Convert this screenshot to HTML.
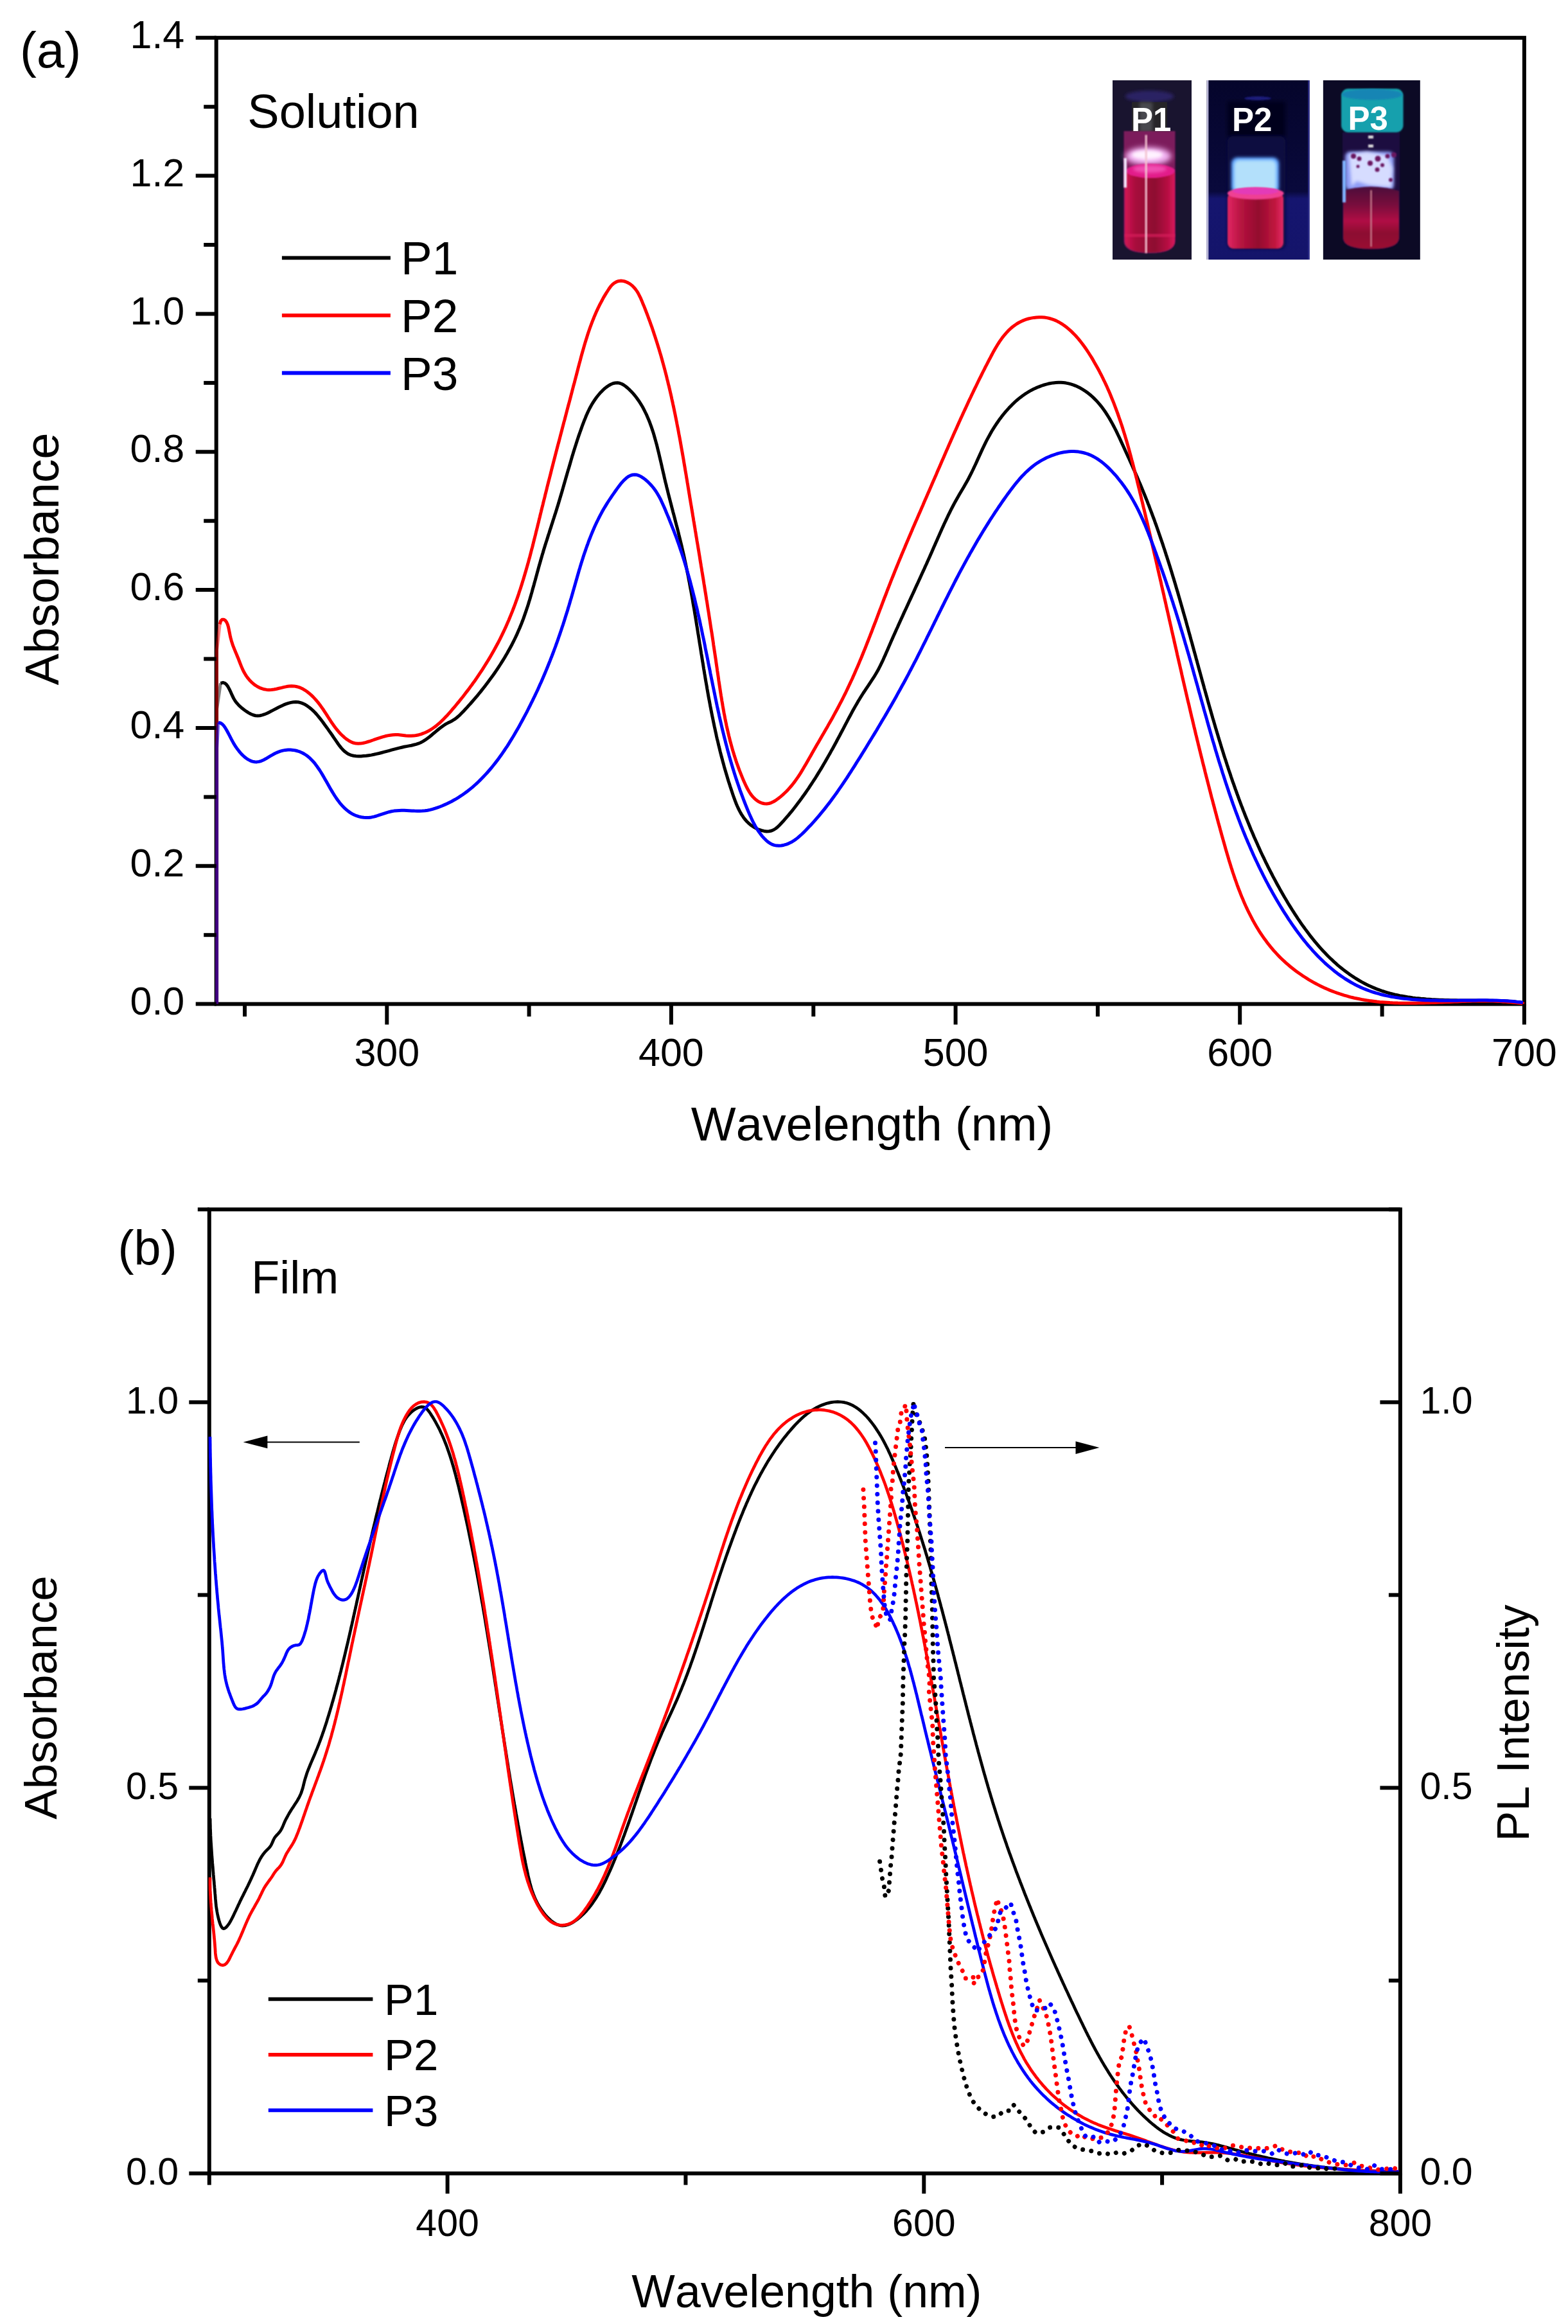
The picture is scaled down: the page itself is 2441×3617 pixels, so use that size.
<!DOCTYPE html>
<html><head><meta charset="utf-8"><title>Figure</title>
<style>
html,body{margin:0;padding:0;background:#fff;}
svg{display:block;}
svg text{font-family:"Liberation Sans",sans-serif;fill:#000;font-kerning:none;}
</style></head><body>
<svg width="2441" height="3617" viewBox="0 0 2441 3617">
<rect width="2441" height="3617" fill="#fff"/>
<g id="plotA">
<rect x="336.7" y="58.8" width="2036.2" height="1503.8" fill="none" stroke="#000" stroke-width="6.0"/>
<path d="M337.6,1562.6 L337.6,1103.3 L343.4,1063.3" fill="none" stroke="#000" stroke-width="5.0" stroke-opacity="0.5" stroke-linejoin="round"/>
<path d="M343.4,1063.3 L347.1,1062.3 L350.2,1063.3 L352.8,1065.7 L355,1068.8 L356.9,1072.4 L358.7,1076.1 L360.4,1079.9 L362.1,1083.6 L363.9,1087.3 L366,1090.7 L368.4,1093.9 L371.1,1096.9 L373.9,1099.7 L376.9,1102.3 L380.1,1104.8 L383.5,1107.2 L386.9,1109.4 L390.4,1111.3 L394,1112.8 L397.6,1113.7 L401.1,1114 L404.7,1113.7 L408.3,1112.9 L411.9,1111.7 L415.5,1110.2 L419.1,1108.4 L422.7,1106.6 L426.4,1104.6 L430.1,1102.7 L433.8,1100.8 L437.6,1099 L441.4,1097.2 L445.2,1095.7 L449.1,1094.4 L452.9,1093.4 L456.7,1092.7 L460.5,1092.5 L464.3,1092.8 L467.9,1093.6 L471.5,1094.9 L475,1096.6 L478.3,1098.7 L481.5,1101 L484.6,1103.5 L487.5,1106.2 L490.4,1109 L493.1,1112 L495.7,1115.1 L498.3,1118.3 L500.8,1121.5 L503.2,1124.7 L505.5,1128 L507.9,1131.2 L510.2,1134.4 L512.4,1137.6 L514.7,1140.8 L517,1144 L519.2,1147.3 L521.5,1150.6 L523.9,1154.1 L526.2,1157.5 L528.7,1160.9 L531.3,1164.1 L534,1167.1 L536.9,1169.8 L539.9,1172.1 L543.2,1174 L546.7,1175.4 L550.4,1176.3 L554.2,1176.7 L558.1,1176.9 L562.1,1176.9 L566,1176.6 L570,1176.3 L574,1175.7 L578,1175.1 L582,1174.3 L586,1173.4 L590,1172.5 L593.9,1171.5 L597.9,1170.4 L601.9,1169.3 L605.8,1168.3 L609.8,1167.2 L613.7,1166.1 L617.6,1165.1 L621.5,1164.1 L625.3,1163.2 L629.2,1162.3 L632.9,1161.6 L636.7,1160.9 L640.4,1160.2 L644.1,1159.3 L647.8,1158.4 L651.4,1157.2 L654.9,1155.7 L658.4,1153.9 L661.9,1151.7 L665.3,1149.3 L668.7,1146.7 L672,1144 L675.2,1141.2 L678.4,1138.6 L681.5,1136 L684.6,1133.5 L687.7,1131.2 L690.8,1129 L694,1126.9 L697.4,1125.1 L700.8,1123.4 L704.1,1121.7 L707.4,1119.7 L710.4,1117.4 L713.4,1115 L716.3,1112.3 L719,1109.6 L721.8,1106.7 L724.5,1103.8 L727.2,1100.9 L729.8,1097.9 L732.5,1095 L735.1,1092 L737.8,1088.9 L740.4,1085.9 L743,1082.8 L745.5,1079.7 L748.1,1076.6 L750.6,1073.4 L753.1,1070.2 L755.6,1067.1 L758.1,1063.8 L760.5,1060.6 L762.9,1057.3 L765.3,1054.1 L767.7,1050.8 L770,1047.5 L772.3,1044.1 L774.5,1040.8 L776.8,1037.4 L779,1034 L781.1,1030.6 L783.3,1027.1 L785.4,1023.7 L787.4,1020.2 L789.5,1016.8 L791.4,1013.3 L793.4,1009.7 L795.3,1006.2 L797.2,1002.7 L799,999.1 L800.8,995.5 L802.5,992 L804.2,988.4 L805.8,984.7 L807.4,981.1 L809,977.5 L810.5,973.8 L812,970.2 L813.4,966.5 L814.8,962.8 L816.1,959.1 L817.4,955.4 L818.7,951.7 L819.9,948 L821.2,944.2 L822.4,940.5 L823.5,936.7 L824.7,933 L825.8,929.2 L826.9,925.4 L828,921.6 L829,917.8 L830.1,914 L831.2,910.2 L832.2,906.4 L833.3,902.6 L834.3,898.8 L835.4,894.9 L836.4,891.1 L837.5,887.2 L838.5,883.4 L839.6,879.5 L840.7,875.7 L841.8,871.8 L842.9,868 L844,864.1 L845.2,860.2 L846.3,856.3 L847.5,852.5 L848.7,848.6 L849.9,844.7 L851.2,840.8 L852.4,836.9 L853.6,833 L854.9,829.2 L856.1,825.3 L857.4,821.4 L858.6,817.5 L859.9,813.6 L861.1,809.7 L862.4,805.8 L863.6,801.9 L864.9,798.1 L866.1,794.2 L867.3,790.3 L868.5,786.4 L869.7,782.6 L870.8,778.7 L872,774.8 L873.1,771 L874.3,767.1 L875.4,763.2 L876.5,759.4 L877.6,755.5 L878.7,751.7 L879.8,747.9 L880.9,744 L882,740.2 L883.1,736.4 L884.2,732.6 L885.4,728.8 L886.5,725 L887.6,721.2 L888.7,717.4 L889.8,713.6 L890.9,709.8 L892.1,706 L893.2,702.3 L894.4,698.5 L895.6,694.8 L896.8,691.1 L898,687.3 L899.2,683.6 L900.4,679.9 L901.7,676.2 L903,672.5 L904.3,668.8 L905.6,665.2 L906.9,661.5 L908.3,657.9 L909.7,654.2 L911.2,650.6 L912.6,647 L914.2,643.4 L915.9,639.8 L917.6,636.2 L919.5,632.7 L921.5,629.1 L923.7,625.6 L926.1,622 L928.6,618.5 L931.4,615 L934.3,611.6 L937.4,608.4 L940.6,605.3 L943.9,602.6 L947.3,600.2 L950.8,598.3 L954.3,596.8 L957.7,596 L961.2,595.8 L964.6,596.3 L967.9,597.5 L971.1,599.3 L974.2,601.5 L977.2,604 L980.1,606.7 L982.9,609.5 L985.6,612.4 L988.1,615.4 L990.6,618.5 L992.9,621.7 L995.2,625 L997.3,628.4 L999.4,631.8 L1001.4,635.3 L1003.2,638.9 L1005,642.5 L1006.8,646.2 L1008.4,649.9 L1010,653.7 L1011.5,657.5 L1012.9,661.4 L1014.3,665.2 L1015.6,669.1 L1016.9,673.1 L1018.1,677 L1019.2,681 L1020.3,684.9 L1021.4,688.9 L1022.5,692.8 L1023.5,696.8 L1024.4,700.7 L1025.4,704.6 L1026.3,708.5 L1027.2,712.3 L1028.1,716.2 L1029,720 L1029.9,723.8 L1030.7,727.7 L1031.6,731.5 L1032.5,735.3 L1033.4,739.1 L1034.2,742.9 L1035.1,746.8 L1036,750.6 L1037,754.4 L1037.9,758.3 L1038.9,762.2 L1039.8,766 L1040.8,769.9 L1041.8,773.8 L1042.8,777.6 L1043.8,781.5 L1044.8,785.4 L1045.8,789.3 L1046.8,793.2 L1047.8,797.1 L1048.9,801 L1049.9,804.9 L1050.9,808.9 L1051.9,812.8 L1052.9,816.7 L1054,820.6 L1055,824.6 L1056,828.5 L1056.9,832.4 L1057.9,836.3 L1058.9,840.3 L1059.8,844.2 L1060.8,848.1 L1061.7,852.1 L1062.6,856 L1063.5,859.9 L1064.4,863.9 L1065.3,867.8 L1066.1,871.7 L1067,875.7 L1067.8,879.6 L1068.6,883.5 L1069.4,887.5 L1070.2,891.4 L1071,895.3 L1071.8,899.3 L1072.5,903.2 L1073.3,907.1 L1074,911.1 L1074.7,915 L1075.5,918.9 L1076.2,922.9 L1076.9,926.8 L1077.6,930.7 L1078.3,934.6 L1078.9,938.6 L1079.6,942.5 L1080.3,946.4 L1081,950.4 L1081.6,954.3 L1082.3,958.2 L1082.9,962.1 L1083.6,966.1 L1084.2,970 L1084.8,973.9 L1085.5,977.8 L1086.1,981.8 L1086.7,985.7 L1087.4,989.6 L1088,993.5 L1088.6,997.5 L1089.2,1001.4 L1089.9,1005.3 L1090.5,1009.2 L1091.1,1013.2 L1091.7,1017.1 L1092.4,1021 L1093,1024.9 L1093.6,1028.8 L1094.3,1032.8 L1094.9,1036.7 L1095.5,1040.6 L1096.2,1044.5 L1096.8,1048.4 L1097.5,1052.3 L1098.1,1056.3 L1098.8,1060.2 L1099.5,1064.1 L1100.2,1068 L1100.8,1071.9 L1101.5,1075.8 L1102.2,1079.7 L1102.9,1083.7 L1103.6,1087.6 L1104.4,1091.5 L1105.1,1095.4 L1105.8,1099.3 L1106.6,1103.2 L1107.3,1107.1 L1108.1,1111 L1108.9,1114.9 L1109.7,1118.8 L1110.5,1122.7 L1111.3,1126.6 L1112.1,1130.5 L1113,1134.4 L1113.8,1138.3 L1114.7,1142.3 L1115.5,1146.2 L1116.4,1150.1 L1117.4,1154 L1118.3,1157.8 L1119.2,1161.7 L1120.2,1165.6 L1121.1,1169.5 L1122.1,1173.4 L1123.1,1177.3 L1124.2,1181.2 L1125.2,1185.1 L1126.3,1189 L1127.3,1192.9 L1128.4,1196.8 L1129.6,1200.7 L1130.7,1204.6 L1131.9,1208.5 L1133,1212.3 L1134.2,1216.2 L1135.5,1220.1 L1136.7,1224 L1138,1227.9 L1139.3,1231.8 L1140.6,1235.7 L1141.9,1239.5 L1143.3,1243.4 L1144.7,1247.2 L1146.2,1251 L1147.8,1254.7 L1149.5,1258.4 L1151.2,1261.9 L1153.1,1265.4 L1155.1,1268.7 L1157.3,1271.9 L1159.6,1275 L1162.1,1277.9 L1164.8,1280.6 L1167.7,1283.2 L1170.8,1285.5 L1174.1,1287.6 L1177.6,1289.5 L1181.4,1291.2 L1185.4,1292.5 L1189.4,1293.4 L1193.4,1293.9 L1197.3,1293.7 L1201,1293 L1204.4,1291.5 L1207.6,1289.5 L1210.7,1287.1 L1213.5,1284.3 L1216.3,1281.3 L1219.1,1278.3 L1221.8,1275.2 L1224.4,1272.2 L1227.1,1269.1 L1229.7,1265.9 L1232.3,1262.8 L1234.8,1259.7 L1237.3,1256.5 L1239.8,1253.3 L1242.2,1250.1 L1244.7,1246.8 L1247.1,1243.6 L1249.4,1240.3 L1251.8,1237 L1254.1,1233.7 L1256.4,1230.4 L1258.7,1227.1 L1260.9,1223.7 L1263.1,1220.4 L1265.3,1217 L1267.5,1213.6 L1269.7,1210.3 L1271.8,1206.9 L1273.9,1203.4 L1276,1200 L1278.1,1196.6 L1280.1,1193.2 L1282.1,1189.7 L1284.2,1186.3 L1286.2,1182.8 L1288.2,1179.3 L1290.1,1175.9 L1292.1,1172.4 L1294,1168.9 L1296,1165.4 L1297.9,1162 L1299.8,1158.5 L1301.7,1155 L1303.5,1151.5 L1305.4,1148 L1307.3,1144.5 L1309.1,1141 L1311,1137.5 L1312.8,1134.1 L1314.6,1130.6 L1316.4,1127.1 L1318.3,1123.6 L1320.1,1120.2 L1321.9,1116.7 L1323.8,1113.2 L1325.6,1109.8 L1327.5,1106.3 L1329.5,1102.8 L1331.4,1099.4 L1333.4,1095.9 L1335.4,1092.4 L1337.5,1089 L1339.6,1085.5 L1341.8,1082 L1344,1078.5 L1346.3,1075.1 L1348.6,1071.6 L1351,1068.1 L1353.3,1064.6 L1355.6,1061.2 L1357.9,1057.7 L1360.2,1054.2 L1362.3,1050.7 L1364.4,1047.2 L1366.4,1043.7 L1368.3,1040.2 L1370.1,1036.7 L1371.8,1033.2 L1373.5,1029.7 L1375.1,1026.2 L1376.7,1022.6 L1378.3,1019.1 L1379.8,1015.6 L1381.4,1012 L1382.9,1008.5 L1384.4,1004.9 L1386,1001.3 L1387.5,997.8 L1389.1,994.2 L1390.7,990.6 L1392.3,987 L1393.9,983.4 L1395.5,979.8 L1397.2,976.2 L1398.8,972.6 L1400.4,969 L1402.1,965.3 L1403.7,961.7 L1405.4,958.1 L1407,954.4 L1408.7,950.8 L1410.4,947.2 L1412.1,943.5 L1413.7,939.9 L1415.4,936.2 L1417.1,932.6 L1418.8,928.9 L1420.5,925.3 L1422.2,921.6 L1423.9,917.9 L1425.5,914.3 L1427.2,910.6 L1428.9,907 L1430.6,903.3 L1432.3,899.6 L1433.9,896 L1435.6,892.3 L1437.3,888.6 L1439,885 L1440.6,881.3 L1442.3,877.7 L1443.9,874 L1445.6,870.3 L1447.2,866.7 L1448.8,863 L1450.4,859.4 L1452,855.7 L1453.6,852.1 L1455.2,848.5 L1456.8,844.8 L1458.4,841.2 L1460,837.5 L1461.6,833.9 L1463.2,830.3 L1464.8,826.7 L1466.4,823 L1468.1,819.4 L1469.7,815.8 L1471.4,812.2 L1473.1,808.6 L1474.8,805 L1476.5,801.4 L1478.3,797.8 L1480.1,794.2 L1481.9,790.6 L1483.8,787 L1485.7,783.4 L1487.7,779.8 L1489.7,776.2 L1491.7,772.7 L1493.8,769.1 L1495.9,765.5 L1498,762 L1500.1,758.4 L1502.2,754.8 L1504.2,751.3 L1506.2,747.7 L1508.1,744.2 L1509.9,740.6 L1511.7,737.1 L1513.5,733.5 L1515.2,730 L1516.8,726.5 L1518.5,723 L1520.1,719.4 L1521.7,715.9 L1523.3,712.4 L1524.9,708.9 L1526.5,705.4 L1528.1,701.9 L1529.7,698.4 L1531.4,694.9 L1533.1,691.4 L1534.8,687.9 L1536.6,684.4 L1538.5,680.9 L1540.4,677.5 L1542.3,674 L1544.3,670.5 L1546.4,667.1 L1548.6,663.7 L1550.8,660.3 L1553.1,657 L1555.4,653.6 L1557.8,650.4 L1560.3,647.1 L1562.8,644 L1565.4,640.8 L1568.1,637.8 L1570.8,634.8 L1573.6,631.9 L1576.5,629 L1579.4,626.2 L1582.4,623.5 L1585.5,620.9 L1588.6,618.4 L1591.8,616 L1595.1,613.7 L1598.5,611.5 L1601.9,609.4 L1605.4,607.4 L1609,605.6 L1612.6,603.9 L1616.3,602.3 L1620.1,600.8 L1623.9,599.5 L1627.8,598.3 L1631.7,597.3 L1635.7,596.5 L1639.6,595.9 L1643.6,595.5 L1647.6,595.3 L1651.6,595.3 L1655.5,595.6 L1659.5,596.1 L1663.4,596.9 L1667.2,597.9 L1671,599.1 L1674.8,600.6 L1678.4,602.3 L1682,604.1 L1685.5,606.2 L1688.9,608.3 L1692.2,610.6 L1695.3,613 L1698.4,615.5 L1701.3,618.2 L1704.1,620.9 L1706.9,623.7 L1709.5,626.6 L1712.1,629.6 L1714.5,632.6 L1716.9,635.8 L1719.2,639 L1721.5,642.3 L1723.6,645.6 L1725.7,649 L1727.8,652.4 L1729.8,655.9 L1731.7,659.4 L1733.6,663 L1735.5,666.6 L1737.3,670.2 L1739.1,673.9 L1740.8,677.5 L1742.6,681.2 L1744.3,684.9 L1746,688.6 L1747.7,692.3 L1749.4,696 L1751.1,699.7 L1752.7,703.3 L1754.4,707 L1756.1,710.7 L1757.8,714.3 L1759.4,718 L1761.1,721.7 L1762.7,725.3 L1764.3,729 L1765.9,732.6 L1767.6,736.3 L1769.2,739.9 L1770.8,743.6 L1772.3,747.3 L1773.9,750.9 L1775.5,754.6 L1777,758.3 L1778.5,761.9 L1780,765.6 L1781.5,769.3 L1783,773 L1784.5,776.7 L1786,780.4 L1787.4,784.1 L1788.9,787.8 L1790.3,791.6 L1791.7,795.3 L1793.1,799 L1794.5,802.8 L1795.9,806.5 L1797.3,810.2 L1798.6,814 L1800,817.7 L1801.3,821.5 L1802.6,825.3 L1803.9,829 L1805.2,832.8 L1806.5,836.6 L1807.8,840.3 L1809.1,844.1 L1810.4,847.9 L1811.6,851.7 L1812.9,855.5 L1814.1,859.3 L1815.3,863.1 L1816.6,866.9 L1817.8,870.7 L1819,874.5 L1820.2,878.3 L1821.4,882.1 L1822.6,885.9 L1823.8,889.8 L1824.9,893.6 L1826.1,897.4 L1827.3,901.2 L1828.4,905.1 L1829.6,908.9 L1830.7,912.7 L1831.8,916.6 L1833,920.4 L1834.1,924.3 L1835.2,928.1 L1836.3,931.9 L1837.4,935.8 L1838.5,939.6 L1839.6,943.5 L1840.7,947.3 L1841.8,951.2 L1842.9,955.1 L1844,958.9 L1845.1,962.8 L1846.2,966.6 L1847.2,970.5 L1848.3,974.4 L1849.4,978.2 L1850.4,982.1 L1851.5,986 L1852.6,989.8 L1853.6,993.7 L1854.7,997.6 L1855.8,1001.4 L1856.8,1005.3 L1857.9,1009.2 L1858.9,1013 L1860,1016.9 L1861.1,1020.8 L1862.1,1024.7 L1863.2,1028.5 L1864.2,1032.4 L1865.3,1036.3 L1866.3,1040.1 L1867.4,1044 L1868.5,1047.9 L1869.5,1051.7 L1870.6,1055.6 L1871.6,1059.5 L1872.7,1063.3 L1873.8,1067.2 L1874.8,1071.1 L1875.9,1074.9 L1877,1078.8 L1878.1,1082.7 L1879.2,1086.5 L1880.2,1090.4 L1881.3,1094.3 L1882.4,1098.1 L1883.5,1102 L1884.6,1105.8 L1885.7,1109.7 L1886.8,1113.5 L1887.9,1117.4 L1889.1,1121.2 L1890.2,1125.1 L1891.3,1128.9 L1892.4,1132.8 L1893.6,1136.6 L1894.7,1140.4 L1895.9,1144.3 L1897,1148.1 L1898.2,1151.9 L1899.4,1155.8 L1900.5,1159.6 L1901.7,1163.4 L1902.9,1167.2 L1904.1,1171 L1905.3,1174.9 L1906.5,1178.7 L1907.8,1182.5 L1909,1186.3 L1910.2,1190.1 L1911.5,1193.9 L1912.7,1197.7 L1914,1201.5 L1915.3,1205.2 L1916.5,1209 L1917.8,1212.8 L1919.1,1216.6 L1920.5,1220.4 L1921.8,1224.1 L1923.1,1227.9 L1924.5,1231.6 L1925.8,1235.4 L1927.2,1239.2 L1928.5,1242.9 L1929.9,1246.6 L1931.3,1250.4 L1932.7,1254.1 L1934.2,1257.8 L1935.6,1261.6 L1937.1,1265.3 L1938.5,1269 L1940,1272.7 L1941.5,1276.4 L1943,1280.1 L1944.5,1283.8 L1946,1287.5 L1947.5,1291.2 L1949.1,1294.8 L1950.7,1298.5 L1952.2,1302.2 L1953.8,1305.8 L1955.5,1309.5 L1957.1,1313.1 L1958.7,1316.8 L1960.4,1320.4 L1962,1324.1 L1963.7,1327.7 L1965.4,1331.3 L1967.2,1334.9 L1968.9,1338.5 L1970.6,1342.1 L1972.4,1345.7 L1974.2,1349.3 L1976,1352.9 L1977.8,1356.4 L1979.7,1360 L1981.5,1363.6 L1983.4,1367.1 L1985.3,1370.7 L1987.2,1374.2 L1989.1,1377.7 L1991.1,1381.2 L1993,1384.8 L1995,1388.3 L1997,1391.8 L1999,1395.3 L2001.1,1398.7 L2003.2,1402.2 L2005.2,1405.7 L2007.3,1409.1 L2009.5,1412.6 L2011.6,1416 L2013.8,1419.4 L2016,1422.8 L2018.2,1426.2 L2020.4,1429.6 L2022.7,1432.9 L2025,1436.3 L2027.3,1439.6 L2029.6,1442.8 L2032,1446.1 L2034.4,1449.3 L2036.8,1452.5 L2039.2,1455.7 L2041.7,1458.9 L2044.2,1462 L2046.7,1465.1 L2049.3,1468.1 L2051.8,1471.1 L2054.4,1474.1 L2057.1,1477.1 L2059.7,1480 L2062.4,1482.8 L2065.2,1485.7 L2067.9,1488.5 L2070.7,1491.2 L2073.6,1493.9 L2076.4,1496.6 L2079.3,1499.2 L2082.2,1501.8 L2085.2,1504.3 L2088.2,1506.7 L2091.2,1509.1 L2094.3,1511.5 L2097.4,1513.8 L2100.5,1516.1 L2103.7,1518.3 L2106.9,1520.4 L2110.1,1522.5 L2113.4,1524.5 L2116.7,1526.5 L2120.1,1528.4 L2123.5,1530.2 L2126.9,1532 L2130.4,1533.7 L2133.9,1535.3 L2137.5,1536.9 L2141.1,1538.4 L2144.7,1539.8 L2148.4,1541.2 L2152.1,1542.5 L2155.9,1543.7 L2159.7,1544.8 L2163.5,1545.9 L2167.4,1546.9 L2171.3,1547.9 L2175.3,1548.7 L2179.2,1549.6 L2183.2,1550.3 L2187.3,1551 L2191.3,1551.7 L2195.4,1552.3 L2199.5,1552.9 L2203.6,1553.4 L2207.8,1553.8 L2211.9,1554.3 L2216.1,1554.6 L2220.3,1555 L2224.5,1555.3 L2228.7,1555.6 L2232.9,1555.8 L2237.1,1556 L2241.3,1556.2 L2245.5,1556.3 L2249.7,1556.5 L2254,1556.6 L2258.2,1556.7 L2262.4,1556.8 L2266.6,1556.8 L2270.8,1556.9 L2275,1556.9 L2279.1,1556.9 L2283.3,1557 L2287.4,1557 L2291.5,1557 L2295.6,1557 L2299.7,1557 L2303.8,1557 L2307.8,1557.1 L2311.8,1557.1 L2315.8,1557.1 L2319.7,1557.2 L2323.6,1557.3 L2327.5,1557.4 L2331.3,1557.5 L2335.1,1557.6 L2338.9,1557.7 L2342.6,1557.9 L2346.3,1558.1 L2349.9,1558.4 L2353.5,1558.6 L2357,1558.9 L2360.5,1559.3 L2363.9,1559.6 L2367.3,1560 L2370.5,1560.5" fill="none" stroke="#000" stroke-width="5.0" stroke-linejoin="round"/>
<path d="M337.6,1562.6 L337.6,1011.6 L342.2,971.6" fill="none" stroke="#f00" stroke-width="5.0" stroke-opacity="0.5" stroke-linejoin="round"/>
<path d="M342.2,971.6 L343.6,966.5 L345.8,964.3 L348.3,964.2 L350.8,965.7 L352.7,968.3 L354.3,971.7 L355.5,975.7 L356.4,980.1 L357.3,984.6 L358.2,989.1 L359.2,993.4 L360.3,997.4 L361.5,1001.2 L362.7,1004.9 L364.1,1008.4 L365.5,1011.9 L366.9,1015.3 L368.4,1018.7 L369.8,1022.2 L371.3,1025.8 L372.7,1029.5 L374.2,1033.3 L375.7,1037.1 L377.3,1040.9 L379.1,1044.7 L381.1,1048.3 L383.3,1051.9 L385.7,1055.2 L388.4,1058.4 L391.2,1061.3 L394.2,1064 L397.3,1066.4 L400.6,1068.5 L404,1070.3 L407.6,1071.7 L411.2,1072.8 L415,1073.4 L418.8,1073.7 L422.6,1073.5 L426.5,1073 L430.5,1072.2 L434.4,1071.3 L438.4,1070.4 L442.3,1069.4 L446.2,1068.6 L450,1068.1 L453.8,1067.8 L457.6,1067.9 L461.2,1068.5 L464.7,1069.4 L468.2,1070.7 L471.6,1072.3 L474.9,1074.3 L478.1,1076.5 L481.2,1078.9 L484.3,1081.6 L487.2,1084.4 L490,1087.4 L492.8,1090.5 L495.4,1093.7 L498,1097 L500.4,1100.4 L502.8,1103.7 L505,1107.1 L507.2,1110.4 L509.3,1113.7 L511.4,1117 L513.5,1120.2 L515.6,1123.5 L517.8,1126.7 L520,1129.8 L522.4,1133 L524.9,1136.1 L527.5,1139.2 L530.3,1142.2 L533.4,1145.2 L536.6,1148.1 L539.9,1150.7 L543.4,1153 L546.9,1154.9 L550.6,1156.3 L554.2,1157.1 L557.9,1157.3 L561.5,1157.1 L565.2,1156.5 L569,1155.6 L572.7,1154.5 L576.5,1153.3 L580.3,1152 L584.1,1150.6 L587.9,1149.3 L591.8,1148.1 L595.7,1146.9 L599.6,1145.8 L603.6,1144.9 L607.6,1144.2 L611.6,1143.7 L615.6,1143.5 L619.7,1143.6 L623.8,1143.9 L627.8,1144.4 L631.9,1144.9 L636,1145.2 L640.1,1145.3 L644.1,1145.1 L648,1144.5 L651.9,1143.7 L655.7,1142.6 L659.3,1141.2 L662.9,1139.7 L666.4,1138 L669.7,1136.1 L673,1134 L676.2,1131.8 L679.3,1129.4 L682.3,1126.9 L685.3,1124.3 L688.2,1121.5 L691,1118.7 L693.8,1115.8 L696.6,1112.9 L699.3,1109.9 L702,1106.8 L704.6,1103.7 L707.3,1100.6 L709.9,1097.5 L712.4,1094.4 L715,1091.3 L717.5,1088.1 L720.1,1085 L722.6,1081.8 L725,1078.6 L727.5,1075.4 L729.9,1072.2 L732.3,1068.9 L734.7,1065.7 L737,1062.4 L739.4,1059.2 L741.7,1055.9 L743.9,1052.6 L746.2,1049.2 L748.4,1045.9 L750.6,1042.6 L752.8,1039.2 L754.9,1035.8 L757,1032.4 L759.1,1029 L761.2,1025.6 L763.2,1022.2 L765.2,1018.8 L767.2,1015.3 L769.2,1011.8 L771.1,1008.3 L773,1004.8 L774.9,1001.3 L776.7,997.8 L778.5,994.3 L780.3,990.7 L782,987.1 L783.7,983.6 L785.4,980 L787.1,976.4 L788.7,972.7 L790.3,969.1 L791.9,965.5 L793.4,961.8 L794.9,958.1 L796.4,954.4 L797.9,950.7 L799.3,947 L800.7,943.3 L802.1,939.6 L803.4,935.9 L804.8,932.1 L806.1,928.4 L807.4,924.6 L808.6,920.8 L809.9,917 L811.1,913.2 L812.3,909.4 L813.5,905.6 L814.7,901.8 L815.8,898 L817,894.1 L818.1,890.3 L819.2,886.5 L820.3,882.6 L821.4,878.8 L822.5,874.9 L823.5,871 L824.6,867.2 L825.6,863.3 L826.6,859.4 L827.6,855.5 L828.7,851.6 L829.7,847.7 L830.6,843.8 L831.6,839.9 L832.6,836 L833.6,832.1 L834.5,828.2 L835.5,824.3 L836.5,820.4 L837.4,816.5 L838.4,812.6 L839.3,808.7 L840.3,804.8 L841.2,800.9 L842.2,797 L843.1,793.1 L844.1,789.2 L845.1,785.3 L846,781.4 L847,777.5 L848,773.6 L848.9,769.7 L849.9,765.8 L850.9,761.9 L851.8,758 L852.8,754.1 L853.8,750.2 L854.8,746.4 L855.8,742.5 L856.8,738.6 L857.8,734.7 L858.7,730.8 L859.7,727 L860.7,723.1 L861.7,719.2 L862.7,715.3 L863.7,711.5 L864.7,707.6 L865.7,703.7 L866.7,699.8 L867.7,696 L868.7,692.1 L869.8,688.3 L870.8,684.4 L871.8,680.5 L872.8,676.7 L873.8,672.8 L874.8,669 L875.8,665.1 L876.8,661.3 L877.8,657.4 L878.9,653.6 L879.9,649.7 L880.9,645.9 L881.9,642 L882.9,638.2 L883.9,634.3 L884.9,630.5 L886,626.6 L887,622.8 L888,619 L889,615.1 L890,611.3 L891,607.4 L892,603.6 L893,599.7 L894.1,595.9 L895.1,592 L896.1,588.2 L897.1,584.3 L898.1,580.5 L899.1,576.6 L900.1,572.7 L901.1,568.9 L902.1,565 L903.2,561.1 L904.2,557.2 L905.2,553.4 L906.3,549.5 L907.4,545.6 L908.5,541.8 L909.6,537.9 L910.7,534.1 L911.9,530.2 L913.1,526.4 L914.3,522.6 L915.5,518.8 L916.8,515 L918.1,511.2 L919.5,507.4 L920.9,503.6 L922.3,499.9 L923.8,496.2 L925.3,492.4 L926.9,488.7 L928.5,485.1 L930.2,481.4 L931.9,477.8 L933.7,474.2 L935.6,470.6 L937.5,467 L939.4,463.4 L941.5,459.9 L943.6,456.4 L945.8,453 L948,449.5 L950.4,446.2 L953.1,443.2 L956.1,440.6 L959.5,438.7 L963.1,437.4 L966.8,437.1 L970.5,437.4 L974.1,438.5 L977.7,440.1 L981.1,442.1 L984.2,444.6 L987,447.4 L989.5,450.4 L991.8,453.6 L993.8,457 L995.6,460.6 L997.4,464.2 L999,467.9 L1000.5,471.7 L1002.1,475.4 L1003.6,479.2 L1005.1,483 L1006.5,486.7 L1008,490.5 L1009.4,494.3 L1010.8,498.1 L1012.2,501.9 L1013.5,505.7 L1014.9,509.4 L1016.2,513.2 L1017.5,517.1 L1018.7,520.9 L1020,524.7 L1021.2,528.5 L1022.4,532.3 L1023.6,536.1 L1024.8,540 L1026,543.8 L1027.1,547.6 L1028.3,551.5 L1029.4,555.3 L1030.5,559.2 L1031.5,563 L1032.6,566.9 L1033.6,570.7 L1034.7,574.6 L1035.7,578.5 L1036.7,582.3 L1037.7,586.2 L1038.6,590.1 L1039.6,594 L1040.5,597.9 L1041.5,601.7 L1042.4,605.6 L1043.3,609.5 L1044.2,613.4 L1045.1,617.3 L1045.9,621.2 L1046.8,625.1 L1047.6,629 L1048.5,632.9 L1049.3,636.8 L1050.1,640.7 L1050.9,644.6 L1051.7,648.6 L1052.5,652.5 L1053.3,656.4 L1054,660.3 L1054.8,664.2 L1055.6,668.2 L1056.3,672.1 L1057,676 L1057.8,679.9 L1058.5,683.9 L1059.2,687.8 L1059.9,691.7 L1060.6,695.7 L1061.3,699.6 L1062,703.5 L1062.7,707.5 L1063.4,711.4 L1064.1,715.4 L1064.7,719.3 L1065.4,723.2 L1066.1,727.2 L1066.7,731.1 L1067.4,735.1 L1068.1,739 L1068.7,743 L1069.4,746.9 L1070,750.9 L1070.7,754.8 L1071.3,758.7 L1072,762.7 L1072.6,766.6 L1073.3,770.6 L1073.9,774.5 L1074.6,778.5 L1075.2,782.4 L1075.9,786.4 L1076.6,790.3 L1077.2,794.3 L1077.9,798.2 L1078.5,802.2 L1079.2,806.1 L1079.8,810.1 L1080.5,814 L1081.1,818 L1081.8,821.9 L1082.4,825.9 L1083.1,829.8 L1083.7,833.8 L1084.4,837.7 L1085,841.7 L1085.7,845.6 L1086.4,849.6 L1087,853.5 L1087.7,857.5 L1088.3,861.4 L1089,865.4 L1089.6,869.3 L1090.2,873.3 L1090.9,877.2 L1091.5,881.2 L1092.2,885.1 L1092.8,889.1 L1093.5,893.1 L1094.1,897 L1094.8,901 L1095.4,904.9 L1096,908.9 L1096.7,912.8 L1097.3,916.8 L1097.9,920.7 L1098.6,924.7 L1099.2,928.6 L1099.8,932.6 L1100.5,936.5 L1101.1,940.5 L1101.7,944.5 L1102.3,948.4 L1103,952.4 L1103.6,956.3 L1104.2,960.3 L1104.8,964.2 L1105.4,968.2 L1106,972.1 L1106.6,976.1 L1107.2,980 L1107.9,984 L1108.5,987.9 L1109.1,991.9 L1109.7,995.8 L1110.3,999.8 L1110.8,1003.8 L1111.4,1007.7 L1112,1011.7 L1112.6,1015.6 L1113.2,1019.6 L1113.8,1023.5 L1114.4,1027.5 L1114.9,1031.4 L1115.5,1035.4 L1116.1,1039.3 L1116.6,1043.3 L1117.2,1047.2 L1117.8,1051.2 L1118.4,1055.1 L1118.9,1059.1 L1119.5,1063 L1120.1,1066.9 L1120.7,1070.9 L1121.3,1074.8 L1121.9,1078.8 L1122.5,1082.7 L1123.2,1086.6 L1123.8,1090.6 L1124.5,1094.5 L1125.1,1098.4 L1125.8,1102.3 L1126.5,1106.3 L1127.2,1110.2 L1128,1114.1 L1128.7,1118 L1129.5,1121.9 L1130.3,1125.8 L1131.1,1129.7 L1132,1133.6 L1132.9,1137.5 L1133.8,1141.4 L1134.7,1145.3 L1135.7,1149.1 L1136.6,1153 L1137.7,1156.9 L1138.7,1160.7 L1139.8,1164.6 L1140.9,1168.5 L1142.1,1172.3 L1143.2,1176.1 L1144.5,1180 L1145.7,1183.8 L1147,1187.6 L1148.4,1191.4 L1149.8,1195.3 L1151.2,1199.1 L1152.7,1202.9 L1154.2,1206.7 L1155.7,1210.4 L1157.3,1214.2 L1159,1218 L1160.7,1221.7 L1162.5,1225.4 L1164.4,1229.1 L1166.4,1232.5 L1168.6,1235.9 L1171,1239 L1173.7,1241.9 L1176.5,1244.5 L1179.6,1246.8 L1182.9,1248.7 L1186.3,1250 L1189.8,1250.8 L1193.5,1251 L1197.1,1250.5 L1200.8,1249.3 L1204.5,1247.5 L1208.1,1245.3 L1211.6,1242.8 L1215,1240.1 L1218.2,1237.4 L1221.3,1234.5 L1224.2,1231.7 L1227.1,1228.7 L1229.8,1225.7 L1232.4,1222.6 L1234.9,1219.5 L1237.3,1216.4 L1239.6,1213.1 L1241.9,1209.9 L1244.1,1206.6 L1246.2,1203.3 L1248.3,1199.9 L1250.3,1196.5 L1252.3,1193.1 L1254.3,1189.7 L1256.3,1186.3 L1258.3,1182.8 L1260.2,1179.4 L1262.2,1175.9 L1264.1,1172.5 L1266.1,1169 L1268.1,1165.6 L1270.1,1162.1 L1272.1,1158.6 L1274.1,1155.2 L1276.1,1151.7 L1278.1,1148.2 L1280.1,1144.8 L1282.2,1141.3 L1284.2,1137.8 L1286.2,1134.3 L1288.2,1130.9 L1290.1,1127.4 L1292.1,1123.9 L1294.1,1120.4 L1296.1,1116.9 L1298,1113.4 L1299.9,1109.8 L1301.9,1106.3 L1303.8,1102.8 L1305.7,1099.2 L1307.5,1095.7 L1309.4,1092.1 L1311.2,1088.6 L1313,1085 L1314.8,1081.4 L1316.6,1077.8 L1318.3,1074.2 L1320,1070.6 L1321.7,1067 L1323.4,1063.4 L1325.1,1059.8 L1326.8,1056.2 L1328.4,1052.5 L1330,1048.9 L1331.6,1045.2 L1333.2,1041.6 L1334.8,1037.9 L1336.4,1034.2 L1337.9,1030.6 L1339.4,1026.9 L1341,1023.2 L1342.5,1019.5 L1344,1015.8 L1345.5,1012.1 L1347,1008.5 L1348.5,1004.7 L1349.9,1001 L1351.4,997.3 L1352.8,993.6 L1354.3,989.9 L1355.7,986.2 L1357.2,982.5 L1358.6,978.7 L1360,975 L1361.4,971.3 L1362.9,967.6 L1364.3,963.8 L1365.7,960.1 L1367.1,956.4 L1368.5,952.6 L1369.9,948.9 L1371.4,945.2 L1372.8,941.4 L1374.2,937.7 L1375.6,934 L1377,930.2 L1378.5,926.5 L1379.9,922.8 L1381.3,919 L1382.8,915.3 L1384.2,911.6 L1385.7,907.8 L1387.1,904.1 L1388.6,900.4 L1390.1,896.7 L1391.6,893 L1393.1,889.2 L1394.6,885.5 L1396.1,881.8 L1397.6,878.1 L1399.1,874.4 L1400.6,870.7 L1402.2,867 L1403.7,863.3 L1405.3,859.6 L1406.8,855.9 L1408.4,852.2 L1409.9,848.5 L1411.5,844.8 L1413.1,841.1 L1414.6,837.4 L1416.2,833.7 L1417.8,830 L1419.4,826.3 L1420.9,822.6 L1422.5,819 L1424.1,815.3 L1425.7,811.6 L1427.3,807.9 L1428.9,804.3 L1430.5,800.6 L1432.1,796.9 L1433.7,793.2 L1435.3,789.6 L1436.9,785.9 L1438.4,782.2 L1440,778.6 L1441.6,774.9 L1443.2,771.3 L1444.8,767.6 L1446.4,763.9 L1448,760.3 L1449.6,756.6 L1451.1,753 L1452.7,749.3 L1454.3,745.7 L1455.9,742 L1457.5,738.4 L1459,734.8 L1460.6,731.1 L1462.2,727.5 L1463.8,723.8 L1465.3,720.2 L1466.9,716.5 L1468.5,712.9 L1470.1,709.3 L1471.7,705.6 L1473.2,702 L1474.8,698.4 L1476.4,694.7 L1478,691.1 L1479.6,687.5 L1481.2,683.8 L1482.8,680.2 L1484.4,676.6 L1486,672.9 L1487.7,669.3 L1489.3,665.7 L1490.9,662 L1492.5,658.4 L1494.2,654.8 L1495.8,651.1 L1497.5,647.5 L1499.1,643.9 L1500.8,640.3 L1502.5,636.6 L1504.2,633 L1505.8,629.4 L1507.5,625.7 L1509.2,622.1 L1511,618.5 L1512.7,614.8 L1514.4,611.2 L1516.1,607.6 L1517.9,603.9 L1519.7,600.3 L1521.4,596.7 L1523.2,593 L1525,589.4 L1526.8,585.8 L1528.6,582.1 L1530.4,578.5 L1532.3,574.9 L1534.1,571.2 L1536,567.6 L1537.9,563.9 L1539.7,560.3 L1541.7,556.7 L1543.6,553 L1545.5,549.4 L1547.5,545.8 L1549.5,542.3 L1551.6,538.8 L1553.7,535.3 L1555.9,531.9 L1558.2,528.6 L1560.5,525.4 L1563,522.3 L1565.5,519.3 L1568.1,516.4 L1570.8,513.6 L1573.6,511 L1576.6,508.5 L1579.7,506.2 L1582.9,504 L1586.3,502 L1589.8,500.2 L1593.4,498.6 L1597.3,497.2 L1601.2,496 L1605.3,495.1 L1609.5,494.4 L1613.6,493.9 L1617.8,493.7 L1621.9,493.7 L1626,494 L1629.9,494.6 L1633.8,495.5 L1637.5,496.6 L1641.1,497.9 L1644.7,499.4 L1648.1,501.2 L1651.4,503.1 L1654.7,505.2 L1657.9,507.4 L1661,509.8 L1664,512.3 L1666.9,514.9 L1669.7,517.6 L1672.5,520.4 L1675.2,523.3 L1677.9,526.3 L1680.4,529.4 L1682.9,532.5 L1685.4,535.7 L1687.8,539 L1690.1,542.3 L1692.4,545.6 L1694.6,549 L1696.8,552.5 L1699,555.9 L1701.1,559.4 L1703.1,562.9 L1705.1,566.4 L1707.1,569.9 L1709.1,573.5 L1711,577 L1712.8,580.6 L1714.7,584.2 L1716.5,587.8 L1718.2,591.4 L1720,595 L1721.7,598.6 L1723.4,602.3 L1725,605.9 L1726.6,609.6 L1728.2,613.3 L1729.7,617 L1731.2,620.7 L1732.7,624.4 L1734.2,628.1 L1735.6,631.8 L1737,635.6 L1738.4,639.3 L1739.8,643.1 L1741.1,646.9 L1742.4,650.7 L1743.7,654.4 L1745,658.2 L1746.3,662 L1747.5,665.8 L1748.7,669.7 L1749.9,673.5 L1751.1,677.3 L1752.2,681.1 L1753.4,685 L1754.5,688.8 L1755.6,692.7 L1756.7,696.5 L1757.8,700.4 L1758.8,704.3 L1759.9,708.1 L1760.9,712 L1761.9,715.9 L1763,719.8 L1764,723.6 L1765,727.5 L1766,731.4 L1766.9,735.3 L1767.9,739.2 L1768.9,743.1 L1769.9,747 L1770.8,750.9 L1771.8,754.8 L1772.7,758.6 L1773.7,762.5 L1774.6,766.4 L1775.6,770.3 L1776.5,774.2 L1777.4,778.1 L1778.4,782 L1779.3,785.9 L1780.2,789.8 L1781.2,793.6 L1782.1,797.5 L1783,801.4 L1783.9,805.3 L1784.8,809.2 L1785.8,813.1 L1786.7,817 L1787.6,820.8 L1788.5,824.7 L1789.4,828.6 L1790.3,832.5 L1791.2,836.4 L1792.1,840.3 L1793,844.1 L1793.9,848 L1794.8,851.9 L1795.7,855.8 L1796.6,859.7 L1797.5,863.6 L1798.4,867.4 L1799.3,871.3 L1800.2,875.2 L1801.1,879.1 L1801.9,883 L1802.8,886.8 L1803.7,890.7 L1804.6,894.6 L1805.5,898.5 L1806.4,902.4 L1807.3,906.2 L1808.1,910.1 L1809,914 L1809.9,917.9 L1810.8,921.8 L1811.7,925.6 L1812.5,929.5 L1813.4,933.4 L1814.3,937.3 L1815.2,941.2 L1816,945 L1816.9,948.9 L1817.8,952.8 L1818.7,956.7 L1819.6,960.6 L1820.4,964.4 L1821.3,968.3 L1822.2,972.2 L1823.1,976.1 L1823.9,980 L1824.8,983.8 L1825.7,987.7 L1826.6,991.6 L1827.5,995.5 L1828.3,999.4 L1829.2,1003.2 L1830.1,1007.1 L1831,1011 L1831.9,1014.9 L1832.7,1018.8 L1833.6,1022.6 L1834.5,1026.5 L1835.4,1030.4 L1836.3,1034.3 L1837.2,1038.2 L1838.1,1042 L1839,1045.9 L1839.8,1049.8 L1840.7,1053.7 L1841.6,1057.6 L1842.5,1061.5 L1843.4,1065.3 L1844.3,1069.2 L1845.2,1073.1 L1846.1,1077 L1847,1080.9 L1847.9,1084.8 L1848.8,1088.7 L1849.7,1092.5 L1850.7,1096.4 L1851.6,1100.3 L1852.5,1104.2 L1853.4,1108.1 L1854.3,1112 L1855.2,1115.9 L1856.2,1119.7 L1857.1,1123.6 L1858,1127.5 L1858.9,1131.4 L1859.9,1135.3 L1860.8,1139.2 L1861.7,1143.1 L1862.7,1147 L1863.6,1150.9 L1864.6,1154.8 L1865.5,1158.7 L1866.5,1162.6 L1867.4,1166.4 L1868.4,1170.3 L1869.3,1174.2 L1870.3,1178.1 L1871.3,1182 L1872.2,1185.9 L1873.2,1189.8 L1874.2,1193.7 L1875.2,1197.6 L1876.1,1201.5 L1877.1,1205.4 L1878.1,1209.3 L1879.1,1213.2 L1880.1,1217.1 L1881.1,1221 L1882.1,1224.9 L1883.1,1228.8 L1884.1,1232.7 L1885.1,1236.7 L1886.1,1240.6 L1887.2,1244.5 L1888.2,1248.4 L1889.2,1252.3 L1890.3,1256.2 L1891.3,1260.1 L1892.3,1264 L1893.4,1267.9 L1894.4,1271.8 L1895.5,1275.8 L1896.5,1279.7 L1897.6,1283.6 L1898.7,1287.5 L1899.7,1291.4 L1900.8,1295.3 L1901.9,1299.3 L1903,1303.2 L1904.1,1307.1 L1905.2,1311 L1906.3,1314.9 L1907.4,1318.8 L1908.5,1322.8 L1909.7,1326.7 L1910.8,1330.6 L1912,1334.5 L1913.1,1338.4 L1914.3,1342.3 L1915.5,1346.1 L1916.7,1350 L1918,1353.9 L1919.2,1357.7 L1920.5,1361.5 L1921.8,1365.4 L1923.1,1369.2 L1924.5,1373 L1925.8,1376.8 L1927.2,1380.5 L1928.6,1384.3 L1930.1,1388 L1931.5,1391.7 L1933,1395.4 L1934.6,1399.1 L1936.1,1402.8 L1937.7,1406.4 L1939.3,1410 L1941,1413.6 L1942.7,1417.2 L1944.4,1420.7 L1946.2,1424.2 L1948,1427.7 L1949.8,1431.2 L1951.7,1434.6 L1953.6,1438 L1955.6,1441.4 L1957.6,1444.7 L1959.6,1448.1 L1961.7,1451.3 L1963.9,1454.6 L1966.1,1457.8 L1968.3,1461 L1970.6,1464.1 L1972.9,1467.2 L1975.3,1470.3 L1977.8,1473.4 L1980.3,1476.3 L1982.8,1479.3 L1985.4,1482.2 L1988.1,1485.1 L1990.8,1487.9 L1993.5,1490.7 L1996.4,1493.5 L1999.3,1496.2 L2002.2,1498.8 L2005.2,1501.4 L2008.2,1504 L2011.3,1506.5 L2014.5,1509 L2017.7,1511.4 L2020.9,1513.7 L2024.2,1516 L2027.5,1518.3 L2030.9,1520.5 L2034.3,1522.7 L2037.7,1524.8 L2041.2,1526.8 L2044.7,1528.8 L2048.2,1530.7 L2051.8,1532.6 L2055.4,1534.4 L2059.1,1536.2 L2062.7,1537.9 L2066.4,1539.5 L2070.1,1541.1 L2073.9,1542.6 L2077.6,1544 L2081.4,1545.4 L2085.2,1546.7 L2089,1547.9 L2092.8,1549.1 L2096.7,1550.2 L2100.6,1551.3 L2104.4,1552.3 L2108.3,1553.2 L2112.2,1554 L2116.1,1554.8 L2120.1,1555.6 L2124,1556.3 L2127.9,1556.9 L2131.9,1557.5 L2135.9,1558 L2139.8,1558.5 L2143.8,1559 L2147.8,1559.4 L2151.8,1559.7 L2155.8,1560 L2159.8,1560.3 L2163.8,1560.6 L2167.8,1560.8 L2171.9,1560.9 L2175.9,1561.1 L2179.9,1561.2 L2184,1561.2 L2188,1561.3 L2192.1,1561.3 L2196.1,1561.3 L2200.1,1561.2 L2204.2,1561.2 L2208.2,1561.1 L2212.3,1561 L2216.3,1560.9 L2220.4,1560.8 L2224.4,1560.7 L2228.4,1560.5 L2232.5,1560.4 L2236.5,1560.2 L2240.5,1560.1 L2244.5,1559.9 L2248.5,1559.7 L2252.6,1559.5 L2256.6,1559.4 L2260.5,1559.2 L2264.5,1559 L2268.5,1558.9 L2272.5,1558.7 L2276.5,1558.6 L2280.4,1558.4 L2284.4,1558.3 L2288.4,1558.2 L2292.3,1558.1 L2296.3,1558 L2300.2,1558 L2304.2,1557.9 L2308.1,1557.9 L2312.1,1557.9 L2316.1,1558 L2320,1558 L2324,1558.1 L2328,1558.3 L2332,1558.4 L2336,1558.6 L2340,1558.9 L2344,1559.1 L2348,1559.4 L2352,1559.8 L2356,1560.2 L2360.1,1560.6 L2364.2,1561.1 L2368.2,1561.6 L2372.3,1562.2 L2373,1562.3" fill="none" stroke="#f00" stroke-width="5.0" stroke-linejoin="round"/>
<path d="M337.6,1562.6 L337.6,1164.5 L340,1124.5" fill="none" stroke="#00f" stroke-width="5.0" stroke-opacity="0.5" stroke-linejoin="round"/>
<path d="M340,1124.5 L343.2,1125.2 L346.1,1127.1 L348.6,1129.8 L350.9,1133.2 L353,1136.8 L354.9,1140.3 L356.8,1143.9 L358.6,1147.4 L360.4,1150.9 L362.3,1154.4 L364.3,1157.9 L366.5,1161.5 L368.9,1164.9 L371.5,1168.3 L374.2,1171.6 L377,1174.7 L380,1177.5 L383.1,1180 L386.3,1182.1 L389.6,1183.8 L392.9,1185.1 L396.4,1185.8 L399.8,1185.9 L403.3,1185.4 L406.9,1184.3 L410.4,1182.7 L414,1180.8 L417.6,1178.6 L421.3,1176.4 L425,1174.3 L428.8,1172.3 L432.6,1170.6 L436.5,1169.2 L440.4,1168.1 L444.3,1167.4 L448.3,1167 L452.3,1167 L456.1,1167.4 L459.9,1168 L463.6,1169 L467.2,1170.2 L470.6,1171.7 L473.8,1173.5 L476.9,1175.5 L479.9,1177.8 L482.7,1180.2 L485.4,1182.9 L488,1185.7 L490.5,1188.7 L492.9,1191.9 L495.2,1195.2 L497.5,1198.5 L499.7,1202 L501.9,1205.6 L504,1209.2 L506.1,1212.9 L508.2,1216.6 L510.3,1220.3 L512.4,1224 L514.5,1227.7 L516.7,1231.4 L518.9,1235 L521.1,1238.5 L523.4,1242 L525.7,1245.3 L528.2,1248.6 L530.7,1251.7 L533.3,1254.6 L536.1,1257.4 L538.9,1260 L541.9,1262.4 L545,1264.6 L548.2,1266.6 L551.5,1268.3 L555,1269.7 L558.7,1270.9 L562.4,1271.8 L566.3,1272.3 L570.2,1272.5 L574.2,1272.4 L578.2,1271.9 L582.1,1271.1 L586.1,1270 L590,1268.7 L593.9,1267.4 L597.8,1266.1 L601.7,1264.8 L605.6,1263.7 L609.5,1262.8 L613.4,1262.1 L617.4,1261.7 L621.3,1261.4 L625.3,1261.3 L629.2,1261.3 L633.2,1261.5 L637.2,1261.7 L641.3,1261.9 L645.3,1262.1 L649.4,1262.2 L653.4,1262.3 L657.5,1262.1 L661.5,1261.8 L665.5,1261.2 L669.5,1260.4 L673.4,1259.4 L677.3,1258.2 L681.2,1256.9 L685,1255.5 L688.7,1254 L692.4,1252.4 L696.1,1250.8 L699.6,1249 L703.2,1247.2 L706.6,1245.3 L710.1,1243.3 L713.4,1241.3 L716.7,1239.2 L720,1237 L723.2,1234.7 L726.4,1232.4 L729.5,1230 L732.5,1227.6 L735.6,1225.1 L738.5,1222.5 L741.5,1219.9 L744.3,1217.2 L747.2,1214.4 L750,1211.6 L752.7,1208.8 L755.4,1205.9 L758.1,1203 L760.7,1200 L763.3,1197 L765.9,1193.9 L768.4,1190.8 L770.9,1187.6 L773.4,1184.4 L775.8,1181.2 L778.1,1178 L780.5,1174.7 L782.8,1171.4 L785.1,1168 L787.3,1164.7 L789.6,1161.3 L791.8,1157.8 L793.9,1154.4 L796.1,1150.9 L798.2,1147.5 L800.3,1144 L802.3,1140.5 L804.3,1137 L806.4,1133.4 L808.4,1129.9 L810.3,1126.4 L812.3,1122.8 L814.2,1119.3 L816.1,1115.7 L818,1112.1 L819.9,1108.6 L821.7,1105 L823.5,1101.4 L825.3,1097.8 L827.1,1094.2 L828.9,1090.6 L830.6,1087 L832.4,1083.4 L834.1,1079.8 L835.8,1076.2 L837.5,1072.6 L839.1,1068.9 L840.7,1065.3 L842.4,1061.7 L844,1058 L845.6,1054.3 L847.1,1050.7 L848.7,1047 L850.2,1043.4 L851.7,1039.7 L853.2,1036 L854.7,1032.3 L856.2,1028.6 L857.6,1024.9 L859.1,1021.2 L860.5,1017.5 L861.9,1013.8 L863.3,1010 L864.7,1006.3 L866,1002.6 L867.4,998.8 L868.7,995.1 L870,991.3 L871.3,987.6 L872.6,983.8 L873.9,980 L875.1,976.3 L876.4,972.5 L877.6,968.7 L878.8,964.9 L880,961.1 L881.2,957.3 L882.4,953.5 L883.6,949.7 L884.7,945.8 L885.9,942 L887,938.2 L888.1,934.3 L889.3,930.5 L890.4,926.6 L891.5,922.8 L892.6,918.9 L893.7,915.1 L894.8,911.2 L895.9,907.4 L897,903.5 L898.1,899.7 L899.2,895.8 L900.3,892 L901.4,888.1 L902.6,884.3 L903.7,880.4 L904.9,876.6 L906.1,872.8 L907.3,869 L908.5,865.1 L909.8,861.3 L911.1,857.6 L912.4,853.8 L913.7,850 L915.1,846.3 L916.4,842.5 L917.9,838.8 L919.3,835.1 L920.8,831.4 L922.3,827.7 L923.9,824 L925.5,820.3 L927.1,816.7 L928.8,813.1 L930.6,809.5 L932.4,805.9 L934.2,802.4 L936.1,798.8 L938,795.3 L940,791.8 L942.1,788.4 L944.2,784.9 L946.3,781.5 L948.6,778 L950.9,774.6 L953.2,771.1 L955.7,767.6 L958.2,764 L960.8,760.4 L963.5,756.8 L966.2,753.2 L969.1,749.9 L972,746.8 L975,744.1 L978.1,741.8 L981.3,740.1 L984.7,739 L988.1,738.7 L991.6,739.1 L995.2,740.4 L998.8,742.3 L1002.3,744.6 L1005.7,747.3 L1008.9,750.2 L1011.9,753.2 L1014.7,756.2 L1017.2,759.3 L1019.6,762.5 L1021.8,765.7 L1023.8,769 L1025.8,772.4 L1027.6,775.7 L1029.3,779.2 L1030.9,782.7 L1032.5,786.2 L1034.1,789.7 L1035.6,793.3 L1037.1,797 L1038.6,800.6 L1040.2,804.3 L1041.7,808 L1043.2,811.8 L1044.7,815.5 L1046.2,819.3 L1047.7,823.1 L1049.2,826.9 L1050.6,830.7 L1052.1,834.5 L1053.5,838.3 L1054.8,842.2 L1056.2,846 L1057.5,849.8 L1058.8,853.6 L1060.1,857.5 L1061.4,861.3 L1062.7,865.2 L1063.9,869 L1065.1,872.8 L1066.3,876.7 L1067.4,880.6 L1068.6,884.4 L1069.7,888.3 L1070.8,892.1 L1071.9,896 L1073,899.9 L1074.1,903.7 L1075.1,907.6 L1076.1,911.5 L1077.1,915.4 L1078.1,919.2 L1079.1,923.1 L1080.1,927 L1081.1,930.9 L1082,934.8 L1082.9,938.7 L1083.8,942.5 L1084.8,946.4 L1085.7,950.3 L1086.5,954.2 L1087.4,958.1 L1088.3,962 L1089.2,965.9 L1090,969.8 L1090.8,973.7 L1091.7,977.6 L1092.5,981.5 L1093.3,985.4 L1094.1,989.3 L1095,993.2 L1095.8,997.1 L1096.6,1001 L1097.4,1004.9 L1098.1,1008.9 L1098.9,1012.8 L1099.7,1016.7 L1100.5,1020.6 L1101.3,1024.5 L1102.1,1028.4 L1102.8,1032.3 L1103.6,1036.2 L1104.4,1040.1 L1105.2,1044 L1105.9,1047.9 L1106.7,1051.8 L1107.5,1055.7 L1108.3,1059.6 L1109.1,1063.5 L1109.9,1067.4 L1110.7,1071.3 L1111.5,1075.2 L1112.3,1079.1 L1113.1,1083 L1113.9,1086.9 L1114.7,1090.8 L1115.5,1094.7 L1116.3,1098.6 L1117.2,1102.5 L1118,1106.4 L1118.9,1110.3 L1119.7,1114.2 L1120.6,1118.1 L1121.5,1121.9 L1122.4,1125.8 L1123.3,1129.7 L1124.2,1133.6 L1125.1,1137.4 L1126.1,1141.3 L1127,1145.2 L1128,1149.1 L1129,1152.9 L1129.9,1156.8 L1131,1160.6 L1132,1164.5 L1133,1168.4 L1134.1,1172.2 L1135.1,1176.1 L1136.2,1179.9 L1137.3,1183.7 L1138.4,1187.6 L1139.6,1191.4 L1140.7,1195.2 L1141.9,1199.1 L1143.1,1202.9 L1144.3,1206.7 L1145.5,1210.5 L1146.8,1214.4 L1148.1,1218.2 L1149.4,1222 L1150.7,1225.8 L1152,1229.6 L1153.4,1233.4 L1154.8,1237.2 L1156.2,1240.9 L1157.6,1244.7 L1159.1,1248.5 L1160.6,1252.3 L1162.1,1256 L1163.6,1259.8 L1165.2,1263.6 L1166.8,1267.3 L1168.5,1271 L1170.2,1274.7 L1171.9,1278.4 L1173.8,1282 L1175.7,1285.5 L1177.7,1288.9 L1179.9,1292.3 L1182.1,1295.6 L1184.5,1298.8 L1186.9,1301.9 L1189.6,1304.8 L1192.4,1307.6 L1195.3,1310.1 L1198.4,1312.3 L1201.7,1314.1 L1205.2,1315.4 L1208.8,1316.1 L1212.6,1316.3 L1216.5,1316 L1220.4,1315.2 L1224.3,1314.1 L1228.1,1312.6 L1231.8,1310.8 L1235.3,1308.7 L1238.7,1306.4 L1241.9,1303.9 L1245,1301.2 L1248,1298.5 L1251,1295.6 L1253.9,1292.7 L1256.7,1289.8 L1259.5,1286.8 L1262.3,1283.9 L1265.1,1280.9 L1267.8,1277.9 L1270.4,1274.9 L1273,1271.9 L1275.6,1268.8 L1278.2,1265.7 L1280.7,1262.7 L1283.2,1259.6 L1285.7,1256.4 L1288.1,1253.3 L1290.6,1250.1 L1293,1247 L1295.3,1243.8 L1297.7,1240.6 L1300,1237.4 L1302.3,1234.2 L1304.6,1230.9 L1306.8,1227.7 L1309.1,1224.4 L1311.3,1221.2 L1313.5,1217.9 L1315.7,1214.6 L1317.9,1211.3 L1320.1,1208 L1322.2,1204.6 L1324.4,1201.3 L1326.5,1198 L1328.7,1194.6 L1330.8,1191.3 L1332.9,1187.9 L1335,1184.5 L1337.2,1181.1 L1339.3,1177.8 L1341.4,1174.4 L1343.5,1171 L1345.6,1167.6 L1347.7,1164.2 L1349.8,1160.7 L1351.9,1157.3 L1354,1153.9 L1356.1,1150.5 L1358.2,1147 L1360.3,1143.6 L1362.4,1140.1 L1364.5,1136.7 L1366.5,1133.2 L1368.6,1129.8 L1370.7,1126.3 L1372.7,1122.8 L1374.8,1119.3 L1376.8,1115.9 L1378.9,1112.4 L1380.9,1108.9 L1382.9,1105.4 L1385,1101.9 L1387,1098.4 L1389,1094.9 L1391,1091.4 L1393,1087.9 L1395,1084.4 L1396.9,1080.9 L1398.9,1077.3 L1400.9,1073.8 L1402.8,1070.3 L1404.7,1066.8 L1406.7,1063.2 L1408.6,1059.7 L1410.5,1056.2 L1412.4,1052.6 L1414.3,1049.1 L1416.1,1045.5 L1418,1042 L1419.9,1038.4 L1421.7,1034.9 L1423.5,1031.4 L1425.4,1027.8 L1427.2,1024.3 L1429,1020.7 L1430.8,1017.1 L1432.6,1013.6 L1434.4,1010 L1436.1,1006.5 L1437.9,1002.9 L1439.7,999.4 L1441.5,995.8 L1443.2,992.2 L1445,988.7 L1446.7,985.1 L1448.5,981.6 L1450.3,978 L1452,974.5 L1453.8,970.9 L1455.5,967.3 L1457.3,963.8 L1459,960.2 L1460.8,956.7 L1462.5,953.1 L1464.3,949.6 L1466,946 L1467.8,942.5 L1469.6,938.9 L1471.3,935.4 L1473.1,931.8 L1474.9,928.3 L1476.7,924.7 L1478.5,921.2 L1480.3,917.6 L1482.1,914.1 L1483.9,910.6 L1485.7,907 L1487.5,903.5 L1489.3,900 L1491.2,896.5 L1493,892.9 L1494.9,889.4 L1496.8,885.9 L1498.7,882.4 L1500.6,878.9 L1502.5,875.4 L1504.4,871.9 L1506.3,868.4 L1508.3,864.9 L1510.2,861.4 L1512.2,857.9 L1514.2,854.4 L1516.2,851 L1518.2,847.5 L1520.2,844 L1522.2,840.6 L1524.3,837.1 L1526.3,833.7 L1528.4,830.2 L1530.5,826.8 L1532.6,823.4 L1534.7,820 L1536.8,816.6 L1539,813.1 L1541.1,809.7 L1543.3,806.4 L1545.5,803 L1547.7,799.6 L1549.9,796.2 L1552.2,792.9 L1554.4,789.5 L1556.7,786.2 L1559,782.9 L1561.3,779.5 L1563.6,776.2 L1566,772.9 L1568.3,769.6 L1570.7,766.4 L1573.1,763.1 L1575.5,759.9 L1578,756.7 L1580.5,753.5 L1583.1,750.3 L1585.7,747.3 L1588.3,744.2 L1591,741.3 L1593.8,738.4 L1596.6,735.5 L1599.5,732.8 L1602.5,730.1 L1605.6,727.5 L1608.7,725 L1612,722.6 L1615.3,720.3 L1618.7,718.1 L1622.2,716.1 L1625.8,714.2 L1629.5,712.3 L1633.2,710.7 L1637,709.1 L1640.8,707.8 L1644.6,706.5 L1648.4,705.4 L1652.3,704.5 L1656.1,703.8 L1660,703.2 L1663.8,702.8 L1667.6,702.6 L1671.4,702.6 L1675.1,702.8 L1678.9,703.1 L1682.6,703.7 L1686.3,704.5 L1689.9,705.5 L1693.5,706.7 L1697.1,708.1 L1700.6,709.7 L1704.1,711.6 L1707.5,713.6 L1710.9,715.9 L1714.2,718.3 L1717.5,720.9 L1720.7,723.6 L1723.8,726.4 L1726.9,729.4 L1729.9,732.4 L1732.8,735.6 L1735.7,738.7 L1738.5,741.9 L1741.1,745.2 L1743.7,748.5 L1746.3,751.7 L1748.7,755 L1751.1,758.3 L1753.4,761.7 L1755.6,765 L1757.8,768.4 L1759.9,771.8 L1761.9,775.2 L1763.9,778.6 L1765.8,782 L1767.7,785.5 L1769.5,788.9 L1771.3,792.4 L1773,795.9 L1774.7,799.4 L1776.3,802.9 L1777.9,806.4 L1779.5,810 L1781,813.5 L1782.6,817.1 L1784.1,820.7 L1785.5,824.3 L1787,827.9 L1788.4,831.5 L1789.8,835.1 L1791.2,838.8 L1792.6,842.4 L1794,846.1 L1795.4,849.8 L1796.8,853.5 L1798.1,857.2 L1799.5,860.9 L1800.8,864.6 L1802.2,868.3 L1803.5,872 L1804.9,875.8 L1806.2,879.5 L1807.5,883.3 L1808.9,887.1 L1810.2,890.8 L1811.5,894.6 L1812.8,898.4 L1814.1,902.2 L1815.4,906 L1816.6,909.8 L1817.9,913.6 L1819.2,917.5 L1820.5,921.3 L1821.7,925.1 L1823,928.9 L1824.2,932.8 L1825.5,936.6 L1826.7,940.5 L1827.9,944.3 L1829.2,948.2 L1830.4,952.1 L1831.6,955.9 L1832.8,959.8 L1834,963.7 L1835.2,967.5 L1836.4,971.4 L1837.5,975.3 L1838.7,979.2 L1839.9,983 L1841.1,986.9 L1842.2,990.8 L1843.4,994.7 L1844.5,998.6 L1845.6,1002.5 L1846.8,1006.3 L1847.9,1010.2 L1849,1014.1 L1850.2,1018 L1851.3,1021.9 L1852.4,1025.8 L1853.5,1029.6 L1854.6,1033.5 L1855.7,1037.4 L1856.8,1041.3 L1857.9,1045.2 L1858.9,1049 L1860,1052.9 L1861.1,1056.8 L1862.2,1060.7 L1863.3,1064.5 L1864.4,1068.4 L1865.4,1072.3 L1866.5,1076.2 L1867.6,1080 L1868.7,1083.9 L1869.7,1087.8 L1870.8,1091.6 L1871.9,1095.5 L1873,1099.3 L1874,1103.2 L1875.1,1107.1 L1876.2,1110.9 L1877.3,1114.8 L1878.4,1118.6 L1879.4,1122.5 L1880.5,1126.3 L1881.6,1130.2 L1882.7,1134 L1883.8,1137.8 L1884.9,1141.7 L1886,1145.5 L1887.1,1149.4 L1888.2,1153.2 L1889.4,1157 L1890.5,1160.8 L1891.6,1164.7 L1892.7,1168.5 L1893.9,1172.3 L1895,1176.1 L1896.2,1179.9 L1897.3,1183.7 L1898.5,1187.5 L1899.7,1191.3 L1900.9,1195.1 L1902.1,1198.9 L1903.2,1202.7 L1904.5,1206.5 L1905.7,1210.3 L1906.9,1214 L1908.1,1217.8 L1909.4,1221.6 L1910.6,1225.3 L1911.9,1229.1 L1913.1,1232.9 L1914.4,1236.6 L1915.7,1240.4 L1917,1244.1 L1918.3,1247.9 L1919.6,1251.6 L1921,1255.3 L1922.3,1259 L1923.7,1262.8 L1925.1,1266.5 L1926.5,1270.2 L1927.8,1273.9 L1929.3,1277.6 L1930.7,1281.3 L1932.1,1285 L1933.6,1288.7 L1935,1292.4 L1936.5,1296 L1938,1299.7 L1939.5,1303.4 L1941.1,1307 L1942.6,1310.7 L1944.2,1314.3 L1945.8,1318 L1947.3,1321.6 L1949,1325.2 L1950.6,1328.9 L1952.2,1332.5 L1953.9,1336.1 L1955.6,1339.7 L1957.3,1343.3 L1959,1346.9 L1960.7,1350.5 L1962.5,1354.1 L1964.3,1357.7 L1966,1361.2 L1967.9,1364.8 L1969.7,1368.3 L1971.5,1371.9 L1973.4,1375.4 L1975.3,1379 L1977.2,1382.5 L1979.2,1386 L1981.1,1389.5 L1983.1,1393 L1985.1,1396.5 L1987.1,1400 L1989.2,1403.5 L1991.3,1407 L1993.4,1410.5 L1995.5,1413.9 L1997.6,1417.4 L1999.8,1420.8 L2002,1424.2 L2004.2,1427.7 L2006.4,1431.1 L2008.7,1434.4 L2011,1437.8 L2013.3,1441.1 L2015.7,1444.5 L2018,1447.8 L2020.4,1451 L2022.9,1454.3 L2025.3,1457.5 L2027.8,1460.7 L2030.3,1463.9 L2032.9,1467 L2035.4,1470.1 L2038,1473.2 L2040.7,1476.2 L2043.3,1479.2 L2046,1482.1 L2048.7,1485 L2051.5,1487.9 L2054.3,1490.7 L2057.1,1493.5 L2060,1496.3 L2062.8,1499 L2065.8,1501.6 L2068.7,1504.2 L2071.7,1506.7 L2074.7,1509.2 L2077.8,1511.7 L2080.8,1514 L2084,1516.4 L2087.1,1518.6 L2090.3,1520.8 L2093.5,1523 L2096.8,1525 L2100.1,1527 L2103.4,1529 L2106.8,1530.9 L2110.2,1532.7 L2113.7,1534.4 L2117.1,1536.1 L2120.7,1537.7 L2124.2,1539.2 L2127.8,1540.6 L2131.5,1542 L2135.2,1543.3 L2138.9,1544.5 L2142.6,1545.7 L2146.4,1546.7 L2150.2,1547.8 L2154.1,1548.7 L2158,1549.6 L2161.9,1550.4 L2165.8,1551.2 L2169.8,1551.9 L2173.8,1552.5 L2177.8,1553.1 L2181.8,1553.7 L2185.8,1554.2 L2189.9,1554.6 L2194,1555 L2198.1,1555.4 L2202.2,1555.7 L2206.3,1556 L2210.5,1556.3 L2214.6,1556.5 L2218.8,1556.7 L2223,1556.8 L2227.1,1557 L2231.3,1557.1 L2235.5,1557.1 L2239.7,1557.2 L2243.9,1557.2 L2248,1557.3 L2252.2,1557.3 L2256.4,1557.3 L2260.6,1557.2 L2264.7,1557.2 L2268.9,1557.2 L2273.1,1557.1 L2277.2,1557.1 L2281.3,1557 L2285.4,1557 L2289.5,1556.9 L2293.6,1556.9 L2297.7,1556.9 L2301.7,1556.8 L2305.8,1556.8 L2309.8,1556.8 L2313.8,1556.8 L2317.7,1556.9 L2321.6,1556.9 L2325.5,1557 L2329.4,1557.1 L2333.3,1557.2 L2337.1,1557.4 L2340.9,1557.6 L2344.6,1557.8 L2348.3,1558 L2352,1558.3 L2355.6,1558.6 L2359.2,1559 L2362.8,1559.4 L2366.3,1559.8 L2369.8,1560.3 L2370.9,1560.5" fill="none" stroke="#00f" stroke-width="5.0" stroke-linejoin="round"/>
<line x1="304.7" y1="1562.6" x2="336.7" y2="1562.6" stroke="#000" stroke-width="6.0" stroke-linecap="butt"/>
<text x="287.3" y="1578.6" font-size="61" text-anchor="end">0.0</text>
<line x1="304.7" y1="1347.8" x2="336.7" y2="1347.8" stroke="#000" stroke-width="6.0" stroke-linecap="butt"/>
<text x="287.3" y="1363.8" font-size="61" text-anchor="end">0.2</text>
<line x1="304.7" y1="1132.9" x2="336.7" y2="1132.9" stroke="#000" stroke-width="6.0" stroke-linecap="butt"/>
<text x="287.3" y="1148.9" font-size="61" text-anchor="end">0.4</text>
<line x1="304.7" y1="918.1" x2="336.7" y2="918.1" stroke="#000" stroke-width="6.0" stroke-linecap="butt"/>
<text x="287.3" y="934.1" font-size="61" text-anchor="end">0.6</text>
<line x1="304.7" y1="703.3" x2="336.7" y2="703.3" stroke="#000" stroke-width="6.0" stroke-linecap="butt"/>
<text x="287.3" y="719.3" font-size="61" text-anchor="end">0.8</text>
<line x1="304.7" y1="488.5" x2="336.7" y2="488.5" stroke="#000" stroke-width="6.0" stroke-linecap="butt"/>
<text x="287.3" y="504.5" font-size="61" text-anchor="end">1.0</text>
<line x1="304.7" y1="273.6" x2="336.7" y2="273.6" stroke="#000" stroke-width="6.0" stroke-linecap="butt"/>
<text x="287.3" y="289.6" font-size="61" text-anchor="end">1.2</text>
<line x1="304.7" y1="58.8" x2="336.7" y2="58.8" stroke="#000" stroke-width="6.0" stroke-linecap="butt"/>
<text x="287.3" y="74.8" font-size="61" text-anchor="end">1.4</text>
<line x1="317.2" y1="1455.2" x2="336.7" y2="1455.2" stroke="#000" stroke-width="6.0" stroke-linecap="butt"/>
<line x1="317.2" y1="1240.4" x2="336.7" y2="1240.4" stroke="#000" stroke-width="6.0" stroke-linecap="butt"/>
<line x1="317.2" y1="1025.5" x2="336.7" y2="1025.5" stroke="#000" stroke-width="6.0" stroke-linecap="butt"/>
<line x1="317.2" y1="810.7" x2="336.7" y2="810.7" stroke="#000" stroke-width="6.0" stroke-linecap="butt"/>
<line x1="317.2" y1="595.9" x2="336.7" y2="595.9" stroke="#000" stroke-width="6.0" stroke-linecap="butt"/>
<line x1="317.2" y1="381" x2="336.7" y2="381" stroke="#000" stroke-width="6.0" stroke-linecap="butt"/>
<line x1="317.2" y1="166.2" x2="336.7" y2="166.2" stroke="#000" stroke-width="6.0" stroke-linecap="butt"/>
<line x1="602.3" y1="1562.6" x2="602.3" y2="1594.6" stroke="#000" stroke-width="6.0" stroke-linecap="butt"/>
<text x="602.3" y="1658.5" font-size="61" text-anchor="middle">300</text>
<line x1="1044.9" y1="1562.6" x2="1044.9" y2="1594.6" stroke="#000" stroke-width="6.0" stroke-linecap="butt"/>
<text x="1044.9" y="1658.5" font-size="61" text-anchor="middle">400</text>
<line x1="1487.6" y1="1562.6" x2="1487.6" y2="1594.6" stroke="#000" stroke-width="6.0" stroke-linecap="butt"/>
<text x="1487.6" y="1658.5" font-size="61" text-anchor="middle">500</text>
<line x1="1930.2" y1="1562.6" x2="1930.2" y2="1594.6" stroke="#000" stroke-width="6.0" stroke-linecap="butt"/>
<text x="1930.2" y="1658.5" font-size="61" text-anchor="middle">600</text>
<line x1="2372.9" y1="1562.6" x2="2372.9" y2="1594.6" stroke="#000" stroke-width="6.0" stroke-linecap="butt"/>
<text x="2372.9" y="1658.5" font-size="61" text-anchor="middle">700</text>
<line x1="381" y1="1562.6" x2="381" y2="1582.1" stroke="#000" stroke-width="6.0" stroke-linecap="butt"/>
<line x1="823.6" y1="1562.6" x2="823.6" y2="1582.1" stroke="#000" stroke-width="6.0" stroke-linecap="butt"/>
<line x1="1266.3" y1="1562.6" x2="1266.3" y2="1582.1" stroke="#000" stroke-width="6.0" stroke-linecap="butt"/>
<line x1="1708.9" y1="1562.6" x2="1708.9" y2="1582.1" stroke="#000" stroke-width="6.0" stroke-linecap="butt"/>
<line x1="2151.6" y1="1562.6" x2="2151.6" y2="1582.1" stroke="#000" stroke-width="6.0" stroke-linecap="butt"/>
<text x="1357.5" y="1775" font-size="74" text-anchor="middle">Wavelength (nm)</text>
<text transform="translate(91,870) rotate(-90)" font-size="73.6" text-anchor="middle">Absorbance</text>
<text x="31" y="104.6" font-size="78" text-anchor="start">(a)</text>
<text x="385.3" y="199" font-size="74" text-anchor="start">Solution</text>
<line x1="438.9" y1="401.3" x2="607.9" y2="401.3" stroke="#000" stroke-width="5.8" stroke-linecap="butt"/>
<text x="624" y="427.3" font-size="73" text-anchor="start">P1</text>
<line x1="438.9" y1="490.9" x2="607.9" y2="490.9" stroke="#f00" stroke-width="5.8" stroke-linecap="butt"/>
<text x="624" y="516.9" font-size="73" text-anchor="start">P2</text>
<line x1="438.9" y1="580.5" x2="607.9" y2="580.5" stroke="#00f" stroke-width="5.8" stroke-linecap="butt"/>
<text x="624" y="606.5" font-size="73" text-anchor="start">P3</text>
</g>
<g id="plotB">
<rect x="325.8" y="1882.3" width="1854.1" height="1500.3" fill="none" stroke="#000" stroke-width="6.0"/>
<path d="M327.1,2830.1 L327.2,2833.1 L327.2,2836 L327.3,2838.9 L327.4,2841.8 L327.4,2844.8 L327.6,2847.8 L327.7,2850.8 L327.8,2853.7 L327.9,2856.7 L328.1,2859.8 L328.2,2862.8 L328.4,2865.8 L328.6,2868.8 L328.8,2871.9 L329,2874.9 L329.2,2877.9 L329.4,2881 L329.6,2884 L329.8,2887.1 L330,2890.1 L330.3,2893.2 L330.5,2896.2 L330.7,2899.2 L331,2902.3 L331.2,2905.3 L331.5,2908.3 L331.7,2911.3 L332,2914.4 L332.2,2917.4 L332.5,2920.3 L332.7,2923.3 L333,2926.3 L333.3,2929.3 L333.5,2932.2 L333.8,2935.1 L334,2938 L334.3,2941 L334.5,2943.8 L334.7,2946.7 L335,2949.6 L335.2,2952.4 L335.4,2955.2 L335.7,2958 L335.9,2960.8 L336.2,2963.7 L336.5,2966.6 L336.9,2969.5 L337.4,2972.5 L337.9,2975.6 L338.5,2978.8 L339.2,2982.1 L340,2985.5 L341,2989.1 L342.1,2992.7 L343.3,2996 L344.7,2998.8 L346.3,3000.8 L348,3001.6 L349.9,3001.2 L352,2999.6 L354,2997.4 L355.9,2994.9 L357.6,2992.2 L359.2,2989.5 L360.7,2986.7 L362.1,2983.9 L363.5,2981.1 L364.8,2978.3 L366.1,2975.6 L367.4,2972.9 L368.6,2970.2 L369.9,2967.5 L371.1,2964.8 L372.4,2962.2 L373.6,2959.5 L374.9,2956.9 L376.2,2954.2 L377.6,2951.5 L378.9,2948.9 L380.2,2946.2 L381.6,2943.5 L382.9,2940.8 L384.2,2938.2 L385.6,2935.5 L386.9,2932.8 L388.2,2930 L389.5,2927.3 L390.8,2924.6 L392,2921.8 L393.3,2919.1 L394.5,2916.3 L395.7,2913.5 L396.9,2910.7 L398.1,2907.9 L399.3,2905.1 L400.5,2902.3 L401.8,2899.6 L403.1,2896.9 L404.5,2894.2 L405.9,2891.7 L407.5,2889.1 L409.1,2886.7 L410.9,2884.4 L412.8,2882.1 L414.8,2880 L417,2877.9 L419,2875.9 L420.9,2873.6 L422.4,2871.1 L423.6,2868.5 L424.8,2865.7 L426,2863 L427.4,2860.4 L429.1,2858.1 L431.1,2855.9 L433.1,2853.8 L435,2851.6 L436.7,2849.3 L438.1,2846.8 L439.4,2844.3 L440.6,2841.6 L441.7,2838.9 L442.9,2836.1 L444.2,2833.3 L445.6,2830.5 L447.1,2827.8 L448.6,2825 L450.1,2822.3 L451.7,2819.7 L453.2,2817.2 L454.8,2814.7 L456.5,2812.3 L458.1,2809.8 L459.7,2807.3 L461.4,2804.7 L463,2802.2 L464.5,2799.5 L466,2796.8 L467.3,2794.1 L468.5,2791.4 L469.5,2788.6 L470.4,2785.8 L471.3,2783 L472,2780.2 L472.7,2777.4 L473.4,2774.5 L474.1,2771.7 L474.9,2768.9 L475.8,2766 L476.7,2763.2 L477.6,2760.3 L478.6,2757.5 L479.7,2754.7 L480.8,2751.9 L482,2749 L483.1,2746.2 L484.3,2743.4 L485.5,2740.6 L486.7,2737.8 L487.9,2735 L489.1,2732.2 L490.3,2729.3 L491.5,2726.5 L492.6,2723.7 L493.8,2720.9 L494.9,2718.1 L496,2715.3 L497.1,2712.5 L498.2,2709.7 L499.2,2706.9 L500.2,2704.1 L501.3,2701.2 L502.2,2698.4 L503.2,2695.6 L504.2,2692.8 L505.1,2690 L506,2687.2 L507,2684.3 L507.9,2681.5 L508.8,2678.7 L509.6,2675.8 L510.5,2673 L511.4,2670.2 L512.3,2667.3 L513.1,2664.5 L514,2661.6 L514.8,2658.7 L515.7,2655.9 L516.5,2653 L517.3,2650.1 L518.2,2647.3 L519,2644.4 L519.8,2641.5 L520.6,2638.6 L521.4,2635.8 L522.2,2632.9 L523,2630 L523.7,2627.1 L524.5,2624.2 L525.3,2621.3 L526.1,2618.4 L526.8,2615.5 L527.6,2612.6 L528.3,2609.7 L529.1,2606.8 L529.8,2603.9 L530.6,2601 L531.3,2598 L532,2595.1 L532.8,2592.2 L533.5,2589.3 L534.2,2586.4 L534.9,2583.4 L535.6,2580.5 L536.3,2577.6 L537,2574.7 L537.7,2571.7 L538.4,2568.8 L539.1,2565.9 L539.8,2562.9 L540.5,2560 L541.2,2557.1 L541.9,2554.1 L542.5,2551.2 L543.2,2548.3 L543.9,2545.3 L544.6,2542.4 L545.2,2539.5 L545.9,2536.5 L546.5,2533.6 L547.2,2530.6 L547.9,2527.7 L548.5,2524.8 L549.2,2521.8 L549.8,2518.9 L550.5,2515.9 L551.1,2513 L551.8,2510.1 L552.4,2507.1 L553.1,2504.2 L553.7,2501.3 L554.4,2498.3 L555,2495.4 L555.7,2492.4 L556.3,2489.5 L557,2486.6 L557.6,2483.6 L558.2,2480.7 L558.9,2477.8 L559.5,2474.8 L560.2,2471.9 L560.8,2469 L561.5,2466.1 L562.1,2463.1 L562.7,2460.2 L563.4,2457.3 L564,2454.4 L564.7,2451.5 L565.3,2448.5 L566,2445.6 L566.6,2442.7 L567.3,2439.8 L567.9,2436.9 L568.6,2434 L569.2,2431.1 L569.9,2428.2 L570.5,2425.3 L571.2,2422.4 L571.8,2419.5 L572.5,2416.6 L573.1,2413.7 L573.8,2410.8 L574.5,2407.9 L575.1,2405 L575.8,2402.1 L576.5,2399.2 L577.1,2396.3 L577.8,2393.4 L578.5,2390.5 L579.2,2387.6 L579.8,2384.7 L580.5,2381.8 L581.2,2378.9 L581.9,2376 L582.6,2373.1 L583.3,2370.2 L584,2367.3 L584.6,2364.4 L585.3,2361.5 L586,2358.6 L586.7,2355.7 L587.5,2352.8 L588.2,2349.9 L588.9,2347 L589.6,2344.1 L590.3,2341.1 L591,2338.2 L591.7,2335.3 L592.5,2332.4 L593.2,2329.5 L593.9,2326.6 L594.7,2323.7 L595.4,2320.7 L596.1,2317.8 L596.9,2314.9 L597.6,2312 L598.4,2309 L599.2,2306.1 L599.9,2303.2 L600.7,2300.2 L601.4,2297.3 L602.2,2294.3 L603,2291.4 L603.8,2288.5 L604.6,2285.5 L605.4,2282.5 L606.1,2279.6 L606.9,2276.6 L607.7,2273.7 L608.6,2270.7 L609.4,2267.7 L610.2,2264.8 L611,2261.8 L611.9,2258.8 L612.7,2255.9 L613.6,2253 L614.4,2250 L615.3,2247.1 L616.2,2244.2 L617.2,2241.4 L618.1,2238.5 L619.1,2235.7 L620.1,2232.9 L621.1,2230.1 L622.1,2227.4 L623.2,2224.7 L624.3,2222 L625.4,2219.4 L626.6,2216.8 L627.9,2214.3 L629.2,2211.8 L630.7,2209.3 L632.3,2206.9 L634,2204.6 L635.9,2202.3 L638,2200.1 L640.2,2197.9 L642.7,2195.8 L645.3,2193.9 L648,2192.3 L650.7,2190.9 L653.5,2190 L656.2,2189.6 L658.8,2189.8 L661.4,2190.6 L663.7,2192.2 L665.9,2194.4 L668,2197 L669.9,2199.8 L671.6,2202.5 L673.3,2205.1 L674.9,2207.7 L676.4,2210.3 L677.9,2212.9 L679.3,2215.5 L680.7,2218.1 L682.1,2220.7 L683.5,2223.4 L684.8,2226 L686,2228.7 L687.3,2231.4 L688.5,2234.1 L689.7,2236.8 L690.9,2239.6 L692,2242.3 L693.1,2245.1 L694.2,2247.9 L695.3,2250.7 L696.3,2253.5 L697.3,2256.4 L698.3,2259.3 L699.3,2262.1 L700.3,2265 L701.2,2267.9 L702.1,2270.8 L703,2273.6 L703.9,2276.5 L704.7,2279.4 L705.6,2282.3 L706.4,2285.2 L707.2,2288.1 L708,2291 L708.8,2293.9 L709.6,2296.9 L710.3,2299.8 L711.1,2302.7 L711.8,2305.6 L712.5,2308.5 L713.3,2311.4 L714,2314.3 L714.7,2317.3 L715.4,2320.2 L716.1,2323.1 L716.8,2326 L717.5,2329 L718.2,2331.9 L718.8,2334.8 L719.5,2337.7 L720.2,2340.7 L720.9,2343.6 L721.5,2346.5 L722.2,2349.4 L722.8,2352.4 L723.5,2355.3 L724.1,2358.2 L724.8,2361.1 L725.4,2364.1 L726.1,2367 L726.7,2369.9 L727.3,2372.8 L728,2375.8 L728.6,2378.7 L729.2,2381.6 L729.8,2384.6 L730.4,2387.5 L731,2390.4 L731.6,2393.4 L732.2,2396.3 L732.8,2399.2 L733.4,2402.2 L734,2405.1 L734.6,2408 L735.2,2411 L735.8,2413.9 L736.4,2416.8 L736.9,2419.8 L737.5,2422.7 L738.1,2425.6 L738.6,2428.6 L739.2,2431.5 L739.8,2434.4 L740.3,2437.4 L740.9,2440.3 L741.4,2443.3 L742,2446.2 L742.5,2449.1 L743.1,2452.1 L743.6,2455 L744.2,2458 L744.7,2460.9 L745.2,2463.8 L745.8,2466.8 L746.3,2469.7 L746.8,2472.7 L747.3,2475.6 L747.9,2478.6 L748.4,2481.5 L748.9,2484.4 L749.4,2487.4 L749.9,2490.3 L750.4,2493.3 L751,2496.2 L751.5,2499.2 L752,2502.1 L752.5,2505.1 L753,2508 L753.5,2511 L754,2513.9 L754.5,2516.9 L755,2519.8 L755.5,2522.8 L755.9,2525.7 L756.4,2528.7 L756.9,2531.6 L757.4,2534.6 L757.9,2537.5 L758.4,2540.5 L758.9,2543.5 L759.3,2546.4 L759.8,2549.4 L760.3,2552.3 L760.8,2555.3 L761.3,2558.2 L761.7,2561.2 L762.2,2564.2 L762.7,2567.1 L763.2,2570.1 L763.6,2573 L764.1,2576 L764.6,2579 L765,2581.9 L765.5,2584.9 L766,2587.8 L766.4,2590.8 L766.9,2593.8 L767.4,2596.7 L767.8,2599.7 L768.3,2602.7 L768.7,2605.6 L769.2,2608.6 L769.7,2611.6 L770.1,2614.5 L770.6,2617.5 L771,2620.5 L771.5,2623.5 L772,2626.4 L772.4,2629.4 L772.9,2632.4 L773.3,2635.3 L773.8,2638.3 L774.2,2641.3 L774.7,2644.3 L775.2,2647.2 L775.6,2650.2 L776.1,2653.2 L776.5,2656.1 L777,2659.1 L777.4,2662.1 L777.9,2665.1 L778.4,2668 L778.8,2671 L779.3,2674 L779.7,2677 L780.2,2679.9 L780.7,2682.9 L781.1,2685.9 L781.6,2688.9 L782,2691.8 L782.5,2694.8 L783,2697.8 L783.4,2700.8 L783.9,2703.7 L784.4,2706.7 L784.8,2709.7 L785.3,2712.7 L785.8,2715.6 L786.2,2718.6 L786.7,2721.6 L787.2,2724.6 L787.6,2727.5 L788.1,2730.5 L788.6,2733.5 L789,2736.5 L789.5,2739.4 L790,2742.4 L790.5,2745.4 L791,2748.4 L791.4,2751.3 L791.9,2754.3 L792.4,2757.3 L792.9,2760.2 L793.4,2763.2 L793.8,2766.2 L794.3,2769.1 L794.8,2772.1 L795.3,2775.1 L795.8,2778 L796.3,2781 L796.8,2784 L797.3,2786.9 L797.8,2789.9 L798.3,2792.9 L798.8,2795.8 L799.3,2798.8 L799.8,2801.7 L800.3,2804.7 L800.8,2807.7 L801.4,2810.6 L801.9,2813.6 L802.4,2816.5 L802.9,2819.5 L803.4,2822.4 L804,2825.4 L804.5,2828.4 L805,2831.3 L805.6,2834.3 L806.1,2837.2 L806.6,2840.2 L807.2,2843.1 L807.7,2846.1 L808.3,2849 L808.8,2851.9 L809.3,2854.9 L809.9,2857.8 L810.5,2860.8 L811,2863.7 L811.6,2866.6 L812.1,2869.6 L812.7,2872.5 L813.3,2875.5 L813.8,2878.4 L814.4,2881.3 L815,2884.2 L815.6,2887.2 L816.2,2890.1 L816.8,2893 L817.4,2896 L817.9,2898.9 L818.5,2901.8 L819.1,2904.7 L819.7,2907.6 L820.4,2910.6 L821,2913.5 L821.6,2916.4 L822.2,2919.3 L822.9,2922.2 L823.6,2925.1 L824.3,2928 L825,2930.8 L825.8,2933.7 L826.6,2936.6 L827.4,2939.4 L828.3,2942.2 L829.3,2945 L830.3,2947.8 L831.4,2950.6 L832.5,2953.3 L833.7,2956.1 L835,2958.8 L836.3,2961.4 L837.7,2964.1 L839.3,2966.7 L840.9,2969.3 L842.6,2971.9 L844.4,2974.4 L846.3,2977 L848.3,2979.4 L850.4,2981.9 L852.6,2984.3 L855,2986.5 L857.4,2988.7 L859.8,2990.7 L862.4,2992.5 L865,2994.1 L867.6,2995.3 L870.3,2996.3 L872.9,2996.9 L875.6,2997.1 L878.3,2997 L880.9,2996.6 L883.6,2995.8 L886.2,2994.8 L888.8,2993.6 L891.4,2992.2 L893.9,2990.6 L896.4,2988.9 L898.9,2987.1 L901.3,2985.2 L903.6,2983.2 L905.9,2981.1 L908.1,2979 L910.3,2976.8 L912.4,2974.6 L914.4,2972.3 L916.4,2970 L918.3,2967.6 L920.2,2965.2 L922,2962.8 L923.7,2960.3 L925.4,2957.8 L927.1,2955.3 L928.7,2952.7 L930.3,2950.1 L931.9,2947.5 L933.4,2944.9 L934.8,2942.2 L936.3,2939.5 L937.7,2936.8 L939.1,2934.1 L940.4,2931.4 L941.8,2928.6 L943.1,2925.9 L944.4,2923.1 L945.6,2920.4 L946.9,2917.6 L948.1,2914.9 L949.4,2912.1 L950.6,2909.3 L951.8,2906.6 L953,2903.8 L954.1,2901 L955.3,2898.3 L956.4,2895.5 L957.6,2892.7 L958.7,2889.9 L959.8,2887.2 L960.9,2884.4 L962,2881.6 L963.1,2878.8 L964.2,2876.1 L965.3,2873.3 L966.4,2870.5 L967.4,2867.7 L968.5,2864.9 L969.5,2862.2 L970.5,2859.4 L971.6,2856.6 L972.6,2853.8 L973.6,2851 L974.6,2848.2 L975.6,2845.4 L976.6,2842.7 L977.6,2839.9 L978.6,2837.1 L979.6,2834.3 L980.6,2831.5 L981.5,2828.7 L982.5,2825.9 L983.5,2823.1 L984.5,2820.3 L985.4,2817.5 L986.4,2814.7 L987.4,2811.9 L988.3,2809.1 L989.3,2806.3 L990.3,2803.5 L991.2,2800.7 L992.2,2797.9 L993.2,2795.1 L994.1,2792.3 L995.1,2789.5 L996.1,2786.7 L997.1,2783.9 L998,2781.1 L999,2778.3 L1000,2775.5 L1001,2772.7 L1002,2769.9 L1003,2767.1 L1004,2764.3 L1005,2761.5 L1006,2758.7 L1007,2755.9 L1008.1,2753.1 L1009.1,2750.3 L1010.2,2747.5 L1011.2,2744.6 L1012.3,2741.8 L1013.3,2739 L1014.4,2736.2 L1015.5,2733.4 L1016.6,2730.6 L1017.7,2727.8 L1018.8,2725 L1019.9,2722.2 L1021,2719.4 L1022.2,2716.5 L1023.3,2713.7 L1024.5,2710.9 L1025.7,2708.1 L1026.9,2705.3 L1028.1,2702.5 L1029.3,2699.7 L1030.5,2696.8 L1031.8,2694 L1033,2691.2 L1034.3,2688.4 L1035.6,2685.6 L1036.8,2682.8 L1038.1,2680 L1039.4,2677.2 L1040.7,2674.3 L1042,2671.5 L1043.3,2668.7 L1044.6,2665.9 L1045.9,2663.1 L1047.2,2660.3 L1048.5,2657.4 L1049.7,2654.6 L1051,2651.8 L1052.2,2649 L1053.5,2646.2 L1054.7,2643.4 L1055.9,2640.6 L1057.1,2637.7 L1058.2,2634.9 L1059.4,2632.1 L1060.6,2629.3 L1061.7,2626.5 L1062.8,2623.7 L1064,2620.8 L1065.1,2618 L1066.2,2615.2 L1067.3,2612.4 L1068.3,2609.6 L1069.4,2606.8 L1070.5,2603.9 L1071.5,2601.1 L1072.5,2598.3 L1073.6,2595.5 L1074.6,2592.7 L1075.6,2589.8 L1076.6,2587 L1077.6,2584.2 L1078.6,2581.4 L1079.6,2578.6 L1080.5,2575.8 L1081.5,2572.9 L1082.5,2570.1 L1083.4,2567.3 L1084.4,2564.5 L1085.3,2561.7 L1086.3,2558.8 L1087.2,2556 L1088.1,2553.2 L1089,2550.4 L1090,2547.6 L1090.9,2544.8 L1091.8,2541.9 L1092.7,2539.1 L1093.6,2536.3 L1094.5,2533.5 L1095.4,2530.7 L1096.3,2527.8 L1097.2,2525 L1098.1,2522.2 L1099,2519.4 L1099.9,2516.6 L1100.7,2513.7 L1101.6,2510.9 L1102.5,2508.1 L1103.4,2505.3 L1104.3,2502.5 L1105.2,2499.7 L1106.1,2496.8 L1106.9,2494 L1107.8,2491.2 L1108.7,2488.4 L1109.6,2485.6 L1110.5,2482.7 L1111.4,2479.9 L1112.3,2477.1 L1113.2,2474.3 L1114.1,2471.5 L1115,2468.6 L1115.9,2465.8 L1116.8,2463 L1117.8,2460.2 L1118.7,2457.4 L1119.6,2454.5 L1120.5,2451.7 L1121.5,2448.9 L1122.4,2446.1 L1123.4,2443.3 L1124.3,2440.5 L1125.3,2437.6 L1126.2,2434.8 L1127.2,2432 L1128.2,2429.2 L1129.2,2426.4 L1130.1,2423.5 L1131.1,2420.7 L1132.1,2417.9 L1133.1,2415.1 L1134.1,2412.3 L1135.1,2409.4 L1136.1,2406.6 L1137.2,2403.8 L1138.2,2401 L1139.2,2398.2 L1140.2,2395.4 L1141.3,2392.5 L1142.3,2389.7 L1143.4,2386.9 L1144.4,2384.1 L1145.5,2381.3 L1146.5,2378.5 L1147.6,2375.7 L1148.7,2372.8 L1149.8,2370 L1150.9,2367.2 L1152,2364.4 L1153.1,2361.6 L1154.2,2358.9 L1155.4,2356.1 L1156.5,2353.3 L1157.6,2350.5 L1158.8,2347.7 L1160,2345 L1161.2,2342.2 L1162.3,2339.4 L1163.6,2336.7 L1164.8,2333.9 L1166,2331.2 L1167.2,2328.4 L1168.5,2325.7 L1169.7,2323 L1171,2320.3 L1172.3,2317.5 L1173.6,2314.8 L1174.9,2312.1 L1176.2,2309.5 L1177.6,2306.8 L1179,2304.1 L1180.3,2301.4 L1181.7,2298.8 L1183.1,2296.1 L1184.5,2293.5 L1186,2290.9 L1187.4,2288.3 L1188.9,2285.7 L1190.4,2283.1 L1191.9,2280.5 L1193.4,2277.9 L1194.9,2275.3 L1196.5,2272.8 L1198.1,2270.2 L1199.7,2267.7 L1201.3,2265.2 L1202.9,2262.7 L1204.6,2260.2 L1206.2,2257.7 L1207.9,2255.2 L1209.6,2252.8 L1211.4,2250.3 L1213.1,2247.9 L1214.9,2245.5 L1216.7,2243.1 L1218.5,2240.7 L1220.3,2238.3 L1222.2,2236 L1224.1,2233.7 L1226,2231.3 L1227.9,2229 L1229.9,2226.7 L1231.9,2224.4 L1233.9,2222.2 L1235.9,2219.9 L1237.9,2217.7 L1240,2215.5 L1242.1,2213.4 L1244.3,2211.2 L1246.5,2209.1 L1248.7,2207.1 L1250.9,2205.1 L1253.2,2203.1 L1255.5,2201.2 L1257.9,2199.4 L1260.3,2197.6 L1262.7,2195.9 L1265.2,2194.2 L1267.7,2192.7 L1270.3,2191.2 L1273,2189.8 L1275.6,2188.5 L1278.4,2187.3 L1281.2,2186.2 L1284,2185.2 L1286.8,2184.3 L1289.6,2183.6 L1292.5,2182.9 L1295.4,2182.4 L1298.3,2182 L1301.2,2181.8 L1304,2181.7 L1306.9,2181.8 L1309.7,2182 L1312.5,2182.3 L1315.3,2182.9 L1318,2183.6 L1320.7,2184.4 L1323.3,2185.5 L1325.9,2186.6 L1328.5,2187.9 L1331,2189.4 L1333.4,2191 L1335.8,2192.7 L1338.2,2194.5 L1340.5,2196.4 L1342.8,2198.4 L1345,2200.6 L1347.2,2202.7 L1349.4,2205 L1351.5,2207.3 L1353.5,2209.7 L1355.5,2212.2 L1357.4,2214.7 L1359.3,2217.2 L1361.2,2219.7 L1363,2222.3 L1364.7,2224.9 L1366.4,2227.5 L1368.1,2230.1 L1369.7,2232.7 L1371.3,2235.3 L1372.8,2237.9 L1374.3,2240.6 L1375.7,2243.2 L1377.1,2245.8 L1378.5,2248.5 L1379.8,2251.2 L1381.2,2253.8 L1382.5,2256.5 L1383.7,2259.2 L1385,2261.9 L1386.2,2264.6 L1387.4,2267.3 L1388.6,2270 L1389.8,2272.7 L1390.9,2275.4 L1392.1,2278.1 L1393.2,2280.8 L1394.4,2283.6 L1395.5,2286.3 L1396.6,2289.1 L1397.8,2291.8 L1398.9,2294.6 L1400,2297.3 L1401.1,2300.1 L1402.2,2302.9 L1403.2,2305.6 L1404.3,2308.4 L1405.4,2311.2 L1406.5,2314 L1407.5,2316.8 L1408.6,2319.6 L1409.6,2322.4 L1410.7,2325.2 L1411.7,2328 L1412.8,2330.8 L1413.8,2333.6 L1414.8,2336.4 L1415.8,2339.2 L1416.8,2342 L1417.8,2344.9 L1418.8,2347.7 L1419.8,2350.5 L1420.8,2353.4 L1421.8,2356.2 L1422.7,2359 L1423.7,2361.9 L1424.7,2364.7 L1425.6,2367.6 L1426.6,2370.4 L1427.5,2373.2 L1428.5,2376.1 L1429.4,2378.9 L1430.3,2381.8 L1431.3,2384.6 L1432.2,2387.5 L1433.1,2390.4 L1434,2393.2 L1434.9,2396.1 L1435.8,2398.9 L1436.7,2401.8 L1437.6,2404.7 L1438.5,2407.5 L1439.4,2410.4 L1440.3,2413.2 L1441.1,2416.1 L1442,2419 L1442.9,2421.9 L1443.7,2424.7 L1444.6,2427.6 L1445.4,2430.5 L1446.3,2433.3 L1447.1,2436.2 L1448,2439.1 L1448.8,2442 L1449.6,2444.9 L1450.5,2447.7 L1451.3,2450.6 L1452.1,2453.5 L1452.9,2456.4 L1453.8,2459.3 L1454.6,2462.2 L1455.4,2465.1 L1456.2,2467.9 L1457,2470.8 L1457.8,2473.7 L1458.6,2476.6 L1459.4,2479.5 L1460.2,2482.4 L1460.9,2485.3 L1461.7,2488.2 L1462.5,2491.1 L1463.3,2494 L1464.1,2496.9 L1464.8,2499.8 L1465.6,2502.7 L1466.4,2505.6 L1467.2,2508.5 L1467.9,2511.4 L1468.7,2514.3 L1469.4,2517.2 L1470.2,2520.1 L1471,2523 L1471.7,2525.9 L1472.5,2528.8 L1473.2,2531.7 L1474,2534.6 L1474.7,2537.5 L1475.5,2540.4 L1476.2,2543.3 L1477,2546.2 L1477.7,2549.1 L1478.4,2552.1 L1479.2,2555 L1479.9,2557.9 L1480.7,2560.8 L1481.4,2563.7 L1482.1,2566.6 L1482.9,2569.5 L1483.6,2572.4 L1484.3,2575.3 L1485.1,2578.2 L1485.8,2581.2 L1486.5,2584.1 L1487.3,2587 L1488,2589.9 L1488.7,2592.8 L1489.4,2595.7 L1490.2,2598.6 L1490.9,2601.5 L1491.6,2604.5 L1492.4,2607.4 L1493.1,2610.3 L1493.8,2613.2 L1494.5,2616.1 L1495.3,2619 L1496,2621.9 L1496.7,2624.8 L1497.5,2627.7 L1498.2,2630.7 L1498.9,2633.6 L1499.6,2636.5 L1500.4,2639.4 L1501.1,2642.3 L1501.8,2645.2 L1502.6,2648.1 L1503.3,2651 L1504,2653.9 L1504.8,2656.9 L1505.5,2659.8 L1506.3,2662.7 L1507,2665.6 L1507.7,2668.5 L1508.5,2671.4 L1509.2,2674.3 L1510,2677.2 L1510.7,2680.1 L1511.5,2683 L1512.2,2685.9 L1513,2688.8 L1513.7,2691.7 L1514.5,2694.7 L1515.2,2697.6 L1516,2700.5 L1516.8,2703.4 L1517.5,2706.3 L1518.3,2709.2 L1519.1,2712.1 L1519.8,2715 L1520.6,2717.9 L1521.4,2720.8 L1522.2,2723.7 L1522.9,2726.6 L1523.7,2729.4 L1524.5,2732.3 L1525.3,2735.2 L1526.1,2738.1 L1526.9,2741 L1527.7,2743.9 L1528.5,2746.8 L1529.3,2749.7 L1530.1,2752.6 L1530.9,2755.5 L1531.7,2758.4 L1532.5,2761.2 L1533.4,2764.1 L1534.2,2767 L1535,2769.9 L1535.8,2772.8 L1536.7,2775.7 L1537.5,2778.5 L1538.3,2781.4 L1539.2,2784.3 L1540,2787.2 L1540.9,2790 L1541.8,2792.9 L1542.6,2795.8 L1543.5,2798.6 L1544.4,2801.5 L1545.2,2804.4 L1546.1,2807.3 L1547,2810.1 L1547.9,2813 L1548.8,2815.8 L1549.7,2818.7 L1550.6,2821.6 L1551.5,2824.4 L1552.4,2827.3 L1553.3,2830.1 L1554.2,2833 L1555.2,2835.8 L1556.1,2838.7 L1557,2841.5 L1558,2844.4 L1558.9,2847.2 L1559.9,2850.1 L1560.8,2852.9 L1561.8,2855.8 L1562.7,2858.6 L1563.7,2861.4 L1564.7,2864.3 L1565.7,2867.1 L1566.7,2869.9 L1567.6,2872.8 L1568.6,2875.6 L1569.6,2878.4 L1570.6,2881.3 L1571.6,2884.1 L1572.7,2886.9 L1573.7,2889.7 L1574.7,2892.6 L1575.7,2895.4 L1576.7,2898.2 L1577.8,2901 L1578.8,2903.8 L1579.9,2906.7 L1580.9,2909.5 L1581.9,2912.3 L1583,2915.1 L1584.1,2917.9 L1585.1,2920.7 L1586.2,2923.5 L1587.3,2926.3 L1588.3,2929.1 L1589.4,2931.9 L1590.5,2934.7 L1591.6,2937.5 L1592.7,2940.3 L1593.8,2943.1 L1594.8,2945.9 L1595.9,2948.7 L1597.1,2951.5 L1598.2,2954.3 L1599.3,2957.1 L1600.4,2959.9 L1601.5,2962.7 L1602.6,2965.4 L1603.8,2968.2 L1604.9,2971 L1606,2973.8 L1607.2,2976.6 L1608.3,2979.4 L1609.4,2982.1 L1610.6,2984.9 L1611.7,2987.7 L1612.9,2990.5 L1614,2993.2 L1615.2,2996 L1616.4,2998.8 L1617.5,3001.5 L1618.7,3004.3 L1619.9,3007.1 L1621,3009.8 L1622.2,3012.6 L1623.4,3015.4 L1624.6,3018.1 L1625.8,3020.9 L1627,3023.6 L1628.2,3026.4 L1629.4,3029.1 L1630.6,3031.9 L1631.8,3034.6 L1633,3037.4 L1634.2,3040.1 L1635.4,3042.9 L1636.6,3045.6 L1637.8,3048.4 L1639,3051.1 L1640.3,3053.9 L1641.5,3056.6 L1642.7,3059.4 L1643.9,3062.1 L1645.2,3064.8 L1646.4,3067.6 L1647.6,3070.3 L1648.9,3073 L1650.1,3075.8 L1651.4,3078.5 L1652.6,3081.2 L1653.9,3084 L1655.1,3086.7 L1656.4,3089.4 L1657.6,3092.1 L1658.9,3094.9 L1660.1,3097.6 L1661.4,3100.3 L1662.7,3103 L1663.9,3105.7 L1665.2,3108.5 L1666.5,3111.2 L1667.7,3113.9 L1669,3116.6 L1670.3,3119.3 L1671.6,3122 L1672.8,3124.7 L1674.1,3127.5 L1675.4,3130.2 L1676.7,3132.9 L1678,3135.6 L1679.3,3138.3 L1680.6,3141 L1681.9,3143.7 L1683.2,3146.4 L1684.5,3149.1 L1685.8,3151.8 L1687.1,3154.5 L1688.4,3157.1 L1689.7,3159.8 L1691,3162.5 L1692.4,3165.2 L1693.7,3167.9 L1695.1,3170.5 L1696.4,3173.2 L1697.8,3175.9 L1699.1,3178.5 L1700.5,3181.2 L1701.9,3183.8 L1703.3,3186.4 L1704.7,3189.1 L1706.1,3191.7 L1707.6,3194.3 L1709,3196.9 L1710.5,3199.5 L1711.9,3202.1 L1713.4,3204.7 L1714.9,3207.3 L1716.4,3209.9 L1717.9,3212.4 L1719.4,3215 L1721,3217.6 L1722.5,3220.1 L1724.1,3222.6 L1725.7,3225.2 L1727.3,3227.7 L1728.9,3230.2 L1730.6,3232.7 L1732.2,3235.2 L1733.9,3237.6 L1735.6,3240.1 L1737.3,3242.5 L1739,3245 L1740.8,3247.4 L1742.5,3249.8 L1744.3,3252.2 L1746.1,3254.6 L1747.9,3257 L1749.8,3259.4 L1751.7,3261.7 L1753.5,3264.1 L1755.5,3266.4 L1757.4,3268.7 L1759.4,3271 L1761.3,3273.3 L1763.3,3275.6 L1765.4,3277.9 L1767.4,3280.1 L1769.5,3282.4 L1771.6,3284.6 L1773.8,3286.8 L1775.9,3289 L1778.1,3291.1 L1780.3,3293.3 L1782.6,3295.4 L1784.8,3297.5 L1787.1,3299.6 L1789.4,3301.7 L1791.8,3303.8 L1794.2,3305.8 L1796.6,3307.7 L1799,3309.6 L1801.4,3311.5 L1803.9,3313.3 L1806.4,3315.1 L1808.9,3316.8 L1811.4,3318.4 L1814,3320 L1816.6,3321.4 L1819.2,3322.8 L1821.8,3324.1 L1824.4,3325.4 L1827.1,3326.5 L1829.8,3327.5 L1832.5,3328.4 L1835.2,3329.2 L1837.9,3329.9 L1840.6,3330.5 L1843.4,3331 L1846.2,3331.4 L1848.9,3331.8 L1851.7,3332.1 L1854.5,3332.4 L1857.4,3332.6 L1860.2,3332.9 L1863,3333.1 L1865.9,3333.4 L1868.8,3333.6 L1871.6,3333.9 L1874.5,3334.3 L1877.4,3334.7 L1880.3,3335.2 L1883.2,3335.7 L1886.2,3336.3 L1889.1,3336.9 L1892,3337.5 L1894.9,3338.2 L1897.9,3338.9 L1900.8,3339.7 L1903.8,3340.5 L1906.7,3341.3 L1909.7,3342.1 L1912.6,3342.9 L1915.6,3343.7 L1918.5,3344.6 L1921.5,3345.4 L1924.4,3346.2 L1927.4,3347.1 L1930.3,3347.9 L1933.3,3348.7 L1936.2,3349.5 L1939.2,3350.2 L1942.1,3351 L1945.1,3351.8 L1948,3352.5 L1951,3353.2 L1953.9,3353.9 L1956.8,3354.7 L1959.8,3355.4 L1962.7,3356 L1965.7,3356.7 L1968.6,3357.4 L1971.6,3358 L1974.5,3358.7 L1977.4,3359.3 L1980.4,3359.9 L1983.3,3360.5 L1986.3,3361.1 L1989.2,3361.7 L1992.1,3362.3 L1995.1,3362.9 L1998,3363.4 L2000.9,3364 L2003.9,3364.5 L2006.8,3365 L2009.8,3365.5 L2012.7,3366.1 L2015.6,3366.5 L2018.6,3367 L2021.5,3367.5 L2024.5,3368 L2027.4,3368.4 L2030.4,3368.9 L2033.3,3369.3 L2036.3,3369.7 L2039.2,3370.2 L2042.2,3370.6 L2045.1,3371 L2048,3371.4 L2051,3371.7 L2054,3372.1 L2056.9,3372.5 L2059.9,3372.8 L2062.8,3373.2 L2065.8,3373.5 L2068.7,3373.8 L2071.7,3374.1 L2074.7,3374.4 L2077.6,3374.7 L2080.6,3375 L2083.6,3375.3 L2086.5,3375.6 L2089.5,3375.8 L2092.5,3376.1 L2095.5,3376.3 L2098.4,3376.6 L2101.4,3376.8 L2104.4,3377 L2107.4,3377.2 L2110.4,3377.4 L2113.4,3377.6 L2116.4,3377.8 L2119.4,3378 L2122.4,3378.2 L2125.4,3378.3 L2128.4,3378.5 L2131.4,3378.6 L2134.4,3378.8 L2137.4,3378.9 L2140.4,3379 L2143.4,3379.1 L2146.4,3379.2 L2149.5,3379.3 L2152.5,3379.4 L2155.5,3379.5 L2158.6,3379.6 L2161.6,3379.6 L2164.6,3379.7 L2167.7,3379.8 L2170.7,3379.8 L2173.8,3379.9 L2176.8,3379.9 L2178.1,3379.9" fill="none" stroke="#000" stroke-width="4.7" stroke-linejoin="round"/>
<path d="M327.1,2921.9 L327,2924.8 L327,2927.6 L327,2930.5 L327,2933.5 L327.1,2936.4 L327.1,2939.4 L327.2,2942.4 L327.4,2945.4 L327.5,2948.5 L327.7,2951.5 L327.8,2954.6 L328,2957.6 L328.2,2960.7 L328.5,2963.8 L328.7,2966.9 L329,2970 L329.2,2973 L329.5,2976.1 L329.8,2979.1 L330.1,2982.2 L330.3,2985.2 L330.6,2988.2 L330.9,2991.2 L331.2,2994.1 L331.6,2997 L331.9,2999.9 L332.2,3002.8 L332.5,3005.6 L332.8,3008.4 L333.1,3011.2 L333.3,3014.1 L333.6,3016.9 L333.9,3019.8 L334.1,3022.8 L334.4,3025.9 L334.6,3029.1 L334.9,3032.5 L335.1,3035.9 L335.3,3039.4 L335.7,3042.9 L336.2,3046.3 L337,3049.4 L338,3052.3 L339.4,3054.7 L341.3,3056.6 L343.5,3057.9 L345.9,3058.6 L348.3,3058.4 L350.4,3057.5 L352.3,3055.9 L354.1,3053.7 L355.8,3051.2 L357.3,3048.3 L358.8,3045.3 L360.3,3042.3 L361.7,3039.4 L363.2,3036.5 L364.6,3033.8 L366,3031.2 L367.4,3028.6 L368.8,3026 L370.1,3023.4 L371.4,3020.7 L372.6,3018.1 L373.8,3015.4 L375,3012.7 L376.1,3010 L377.3,3007.3 L378.4,3004.6 L379.5,3001.9 L380.7,2999.1 L381.8,2996.4 L383,2993.6 L384.2,2990.9 L385.4,2988.1 L386.7,2985.4 L388,2982.6 L389.3,2979.9 L390.8,2977.2 L392.2,2974.5 L393.7,2971.8 L395.3,2969.1 L396.8,2966.4 L398.3,2963.7 L399.8,2961.1 L401.3,2958.4 L402.7,2955.8 L404,2953.2 L405.2,2950.6 L406.5,2948 L407.7,2945.4 L409,2942.8 L410.3,2940.2 L411.7,2937.7 L413.3,2935.1 L415,2932.6 L416.8,2930.1 L418.6,2927.5 L420.5,2925 L422.3,2922.5 L424,2920 L425.5,2917.6 L427,2915.1 L428.7,2912.8 L430.5,2910.6 L432.5,2908.4 L434.6,2906.3 L436.5,2904 L438.1,2901.6 L439.6,2899 L440.8,2896.4 L442,2893.6 L443.2,2890.9 L444.4,2888.2 L445.7,2885.5 L447.2,2882.9 L448.8,2880.4 L450.4,2877.8 L452.1,2875.3 L453.7,2872.7 L455.3,2870.2 L456.8,2867.6 L458.2,2864.9 L459.5,2862.2 L460.8,2859.4 L461.9,2856.6 L463.1,2853.8 L464.2,2851 L465.2,2848.2 L466.3,2845.4 L467.3,2842.6 L468.3,2839.7 L469.3,2836.9 L470.3,2834.1 L471.3,2831.3 L472.2,2828.5 L473.2,2825.7 L474.2,2822.9 L475.1,2820.1 L476.1,2817.3 L477.1,2814.5 L478,2811.7 L479,2808.9 L480,2806.1 L481,2803.3 L482,2800.5 L483,2797.7 L484.1,2794.9 L485.1,2792.1 L486.1,2789.3 L487.2,2786.4 L488.2,2783.6 L489.3,2780.8 L490.3,2778 L491.4,2775.1 L492.4,2772.3 L493.5,2769.5 L494.5,2766.6 L495.6,2763.8 L496.6,2760.9 L497.6,2758.1 L498.7,2755.3 L499.7,2752.4 L500.7,2749.6 L501.7,2746.7 L502.7,2743.8 L503.7,2741 L504.6,2738.1 L505.6,2735.3 L506.5,2732.4 L507.4,2729.5 L508.3,2726.7 L509.2,2723.8 L510.1,2720.9 L511,2718.1 L511.9,2715.2 L512.7,2712.3 L513.5,2709.4 L514.3,2706.6 L515.2,2703.7 L516,2700.8 L516.7,2697.9 L517.5,2695 L518.3,2692.1 L519.1,2689.3 L519.8,2686.4 L520.6,2683.5 L521.3,2680.6 L522,2677.7 L522.8,2674.8 L523.5,2671.9 L524.2,2669 L524.9,2666.1 L525.6,2663.2 L526.3,2660.3 L527,2657.4 L527.6,2654.5 L528.3,2651.6 L529,2648.6 L529.6,2645.7 L530.3,2642.8 L530.9,2639.9 L531.6,2637 L532.2,2634.1 L532.9,2631.2 L533.5,2628.2 L534.1,2625.3 L534.8,2622.4 L535.4,2619.5 L536,2616.6 L536.6,2613.6 L537.3,2610.7 L537.9,2607.8 L538.5,2604.9 L539.1,2601.9 L539.7,2599 L540.3,2596.1 L540.9,2593.2 L541.5,2590.2 L542.1,2587.3 L542.8,2584.4 L543.4,2581.4 L544,2578.5 L544.6,2575.6 L545.2,2572.6 L545.8,2569.7 L546.4,2566.7 L547,2563.8 L547.6,2560.9 L548.2,2557.9 L548.9,2555 L549.5,2552.1 L550.1,2549.1 L550.7,2546.2 L551.4,2543.2 L552,2540.3 L552.6,2537.4 L553.2,2534.4 L553.9,2531.5 L554.5,2528.5 L555.1,2525.6 L555.8,2522.6 L556.4,2519.7 L557,2516.7 L557.7,2513.8 L558.3,2510.9 L558.9,2507.9 L559.6,2505 L560.2,2502 L560.8,2499.1 L561.5,2496.1 L562.1,2493.2 L562.8,2490.2 L563.4,2487.3 L564,2484.3 L564.7,2481.4 L565.3,2478.5 L565.9,2475.5 L566.6,2472.6 L567.2,2469.6 L567.9,2466.7 L568.5,2463.7 L569.1,2460.8 L569.8,2457.8 L570.4,2454.9 L571,2451.9 L571.6,2449 L572.3,2446.1 L572.9,2443.1 L573.5,2440.2 L574.2,2437.2 L574.8,2434.3 L575.4,2431.3 L576,2428.4 L576.6,2425.5 L577.3,2422.5 L577.9,2419.6 L578.5,2416.6 L579.1,2413.7 L579.7,2410.8 L580.3,2407.8 L580.9,2404.9 L581.5,2401.9 L582.1,2399 L582.7,2396.1 L583.3,2393.1 L583.9,2390.2 L584.5,2387.3 L585.1,2384.3 L585.7,2381.4 L586.3,2378.5 L586.9,2375.5 L587.5,2372.6 L588.1,2369.7 L588.7,2366.7 L589.3,2363.8 L589.9,2360.9 L590.5,2358 L591.1,2355 L591.7,2352.1 L592.4,2349.2 L593,2346.3 L593.6,2343.3 L594.2,2340.4 L594.8,2337.5 L595.4,2334.6 L596,2331.7 L596.7,2328.7 L597.3,2325.8 L597.9,2322.9 L598.6,2320 L599.2,2317.1 L599.8,2314.2 L600.5,2311.2 L601.1,2308.3 L601.8,2305.4 L602.4,2302.5 L603.1,2299.6 L603.8,2296.7 L604.4,2293.8 L605.1,2290.9 L605.8,2288 L606.5,2285.1 L607.2,2282.2 L607.9,2279.3 L608.6,2276.4 L609.3,2273.5 L610,2270.6 L610.7,2267.7 L611.4,2264.8 L612.2,2261.9 L612.9,2259 L613.7,2256.1 L614.4,2253.2 L615.2,2250.4 L615.9,2247.5 L616.7,2244.6 L617.5,2241.7 L618.3,2238.8 L619.1,2235.9 L620,2233.1 L620.9,2230.2 L621.8,2227.3 L622.8,2224.5 L623.8,2221.6 L624.9,2218.8 L626.1,2215.9 L627.3,2213.1 L628.6,2210.3 L630,2207.5 L631.5,2204.6 L633,2201.9 L634.7,2199.1 L636.5,2196.5 L638.4,2193.9 L640.4,2191.5 L642.6,2189.3 L644.9,2187.3 L647.3,2185.6 L649.8,2184.2 L652.5,2183 L655.2,2182.2 L658,2181.8 L660.7,2181.7 L663.3,2182.1 L665.8,2182.8 L668.1,2183.9 L670.2,2185.5 L672.2,2187.3 L674.1,2189.5 L675.8,2191.9 L677.4,2194.5 L679,2197.1 L680.4,2199.9 L681.9,2202.7 L683.3,2205.5 L684.7,2208.3 L686,2211.1 L687.3,2213.9 L688.6,2216.7 L689.9,2219.6 L691.1,2222.4 L692.3,2225.2 L693.4,2228 L694.5,2230.9 L695.6,2233.7 L696.7,2236.6 L697.8,2239.4 L698.8,2242.3 L699.8,2245.1 L700.8,2248 L701.7,2250.8 L702.7,2253.7 L703.6,2256.6 L704.5,2259.4 L705.4,2262.3 L706.2,2265.2 L707,2268.1 L707.9,2271 L708.7,2273.8 L709.5,2276.7 L710.2,2279.6 L711,2282.5 L711.7,2285.4 L712.5,2288.3 L713.2,2291.2 L713.9,2294.1 L714.6,2297 L715.3,2299.9 L715.9,2302.8 L716.6,2305.7 L717.3,2308.6 L717.9,2311.6 L718.6,2314.5 L719.2,2317.4 L719.9,2320.3 L720.5,2323.2 L721.1,2326.1 L721.8,2329.1 L722.4,2332 L723,2334.9 L723.6,2337.8 L724.2,2340.7 L724.8,2343.7 L725.5,2346.6 L726.1,2349.5 L726.7,2352.5 L727.3,2355.4 L727.9,2358.3 L728.5,2361.3 L729,2364.2 L729.6,2367.1 L730.2,2370.1 L730.8,2373 L731.4,2375.9 L732,2378.9 L732.5,2381.8 L733.1,2384.7 L733.7,2387.7 L734.2,2390.6 L734.8,2393.6 L735.3,2396.5 L735.9,2399.5 L736.5,2402.4 L737,2405.3 L737.6,2408.3 L738.1,2411.2 L738.6,2414.2 L739.2,2417.1 L739.7,2420.1 L740.3,2423 L740.8,2426 L741.3,2428.9 L741.9,2431.9 L742.4,2434.8 L742.9,2437.8 L743.4,2440.8 L744,2443.7 L744.5,2446.7 L745,2449.6 L745.5,2452.6 L746,2455.5 L746.5,2458.5 L747,2461.5 L747.5,2464.4 L748,2467.4 L748.5,2470.3 L749,2473.3 L749.5,2476.3 L750,2479.2 L750.5,2482.2 L751,2485.1 L751.5,2488.1 L752,2491.1 L752.5,2494 L753,2497 L753.4,2500 L753.9,2502.9 L754.4,2505.9 L754.9,2508.9 L755.3,2511.8 L755.8,2514.8 L756.3,2517.8 L756.8,2520.7 L757.2,2523.7 L757.7,2526.7 L758.2,2529.7 L758.6,2532.6 L759.1,2535.6 L759.5,2538.6 L760,2541.5 L760.5,2544.5 L760.9,2547.5 L761.4,2550.5 L761.8,2553.4 L762.3,2556.4 L762.7,2559.4 L763.2,2562.3 L763.6,2565.3 L764.1,2568.3 L764.5,2571.3 L765,2574.2 L765.4,2577.2 L765.9,2580.2 L766.3,2583.2 L766.8,2586.1 L767.2,2589.1 L767.6,2592.1 L768.1,2595.1 L768.5,2598 L769,2601 L769.4,2604 L769.8,2607 L770.3,2609.9 L770.7,2612.9 L771.1,2615.9 L771.6,2618.9 L772,2621.8 L772.4,2624.8 L772.9,2627.8 L773.3,2630.8 L773.7,2633.7 L774.2,2636.7 L774.6,2639.7 L775,2642.7 L775.4,2645.6 L775.9,2648.6 L776.3,2651.6 L776.7,2654.6 L777.2,2657.5 L777.6,2660.5 L778,2663.5 L778.4,2666.5 L778.9,2669.4 L779.3,2672.4 L779.7,2675.4 L780.1,2678.3 L780.6,2681.3 L781,2684.3 L781.4,2687.3 L781.8,2690.2 L782.3,2693.2 L782.7,2696.2 L783.1,2699.1 L783.5,2702.1 L784,2705.1 L784.4,2708.1 L784.8,2711 L785.2,2714 L785.7,2717 L786.1,2719.9 L786.5,2722.9 L787,2725.9 L787.4,2728.8 L787.8,2731.8 L788.2,2734.8 L788.7,2737.7 L789.1,2740.7 L789.5,2743.7 L789.9,2746.6 L790.4,2749.6 L790.8,2752.5 L791.2,2755.5 L791.7,2758.5 L792.1,2761.4 L792.5,2764.4 L793,2767.3 L793.4,2770.3 L793.8,2773.3 L794.3,2776.2 L794.7,2779.2 L795.2,2782.1 L795.6,2785.1 L796,2788 L796.5,2791 L796.9,2794 L797.4,2796.9 L797.8,2799.9 L798.2,2802.8 L798.7,2805.8 L799.1,2808.7 L799.6,2811.7 L800,2814.6 L800.5,2817.6 L800.9,2820.5 L801.4,2823.4 L801.8,2826.4 L802.3,2829.3 L802.7,2832.3 L803.2,2835.2 L803.6,2838.2 L804.1,2841.1 L804.6,2844 L805,2847 L805.5,2849.9 L806,2852.9 L806.4,2855.8 L806.9,2858.7 L807.4,2861.7 L807.8,2864.6 L808.3,2867.5 L808.8,2870.5 L809.3,2873.4 L809.8,2876.3 L810.3,2879.2 L810.8,2882.2 L811.3,2885.1 L811.8,2888 L812.4,2890.9 L812.9,2893.9 L813.5,2896.8 L814.1,2899.7 L814.8,2902.6 L815.4,2905.5 L816.1,2908.4 L816.8,2911.3 L817.6,2914.2 L818.3,2917.2 L819.1,2920.1 L820,2923 L820.8,2925.9 L821.7,2928.7 L822.7,2931.6 L823.7,2934.5 L824.7,2937.4 L825.8,2940.3 L826.9,2943.2 L828.1,2946.1 L829.3,2948.9 L830.6,2951.8 L831.9,2954.7 L833.3,2957.5 L834.7,2960.4 L836.2,2963.3 L837.7,2966.1 L839.3,2968.9 L841,2971.7 L842.8,2974.5 L844.6,2977.1 L846.4,2979.7 L848.4,2982.1 L850.4,2984.4 L852.5,2986.6 L854.6,2988.5 L856.8,2990.3 L859.1,2991.8 L861.5,2993.2 L864,2994.3 L866.5,2995.1 L869.1,2995.7 L871.6,2996.1 L874.2,2996.3 L876.9,2996.2 L879.5,2996 L882.1,2995.4 L884.6,2994.7 L887.2,2993.8 L889.6,2992.6 L892.1,2991.2 L894.4,2989.6 L896.7,2987.8 L898.9,2985.8 L901.1,2983.7 L903.2,2981.5 L905.2,2979.1 L907.2,2976.7 L909.2,2974.1 L911.1,2971.5 L913,2968.9 L914.8,2966.2 L916.5,2963.5 L918.3,2960.9 L920,2958.2 L921.6,2955.5 L923.3,2952.8 L924.8,2950.1 L926.4,2947.4 L927.9,2944.7 L929.4,2942 L930.9,2939.3 L932.3,2936.6 L933.7,2933.9 L935.1,2931.2 L936.4,2928.5 L937.7,2925.7 L939,2923 L940.3,2920.3 L941.5,2917.6 L942.7,2914.8 L943.9,2912.1 L945.1,2909.4 L946.3,2906.6 L947.4,2903.9 L948.5,2901.2 L949.6,2898.4 L950.7,2895.7 L951.8,2892.9 L952.8,2890.2 L953.9,2887.4 L954.9,2884.7 L955.9,2881.9 L957,2879.2 L958,2876.4 L959,2873.6 L959.9,2870.9 L960.9,2868.1 L961.9,2865.3 L962.9,2862.6 L963.9,2859.8 L964.8,2857 L965.8,2854.2 L966.8,2851.4 L967.7,2848.7 L968.7,2845.9 L969.7,2843.1 L970.7,2840.3 L971.7,2837.5 L972.7,2834.7 L973.7,2831.9 L974.7,2829.2 L975.7,2826.4 L976.7,2823.6 L977.7,2820.8 L978.8,2818 L979.8,2815.2 L980.9,2812.4 L981.9,2809.6 L983,2806.8 L984.1,2804 L985.1,2801.2 L986.2,2798.4 L987.3,2795.5 L988.4,2792.7 L989.5,2789.9 L990.6,2787.1 L991.7,2784.3 L992.8,2781.5 L993.9,2778.7 L995,2775.9 L996.1,2773 L997.2,2770.2 L998.3,2767.4 L999.4,2764.6 L1000.5,2761.8 L1001.7,2759 L1002.8,2756.1 L1003.9,2753.3 L1005,2750.5 L1006.1,2747.7 L1007.2,2744.9 L1008.3,2742 L1009.4,2739.2 L1010.5,2736.4 L1011.6,2733.6 L1012.7,2730.7 L1013.8,2727.9 L1014.9,2725.1 L1016,2722.3 L1017.1,2719.4 L1018.2,2716.6 L1019.3,2713.8 L1020.4,2711 L1021.5,2708.1 L1022.5,2705.3 L1023.6,2702.5 L1024.7,2699.7 L1025.8,2696.8 L1026.8,2694 L1027.9,2691.2 L1029,2688.4 L1030,2685.5 L1031.1,2682.7 L1032.2,2679.9 L1033.2,2677 L1034.3,2674.2 L1035.3,2671.4 L1036.4,2668.5 L1037.4,2665.7 L1038.5,2662.9 L1039.5,2660.1 L1040.6,2657.2 L1041.6,2654.4 L1042.6,2651.6 L1043.7,2648.7 L1044.7,2645.9 L1045.8,2643.1 L1046.8,2640.2 L1047.8,2637.4 L1048.8,2634.6 L1049.9,2631.7 L1050.9,2628.9 L1051.9,2626.1 L1052.9,2623.2 L1053.9,2620.4 L1055,2617.6 L1056,2614.7 L1057,2611.9 L1058,2609.1 L1059,2606.2 L1060,2603.4 L1061,2600.6 L1062,2597.7 L1063,2594.9 L1064,2592.1 L1065,2589.2 L1066,2586.4 L1067,2583.6 L1068,2580.7 L1068.9,2577.9 L1069.9,2575 L1070.9,2572.2 L1071.9,2569.4 L1072.9,2566.5 L1073.9,2563.7 L1074.8,2560.9 L1075.8,2558 L1076.8,2555.2 L1077.7,2552.4 L1078.7,2549.5 L1079.7,2546.7 L1080.6,2543.9 L1081.6,2541 L1082.6,2538.2 L1083.5,2535.4 L1084.5,2532.5 L1085.4,2529.7 L1086.4,2526.8 L1087.3,2524 L1088.3,2521.2 L1089.2,2518.3 L1090.2,2515.5 L1091.1,2512.7 L1092.1,2509.8 L1093,2507 L1093.9,2504.2 L1094.9,2501.3 L1095.8,2498.5 L1096.8,2495.7 L1097.7,2492.8 L1098.6,2490 L1099.5,2487.2 L1100.5,2484.3 L1101.4,2481.5 L1102.3,2478.7 L1103.2,2475.8 L1104.2,2473 L1105.1,2470.2 L1106,2467.3 L1106.9,2464.5 L1107.8,2461.7 L1108.7,2458.8 L1109.6,2456 L1110.5,2453.2 L1111.5,2450.3 L1112.4,2447.5 L1113.3,2444.7 L1114.2,2441.8 L1115.1,2439 L1116,2436.2 L1116.9,2433.3 L1117.8,2430.5 L1118.7,2427.7 L1119.6,2424.9 L1120.5,2422 L1121.4,2419.2 L1122.3,2416.4 L1123.2,2413.5 L1124.1,2410.7 L1125.1,2407.9 L1126,2405.1 L1126.9,2402.2 L1127.8,2399.4 L1128.8,2396.6 L1129.7,2393.7 L1130.7,2390.9 L1131.6,2388.1 L1132.6,2385.3 L1133.6,2382.4 L1134.5,2379.6 L1135.5,2376.8 L1136.5,2374 L1137.5,2371.2 L1138.5,2368.3 L1139.5,2365.5 L1140.6,2362.7 L1141.6,2359.9 L1142.6,2357.1 L1143.7,2354.3 L1144.7,2351.5 L1145.8,2348.6 L1146.8,2345.8 L1147.9,2343 L1149,2340.2 L1150.1,2337.4 L1151.2,2334.6 L1152.3,2331.9 L1153.5,2329.1 L1154.6,2326.3 L1155.8,2323.5 L1156.9,2320.7 L1158.1,2317.9 L1159.3,2315.2 L1160.5,2312.4 L1161.7,2309.6 L1162.9,2306.9 L1164.1,2304.1 L1165.4,2301.3 L1166.6,2298.6 L1167.9,2295.8 L1169.2,2293.1 L1170.5,2290.3 L1171.8,2287.6 L1173.1,2284.9 L1174.5,2282.2 L1175.8,2279.4 L1177.2,2276.7 L1178.6,2274 L1180,2271.3 L1181.4,2268.6 L1182.8,2265.9 L1184.3,2263.3 L1185.8,2260.6 L1187.3,2258 L1188.8,2255.4 L1190.4,2252.8 L1191.9,2250.2 L1193.6,2247.7 L1195.2,2245.2 L1196.9,2242.7 L1198.6,2240.2 L1200.4,2237.8 L1202.2,2235.5 L1204,2233.1 L1205.9,2230.8 L1207.8,2228.6 L1209.7,2226.4 L1211.8,2224.2 L1213.8,2222.1 L1215.9,2220.1 L1218.1,2218.1 L1220.3,2216.1 L1222.5,2214.3 L1224.8,2212.4 L1227.2,2210.7 L1229.6,2209 L1232.1,2207.4 L1234.6,2205.8 L1237.2,2204.3 L1239.8,2202.9 L1242.5,2201.6 L1245.2,2200.4 L1248,2199.3 L1250.8,2198.3 L1253.7,2197.4 L1256.6,2196.6 L1259.6,2195.9 L1262.5,2195.3 L1265.5,2194.8 L1268.5,2194.5 L1271.6,2194.3 L1274.6,2194.2 L1277.6,2194.2 L1280.6,2194.4 L1283.6,2194.7 L1286.6,2195.2 L1289.6,2195.7 L1292.5,2196.4 L1295.4,2197.2 L1298.2,2198.1 L1301.1,2199.2 L1303.8,2200.4 L1306.5,2201.6 L1309.2,2203 L1311.7,2204.5 L1314.2,2206.1 L1316.7,2207.7 L1319,2209.4 L1321.3,2211.2 L1323.5,2213.1 L1325.7,2215.1 L1327.8,2217.1 L1329.8,2219.2 L1331.8,2221.4 L1333.7,2223.6 L1335.6,2225.9 L1337.4,2228.2 L1339.2,2230.6 L1340.9,2233 L1342.6,2235.5 L1344.3,2238 L1345.9,2240.5 L1347.4,2243.1 L1349,2245.7 L1350.4,2248.3 L1351.9,2251 L1353.3,2253.7 L1354.7,2256.4 L1356.1,2259.1 L1357.5,2261.8 L1358.8,2264.5 L1360.1,2267.3 L1361.4,2270 L1362.7,2272.8 L1363.9,2275.5 L1365.1,2278.3 L1366.3,2281 L1367.5,2283.8 L1368.7,2286.6 L1369.9,2289.4 L1371,2292.2 L1372.1,2295 L1373.2,2297.8 L1374.3,2300.6 L1375.4,2303.4 L1376.4,2306.2 L1377.5,2309 L1378.5,2311.8 L1379.5,2314.7 L1380.5,2317.5 L1381.5,2320.4 L1382.4,2323.2 L1383.4,2326 L1384.3,2328.9 L1385.3,2331.7 L1386.2,2334.6 L1387.1,2337.5 L1388,2340.3 L1388.9,2343.2 L1389.8,2346.1 L1390.6,2348.9 L1391.5,2351.8 L1392.3,2354.7 L1393.2,2357.6 L1394,2360.5 L1394.8,2363.4 L1395.6,2366.2 L1396.4,2369.1 L1397.2,2372 L1398,2374.9 L1398.8,2377.8 L1399.6,2380.7 L1400.3,2383.6 L1401.1,2386.5 L1401.9,2389.4 L1402.6,2392.3 L1403.4,2395.2 L1404.1,2398.1 L1404.9,2401 L1405.6,2403.9 L1406.3,2406.8 L1407.1,2409.7 L1407.8,2412.7 L1408.5,2415.6 L1409.2,2418.5 L1409.9,2421.4 L1410.6,2424.3 L1411.4,2427.2 L1412.1,2430.1 L1412.7,2433 L1413.4,2436 L1414.1,2438.9 L1414.8,2441.8 L1415.5,2444.7 L1416.2,2447.6 L1416.8,2450.6 L1417.5,2453.5 L1418.2,2456.4 L1418.8,2459.3 L1419.5,2462.2 L1420.1,2465.2 L1420.8,2468.1 L1421.4,2471 L1422.1,2473.9 L1422.7,2476.9 L1423.3,2479.8 L1424,2482.7 L1424.6,2485.7 L1425.2,2488.6 L1425.8,2491.5 L1426.5,2494.5 L1427.1,2497.4 L1427.7,2500.3 L1428.3,2503.3 L1428.9,2506.2 L1429.5,2509.1 L1430.1,2512.1 L1430.7,2515 L1431.3,2517.9 L1431.9,2520.9 L1432.5,2523.8 L1433.1,2526.8 L1433.6,2529.7 L1434.2,2532.6 L1434.8,2535.6 L1435.4,2538.5 L1436,2541.5 L1436.5,2544.4 L1437.1,2547.3 L1437.7,2550.3 L1438.2,2553.2 L1438.8,2556.2 L1439.4,2559.1 L1439.9,2562.1 L1440.5,2565 L1441,2568 L1441.6,2570.9 L1442.1,2573.9 L1442.7,2576.8 L1443.2,2579.7 L1443.8,2582.7 L1444.3,2585.6 L1444.9,2588.6 L1445.4,2591.5 L1446,2594.5 L1446.5,2597.4 L1447,2600.4 L1447.6,2603.3 L1448.1,2606.3 L1448.7,2609.2 L1449.2,2612.2 L1449.7,2615.1 L1450.3,2618.1 L1450.8,2621.1 L1451.3,2624 L1451.8,2627 L1452.4,2629.9 L1452.9,2632.9 L1453.4,2635.8 L1454,2638.8 L1454.5,2641.7 L1455,2644.7 L1455.5,2647.6 L1456,2650.6 L1456.6,2653.5 L1457.1,2656.5 L1457.6,2659.5 L1458.1,2662.4 L1458.7,2665.4 L1459.2,2668.3 L1459.7,2671.3 L1460.2,2674.2 L1460.7,2677.2 L1461.3,2680.1 L1461.8,2683.1 L1462.3,2686.1 L1462.8,2689 L1463.4,2692 L1463.9,2694.9 L1464.4,2697.9 L1464.9,2700.8 L1465.4,2703.8 L1466,2706.7 L1466.5,2709.7 L1467,2712.7 L1467.5,2715.6 L1468.1,2718.6 L1468.6,2721.5 L1469.1,2724.5 L1469.6,2727.4 L1470.2,2730.4 L1470.7,2733.3 L1471.2,2736.3 L1471.8,2739.3 L1472.3,2742.2 L1472.8,2745.2 L1473.4,2748.1 L1473.9,2751.1 L1474.4,2754 L1475,2757 L1475.5,2759.9 L1476.1,2762.9 L1476.6,2765.8 L1477.2,2768.8 L1477.7,2771.7 L1478.2,2774.7 L1478.8,2777.7 L1479.3,2780.6 L1479.9,2783.6 L1480.5,2786.5 L1481,2789.5 L1481.6,2792.4 L1482.1,2795.4 L1482.7,2798.3 L1483.2,2801.3 L1483.8,2804.2 L1484.4,2807.2 L1484.9,2810.1 L1485.5,2813.1 L1486.1,2816 L1486.6,2818.9 L1487.2,2821.9 L1487.8,2824.8 L1488.4,2827.8 L1489,2830.7 L1489.5,2833.7 L1490.1,2836.6 L1490.7,2839.6 L1491.3,2842.5 L1491.9,2845.4 L1492.5,2848.4 L1493.1,2851.3 L1493.7,2854.3 L1494.3,2857.2 L1494.9,2860.2 L1495.5,2863.1 L1496.1,2866 L1496.7,2869 L1497.3,2871.9 L1497.9,2874.8 L1498.5,2877.8 L1499.1,2880.7 L1499.7,2883.7 L1500.4,2886.6 L1501,2889.5 L1501.6,2892.5 L1502.2,2895.4 L1502.9,2898.3 L1503.5,2901.3 L1504.1,2904.2 L1504.8,2907.1 L1505.4,2910 L1506.1,2913 L1506.7,2915.9 L1507.4,2918.8 L1508,2921.8 L1508.7,2924.7 L1509.3,2927.6 L1510,2930.5 L1510.6,2933.5 L1511.3,2936.4 L1512,2939.3 L1512.6,2942.2 L1513.3,2945.1 L1514,2948.1 L1514.7,2951 L1515.4,2953.9 L1516,2956.8 L1516.7,2959.7 L1517.4,2962.7 L1518.1,2965.6 L1518.8,2968.5 L1519.5,2971.4 L1520.2,2974.3 L1520.9,2977.2 L1521.6,2980.1 L1522.4,2983 L1523.1,2986 L1523.8,2988.9 L1524.5,2991.8 L1525.3,2994.7 L1526,2997.6 L1526.7,3000.5 L1527.5,3003.4 L1528.2,3006.3 L1528.9,3009.2 L1529.7,3012.1 L1530.4,3015 L1531.2,3017.9 L1531.9,3020.8 L1532.7,3023.7 L1533.5,3026.6 L1534.2,3029.5 L1535,3032.4 L1535.8,3035.3 L1536.6,3038.2 L1537.4,3041.1 L1538.1,3044 L1538.9,3046.9 L1539.7,3049.8 L1540.5,3052.7 L1541.3,3055.6 L1542.1,3058.4 L1542.9,3061.3 L1543.8,3064.2 L1544.6,3067.1 L1545.4,3070 L1546.2,3072.9 L1547,3075.8 L1547.9,3078.6 L1548.7,3081.5 L1549.6,3084.4 L1550.4,3087.3 L1551.3,3090.2 L1552.1,3093.1 L1553,3095.9 L1553.8,3098.8 L1554.7,3101.7 L1555.6,3104.6 L1556.4,3107.4 L1557.3,3110.3 L1558.2,3113.2 L1559.1,3116.1 L1560,3118.9 L1560.9,3121.8 L1561.8,3124.7 L1562.7,3127.5 L1563.6,3130.4 L1564.6,3133.2 L1565.5,3136.1 L1566.5,3138.9 L1567.4,3141.8 L1568.4,3144.6 L1569.4,3147.5 L1570.4,3150.3 L1571.4,3153.1 L1572.5,3155.9 L1573.5,3158.7 L1574.6,3161.5 L1575.7,3164.3 L1576.8,3167.1 L1577.9,3169.8 L1579.1,3172.6 L1580.2,3175.3 L1581.4,3178.1 L1582.6,3180.8 L1583.9,3183.5 L1585.1,3186.2 L1586.4,3188.9 L1587.7,3191.6 L1589.1,3194.3 L1590.5,3196.9 L1591.9,3199.5 L1593.3,3202.2 L1594.7,3204.8 L1596.2,3207.4 L1597.7,3210 L1599.3,3212.5 L1600.9,3215.1 L1602.5,3217.6 L1604.1,3220.1 L1605.8,3222.6 L1607.6,3225.1 L1609.3,3227.5 L1611.1,3229.9 L1612.9,3232.4 L1614.8,3234.7 L1616.6,3237.1 L1618.5,3239.5 L1620.5,3241.8 L1622.4,3244.1 L1624.4,3246.4 L1626.5,3248.6 L1628.5,3250.8 L1630.6,3253 L1632.7,3255.2 L1634.9,3257.4 L1637,3259.5 L1639.2,3261.6 L1641.4,3263.6 L1643.7,3265.6 L1645.9,3267.6 L1648.2,3269.6 L1650.5,3271.5 L1652.9,3273.5 L1655.2,3275.3 L1657.6,3277.2 L1660,3279 L1662.4,3280.7 L1664.9,3282.5 L1667.3,3284.2 L1669.8,3285.8 L1672.3,3287.5 L1674.8,3289 L1677.4,3290.6 L1680,3292.1 L1682.5,3293.6 L1685.1,3295.1 L1687.7,3296.5 L1690.4,3297.9 L1693,3299.2 L1695.7,3300.5 L1698.4,3301.8 L1701.1,3303.1 L1703.8,3304.3 L1706.5,3305.4 L1709.2,3306.6 L1712,3307.7 L1714.7,3308.7 L1717.5,3309.8 L1720.3,3310.8 L1723.1,3311.7 L1725.9,3312.7 L1728.7,3313.6 L1731.5,3314.6 L1734.3,3315.5 L1737.2,3316.4 L1740,3317.3 L1742.8,3318.2 L1745.7,3319 L1748.5,3319.9 L1751.4,3320.8 L1754.3,3321.7 L1757.1,3322.6 L1760,3323.5 L1762.9,3324.5 L1765.7,3325.4 L1768.6,3326.4 L1771.5,3327.4 L1774.4,3328.4 L1777.2,3329.4 L1780.1,3330.4 L1783,3331.5 L1785.8,3332.6 L1788.7,3333.6 L1791.6,3334.7 L1794.4,3335.8 L1797.3,3336.8 L1800.2,3337.8 L1803.1,3338.9 L1805.9,3339.9 L1808.8,3340.8 L1811.7,3341.8 L1814.6,3342.7 L1817.4,3343.6 L1820.3,3344.4 L1823.2,3345.2 L1826.1,3346 L1829,3346.7 L1831.8,3347.3 L1834.7,3347.9 L1837.6,3348.4 L1840.5,3348.9 L1843.4,3349.3 L1846.3,3349.6 L1849.2,3349.9 L1852.1,3350.1 L1855,3350.2 L1857.9,3350.3 L1860.9,3350.4 L1863.8,3350.4 L1866.7,3350.4 L1869.6,3350.4 L1872.5,3350.3 L1875.5,3350.3 L1878.4,3350.2 L1881.3,3350.2 L1884.3,3350.1 L1887.2,3350.1 L1890.1,3350.1 L1893.1,3350.1 L1896,3350.2 L1898.9,3350.3 L1901.9,3350.4 L1904.8,3350.6 L1907.8,3350.8 L1910.7,3351.1 L1913.7,3351.4 L1916.6,3351.7 L1919.6,3352.1 L1922.6,3352.5 L1925.5,3352.9 L1928.5,3353.4 L1931.4,3353.9 L1934.4,3354.4 L1937.4,3354.9 L1940.3,3355.4 L1943.3,3356 L1946.3,3356.5 L1949.3,3357.1 L1952.2,3357.7 L1955.2,3358.3 L1958.2,3358.9 L1961.2,3359.5 L1964.1,3360.1 L1967.1,3360.7 L1970.1,3361.3 L1973.1,3361.8 L1976.1,3362.4 L1979,3363 L1982,3363.5 L1985,3364.1 L1988,3364.6 L1991,3365.1 L1994,3365.6 L1997,3366.1 L2000,3366.6 L2003,3367 L2005.9,3367.5 L2008.9,3367.9 L2011.9,3368.4 L2014.9,3368.8 L2017.9,3369.2 L2020.9,3369.6 L2023.9,3370 L2026.9,3370.4 L2029.9,3370.8 L2032.9,3371.1 L2035.9,3371.5 L2038.9,3371.8 L2041.9,3372.1 L2044.9,3372.5 L2047.9,3372.8 L2050.9,3373.1 L2053.8,3373.4 L2056.8,3373.7 L2059.8,3373.9 L2062.8,3374.2 L2065.8,3374.5 L2068.8,3374.7 L2071.8,3375 L2074.8,3375.2 L2077.8,3375.5 L2080.8,3375.7 L2083.8,3375.9 L2086.8,3376.1 L2089.8,3376.3 L2092.8,3376.5 L2095.8,3376.7 L2098.8,3376.9 L2101.7,3377.1 L2104.7,3377.2 L2107.7,3377.4 L2110.7,3377.6 L2113.7,3377.7 L2116.7,3377.9 L2119.7,3378 L2122.7,3378.1 L2125.6,3378.3 L2128.6,3378.4 L2131.6,3378.5 L2134.6,3378.6 L2137.6,3378.8 L2140.5,3378.9 L2143.5,3379 L2146.5,3379.1 L2149.5,3379.2 L2152.4,3379.3 L2155.4,3379.3 L2158.4,3379.4 L2161.3,3379.5 L2164.3,3379.6 L2167.3,3379.7 L2170.2,3379.7 L2173.2,3379.8 L2176.2,3379.9 L2177.6,3379.9" fill="none" stroke="#f00" stroke-width="4.7" stroke-linejoin="round"/>
<path d="M327,2235.9 L327,2238.9 L327.1,2241.9 L327.1,2244.8 L327.2,2247.8 L327.2,2250.8 L327.2,2253.8 L327.3,2256.8 L327.3,2259.8 L327.4,2262.8 L327.4,2265.8 L327.5,2268.8 L327.6,2271.8 L327.6,2274.8 L327.7,2277.8 L327.7,2280.8 L327.8,2283.8 L327.9,2286.8 L327.9,2289.8 L328,2292.8 L328.1,2295.8 L328.2,2298.8 L328.2,2301.8 L328.3,2304.8 L328.4,2307.8 L328.5,2310.8 L328.6,2313.8 L328.7,2316.8 L328.8,2319.8 L328.9,2322.8 L329,2325.8 L329.1,2328.8 L329.2,2331.8 L329.3,2334.8 L329.4,2337.8 L329.5,2340.8 L329.6,2343.8 L329.7,2346.8 L329.8,2349.8 L330,2352.8 L330.1,2355.8 L330.2,2358.8 L330.3,2361.8 L330.5,2364.8 L330.6,2367.8 L330.7,2370.8 L330.9,2373.8 L331,2376.8 L331.2,2379.8 L331.3,2382.8 L331.5,2385.8 L331.6,2388.8 L331.8,2391.8 L332,2394.8 L332.1,2397.8 L332.3,2400.8 L332.5,2403.8 L332.6,2406.8 L332.8,2409.7 L333,2412.7 L333.2,2415.7 L333.4,2418.7 L333.6,2421.7 L333.8,2424.7 L333.9,2427.7 L334.1,2430.7 L334.4,2433.7 L334.6,2436.7 L334.8,2439.7 L335,2442.7 L335.2,2445.7 L335.4,2448.7 L335.7,2451.7 L335.9,2454.7 L336.1,2457.7 L336.4,2460.6 L336.6,2463.6 L336.8,2466.6 L337.1,2469.6 L337.3,2472.6 L337.6,2475.6 L337.8,2478.6 L338.1,2481.6 L338.4,2484.6 L338.6,2487.6 L338.9,2490.5 L339.2,2493.5 L339.5,2496.5 L339.8,2499.5 L340,2502.5 L340.3,2505.5 L340.6,2508.5 L340.9,2511.4 L341.2,2514.4 L341.6,2517.4 L341.9,2520.4 L342.2,2523.4 L342.5,2526.4 L342.8,2529.3 L343.1,2532.3 L343.5,2535.3 L343.8,2538.3 L344.1,2541.3 L344.4,2544.2 L344.7,2547.2 L345,2550.2 L345.3,2553.2 L345.6,2556.1 L345.8,2559.1 L346.1,2562.1 L346.3,2565.1 L346.6,2568 L346.8,2571 L347,2574 L347.2,2577 L347.4,2579.9 L347.6,2582.9 L347.8,2585.9 L348,2588.8 L348.3,2591.8 L348.5,2594.8 L348.8,2597.7 L349.2,2600.7 L349.5,2603.7 L349.9,2606.6 L350.4,2609.6 L350.9,2612.5 L351.5,2615.5 L352.2,2618.5 L352.9,2621.4 L353.7,2624.4 L354.6,2627.3 L355.5,2630.3 L356.5,2633.3 L357.6,2636.2 L358.7,2639.2 L359.8,2642.1 L361,2645.1 L362.1,2648 L363.3,2650.9 L364.5,2653.7 L365.9,2656.2 L367.6,2658.2 L369.6,2659.6 L372.1,2660.2 L374.9,2660.2 L378,2659.7 L381.1,2659.1 L384.2,2658.3 L387.2,2657.5 L390.1,2656.6 L392.9,2655.6 L395.5,2654.3 L398,2652.8 L400.4,2651 L402.6,2648.8 L404.6,2646.4 L406.6,2644 L408.6,2641.7 L410.5,2639.7 L412.4,2637.8 L414.2,2635.7 L416,2633.4 L417.6,2630.7 L419.2,2627.9 L420.6,2625 L421.8,2622.1 L422.8,2619.2 L423.6,2616.4 L424.5,2613.6 L425.3,2610.9 L426.2,2608.2 L427.3,2605.6 L428.6,2602.9 L430.1,2600.4 L432,2597.8 L433.9,2595.2 L435.9,2592.7 L437.7,2590.2 L439.2,2587.6 L440.6,2585 L441.9,2582.4 L443,2579.8 L444.2,2577.1 L445.3,2574.3 L446.5,2571.6 L447.9,2568.9 L449.7,2566.4 L451.9,2564.3 L454.6,2562.5 L457.6,2561.2 L460.5,2560.5 L463.1,2560.4 L465.3,2560 L467.2,2558.8 L468.8,2556.5 L470.3,2553.7 L471.5,2550.5 L472.7,2547.3 L473.7,2544.3 L474.6,2541.3 L475.5,2538.4 L476.3,2535.5 L477,2532.7 L477.7,2529.8 L478.4,2527 L479,2524.1 L479.7,2521.2 L480.3,2518.4 L480.8,2515.5 L481.4,2512.6 L482,2509.7 L482.5,2506.8 L483.1,2503.9 L483.6,2501 L484.1,2498 L484.7,2495.1 L485.2,2492.1 L485.7,2489.2 L486.3,2486.2 L486.8,2483.2 L487.4,2480.2 L488,2477.1 L488.6,2474.1 L489.3,2471 L490,2468 L490.7,2465 L491.6,2462 L492.5,2459.1 L493.6,2456.3 L494.8,2453.6 L496.3,2451.1 L497.8,2448.7 L499.7,2446.5 L501.6,2444.6 L503.5,2443.9 L505,2445.1 L506.1,2447.8 L507,2451.2 L507.9,2454.9 L508.8,2458.3 L509.8,2461.2 L510.9,2463.8 L512.1,2466.3 L513.3,2468.8 L514.7,2471.5 L516.1,2474.2 L517.6,2477 L519.2,2479.7 L521.1,2482.3 L523.1,2484.7 L525.3,2486.7 L527.8,2488.3 L530.3,2489.5 L532.9,2490.1 L535.3,2490.2 L537.6,2489.6 L539.7,2488.6 L541.8,2487 L543.7,2485.1 L545.5,2482.8 L547.3,2480.1 L548.9,2477.2 L550.4,2474.1 L551.9,2470.8 L553.3,2467.3 L554.6,2463.8 L555.9,2460.2 L557.1,2456.6 L558.2,2453.2 L559.3,2449.8 L560.3,2446.5 L561.3,2443.4 L562.3,2440.5 L563.3,2437.6 L564.2,2434.8 L565.1,2432 L566,2429.3 L566.9,2426.6 L567.8,2424 L568.7,2421.3 L569.6,2418.6 L570.5,2415.9 L571.4,2413.1 L572.4,2410.3 L573.3,2407.6 L574.3,2404.8 L575.3,2401.9 L576.2,2399.1 L577.2,2396.2 L578.2,2393.4 L579.2,2390.5 L580.2,2387.6 L581.2,2384.7 L582.2,2381.8 L583.2,2379 L584.2,2376.1 L585.3,2373.2 L586.3,2370.3 L587.3,2367.4 L588.3,2364.5 L589.4,2361.6 L590.4,2358.7 L591.4,2355.9 L592.4,2353 L593.5,2350.1 L594.5,2347.3 L595.5,2344.4 L596.5,2341.6 L597.5,2338.8 L598.5,2335.9 L599.6,2333.1 L600.6,2330.3 L601.6,2327.4 L602.5,2324.6 L603.5,2321.8 L604.5,2319 L605.5,2316.2 L606.4,2313.3 L607.4,2310.5 L608.3,2307.7 L609.3,2304.9 L610.2,2302.1 L611.1,2299.3 L612.1,2296.5 L613,2293.7 L613.9,2290.9 L614.8,2288.1 L615.8,2285.3 L616.7,2282.5 L617.6,2279.7 L618.6,2276.9 L619.6,2274.1 L620.5,2271.4 L621.5,2268.6 L622.5,2265.8 L623.5,2263 L624.6,2260.3 L625.6,2257.5 L626.7,2254.7 L627.8,2252 L629,2249.2 L630.1,2246.5 L631.3,2243.7 L632.5,2241 L633.8,2238.2 L635,2235.5 L636.3,2232.8 L637.7,2230 L639.1,2227.3 L640.5,2224.6 L642,2221.9 L643.5,2219.2 L645,2216.5 L646.6,2213.8 L648.3,2211.1 L650,2208.4 L651.7,2205.7 L653.5,2203 L655.4,2200.3 L657.3,2197.7 L659.3,2195 L661.3,2192.5 L663.4,2190.1 L665.5,2187.9 L667.6,2185.9 L669.8,2184.3 L672.1,2182.9 L674.3,2182 L676.6,2181.5 L679,2181.5 L681.3,2182.1 L683.7,2183.1 L686,2184.6 L688.4,2186.5 L690.7,2188.5 L692.9,2190.8 L695.1,2193.1 L697.2,2195.4 L699.2,2197.8 L701.1,2200.2 L702.9,2202.7 L704.7,2205.1 L706.4,2207.6 L708,2210.2 L709.6,2212.8 L711.1,2215.4 L712.5,2218 L713.9,2220.6 L715.3,2223.3 L716.5,2226 L717.8,2228.7 L719,2231.4 L720.1,2234.2 L721.2,2237 L722.3,2239.7 L723.3,2242.6 L724.3,2245.4 L725.2,2248.2 L726.2,2251 L727.1,2253.9 L728,2256.8 L728.8,2259.6 L729.7,2262.5 L730.5,2265.4 L731.3,2268.3 L732.2,2271.2 L733,2274.1 L733.8,2277 L734.6,2279.9 L735.4,2282.8 L736.2,2285.7 L737,2288.6 L737.8,2291.5 L738.5,2294.4 L739.3,2297.3 L740.1,2300.2 L740.9,2303.1 L741.6,2306 L742.4,2308.9 L743.2,2311.8 L743.9,2314.8 L744.7,2317.7 L745.4,2320.6 L746.2,2323.5 L746.9,2326.4 L747.7,2329.3 L748.4,2332.2 L749.1,2335.2 L749.9,2338.1 L750.6,2341 L751.3,2343.9 L752,2346.8 L752.8,2349.8 L753.5,2352.7 L754.2,2355.6 L754.9,2358.5 L755.6,2361.5 L756.3,2364.4 L756.9,2367.3 L757.6,2370.2 L758.3,2373.2 L759,2376.1 L759.6,2379 L760.3,2382 L761,2384.9 L761.6,2387.8 L762.3,2390.7 L762.9,2393.7 L763.6,2396.6 L764.2,2399.5 L764.8,2402.5 L765.4,2405.4 L766.1,2408.3 L766.7,2411.3 L767.3,2414.2 L767.9,2417.1 L768.5,2420.1 L769.1,2423 L769.7,2426 L770.3,2428.9 L770.9,2431.8 L771.4,2434.8 L772,2437.7 L772.6,2440.6 L773.1,2443.6 L773.7,2446.5 L774.2,2449.4 L774.8,2452.4 L775.3,2455.3 L775.9,2458.3 L776.4,2461.2 L777,2464.1 L777.5,2467.1 L778,2470 L778.5,2473 L779,2475.9 L779.6,2478.8 L780.1,2481.8 L780.6,2484.7 L781.1,2487.7 L781.6,2490.6 L782.1,2493.5 L782.6,2496.5 L783.1,2499.4 L783.6,2502.4 L784.1,2505.3 L784.6,2508.2 L785.1,2511.2 L785.6,2514.1 L786,2517.1 L786.5,2520 L787,2523 L787.5,2525.9 L788,2528.9 L788.5,2531.8 L788.9,2534.7 L789.4,2537.7 L789.9,2540.6 L790.4,2543.6 L790.9,2546.5 L791.3,2549.5 L791.8,2552.4 L792.3,2555.4 L792.8,2558.3 L793.2,2561.3 L793.7,2564.2 L794.2,2567.2 L794.7,2570.1 L795.2,2573.1 L795.7,2576 L796.1,2579 L796.6,2581.9 L797.1,2584.9 L797.6,2587.8 L798.1,2590.8 L798.6,2593.7 L799.1,2596.7 L799.6,2599.6 L800.1,2602.6 L800.6,2605.5 L801.1,2608.5 L801.6,2611.4 L802.1,2614.4 L802.6,2617.3 L803.1,2620.3 L803.7,2623.2 L804.2,2626.2 L804.7,2629.2 L805.2,2632.1 L805.8,2635.1 L806.3,2638 L806.8,2641 L807.4,2643.9 L807.9,2646.9 L808.5,2649.9 L809,2652.8 L809.6,2655.8 L810.2,2658.7 L810.7,2661.7 L811.3,2664.7 L811.9,2667.6 L812.5,2670.6 L813.1,2673.5 L813.7,2676.5 L814.3,2679.5 L814.9,2682.4 L815.5,2685.4 L816.1,2688.3 L816.7,2691.3 L817.4,2694.3 L818,2697.2 L818.7,2700.2 L819.3,2703.2 L820,2706.1 L820.6,2709.1 L821.3,2712.1 L822,2715 L822.7,2718 L823.4,2721 L824.1,2723.9 L824.8,2726.9 L825.5,2729.9 L826.2,2732.8 L827,2735.8 L827.7,2738.8 L828.4,2741.7 L829.2,2744.7 L830,2747.7 L830.8,2750.6 L831.5,2753.6 L832.3,2756.5 L833.2,2759.5 L834,2762.4 L834.8,2765.3 L835.7,2768.3 L836.5,2771.2 L837.4,2774.1 L838.3,2777 L839.2,2779.9 L840.1,2782.8 L841,2785.7 L841.9,2788.6 L842.9,2791.5 L843.8,2794.3 L844.8,2797.2 L845.8,2800 L846.8,2802.8 L847.8,2805.6 L848.8,2808.4 L849.9,2811.2 L851,2814 L852,2816.8 L853.1,2819.5 L854.3,2822.3 L855.4,2825 L856.6,2827.7 L857.7,2830.4 L858.9,2833.1 L860.1,2835.7 L861.3,2838.4 L862.6,2841 L863.8,2843.6 L865.1,2846.2 L866.4,2848.7 L867.7,2851.3 L869.1,2853.8 L870.5,2856.3 L871.8,2858.8 L873.3,2861.3 L874.8,2863.7 L876.3,2866.1 L877.9,2868.5 L879.5,2870.9 L881.2,2873.3 L883,2875.6 L884.9,2877.9 L886.9,2880.2 L889,2882.4 L891.2,2884.7 L893.5,2886.8 L895.9,2888.9 L898.3,2890.9 L900.8,2892.9 L903.4,2894.7 L906.1,2896.3 L908.7,2897.8 L911.5,2899.2 L914.2,2900.4 L917,2901.3 L919.8,2902.1 L922.6,2902.6 L925.4,2902.8 L928.3,2902.8 L931,2902.5 L933.8,2902 L936.5,2901.1 L939.2,2899.9 L941.9,2898.5 L944.6,2897 L947.2,2895.4 L949.7,2893.6 L952.3,2891.8 L954.7,2890 L957.2,2888.2 L959.6,2886.3 L962,2884.4 L964.3,2882.5 L966.6,2880.5 L968.8,2878.5 L971,2876.5 L973.1,2874.4 L975.2,2872.3 L977.3,2870.2 L979.3,2868 L981.3,2865.8 L983.2,2863.6 L985.1,2861.4 L987,2859.1 L988.9,2856.8 L990.7,2854.5 L992.5,2852.2 L994.3,2849.8 L996.1,2847.4 L997.8,2845 L999.6,2842.6 L1001.3,2840.2 L1003,2837.8 L1004.7,2835.3 L1006.4,2832.8 L1008.1,2830.4 L1009.8,2827.9 L1011.4,2825.4 L1013.1,2822.9 L1014.7,2820.3 L1016.4,2817.8 L1018,2815.3 L1019.6,2812.8 L1021.3,2810.2 L1022.9,2807.7 L1024.5,2805.2 L1026.1,2802.6 L1027.7,2800.1 L1029.4,2797.5 L1031,2795 L1032.6,2792.4 L1034.2,2789.9 L1035.8,2787.3 L1037.4,2784.8 L1038.9,2782.2 L1040.5,2779.7 L1042.1,2777.1 L1043.7,2774.6 L1045.3,2772 L1046.8,2769.4 L1048.4,2766.9 L1050,2764.3 L1051.5,2761.7 L1053.1,2759.2 L1054.6,2756.6 L1056.2,2754 L1057.7,2751.4 L1059.3,2748.9 L1060.8,2746.3 L1062.3,2743.7 L1063.9,2741.1 L1065.4,2738.5 L1066.9,2735.9 L1068.4,2733.3 L1069.9,2730.7 L1071.4,2728.1 L1073,2725.5 L1074.4,2722.9 L1075.9,2720.3 L1077.4,2717.7 L1078.9,2715.1 L1080.4,2712.5 L1081.9,2709.9 L1083.3,2707.3 L1084.8,2704.7 L1086.2,2702.1 L1087.7,2699.4 L1089.2,2696.8 L1090.6,2694.2 L1092,2691.6 L1093.5,2688.9 L1094.9,2686.3 L1096.3,2683.7 L1097.7,2681 L1099.1,2678.4 L1100.6,2675.7 L1102,2673.1 L1103.4,2670.4 L1104.7,2667.8 L1106.1,2665.1 L1107.5,2662.5 L1108.9,2659.8 L1110.3,2657.2 L1111.7,2654.5 L1113,2651.9 L1114.4,2649.2 L1115.8,2646.5 L1117.2,2643.9 L1118.5,2641.2 L1119.9,2638.6 L1121.3,2635.9 L1122.7,2633.3 L1124,2630.6 L1125.4,2627.9 L1126.8,2625.3 L1128.2,2622.6 L1129.6,2620 L1131,2617.3 L1132.4,2614.7 L1133.8,2612.1 L1135.2,2609.4 L1136.6,2606.8 L1138,2604.2 L1139.4,2601.5 L1140.9,2598.9 L1142.3,2596.3 L1143.7,2593.7 L1145.2,2591.1 L1146.7,2588.4 L1148.1,2585.8 L1149.6,2583.2 L1151.1,2580.6 L1152.6,2578.1 L1154.1,2575.5 L1155.6,2572.9 L1157.2,2570.3 L1158.7,2567.8 L1160.3,2565.2 L1161.8,2562.6 L1163.4,2560.1 L1165,2557.6 L1166.6,2555 L1168.3,2552.5 L1169.9,2550 L1171.6,2547.5 L1173.2,2545 L1174.9,2542.5 L1176.6,2540 L1178.4,2537.5 L1180.1,2535.1 L1181.8,2532.6 L1183.6,2530.2 L1185.4,2527.7 L1187.2,2525.3 L1189.1,2522.9 L1190.9,2520.5 L1192.8,2518.1 L1194.7,2515.7 L1196.6,2513.3 L1198.5,2511 L1200.5,2508.6 L1202.5,2506.3 L1204.5,2504 L1206.5,2501.7 L1208.6,2499.5 L1210.6,2497.3 L1212.7,2495.1 L1214.9,2493 L1217,2490.8 L1219.2,2488.8 L1221.4,2486.7 L1223.7,2484.7 L1225.9,2482.8 L1228.2,2480.9 L1230.5,2479 L1232.9,2477.2 L1235.2,2475.5 L1237.7,2473.8 L1240.1,2472.1 L1242.6,2470.5 L1245.1,2469 L1247.6,2467.6 L1250.2,2466.2 L1252.8,2464.9 L1255.4,2463.6 L1258,2462.4 L1260.7,2461.3 L1263.5,2460.3 L1266.2,2459.4 L1269,2458.5 L1271.9,2457.7 L1274.8,2457 L1277.7,2456.4 L1280.6,2455.9 L1283.6,2455.5 L1286.6,2455.1 L1289.7,2454.9 L1292.8,2454.8 L1295.9,2454.7 L1299,2454.8 L1302.2,2454.9 L1305.3,2455.2 L1308.4,2455.5 L1311.6,2455.9 L1314.7,2456.4 L1317.7,2457 L1320.8,2457.7 L1323.8,2458.5 L1326.7,2459.4 L1329.6,2460.3 L1332.4,2461.4 L1335.2,2462.5 L1337.8,2463.7 L1340.4,2465 L1343,2466.4 L1345.5,2467.9 L1347.9,2469.4 L1350.2,2471 L1352.5,2472.8 L1354.7,2474.5 L1356.9,2476.4 L1359,2478.4 L1361,2480.4 L1363.1,2482.5 L1365,2484.7 L1366.9,2486.9 L1368.8,2489.2 L1370.6,2491.6 L1372.4,2494 L1374.2,2496.5 L1375.9,2499.1 L1377.5,2501.7 L1379.2,2504.3 L1380.7,2507 L1382.3,2509.7 L1383.8,2512.4 L1385.3,2515.2 L1386.7,2517.9 L1388.1,2520.7 L1389.5,2523.6 L1390.8,2526.4 L1392.1,2529.2 L1393.4,2532 L1394.6,2534.8 L1395.8,2537.6 L1397,2540.4 L1398.2,2543.2 L1399.3,2546 L1400.4,2548.8 L1401.5,2551.6 L1402.5,2554.4 L1403.6,2557.2 L1404.6,2560 L1405.6,2562.8 L1406.5,2565.6 L1407.5,2568.4 L1408.4,2571.1 L1409.3,2573.9 L1410.2,2576.7 L1411.1,2579.5 L1412,2582.3 L1412.9,2585.1 L1413.7,2587.9 L1414.5,2590.8 L1415.3,2593.6 L1416.2,2596.4 L1417,2599.3 L1417.8,2602.1 L1418.5,2605 L1419.3,2607.8 L1420.1,2610.7 L1420.8,2613.6 L1421.6,2616.5 L1422.4,2619.4 L1423.1,2622.3 L1423.8,2625.2 L1424.6,2628.1 L1425.3,2631 L1426,2633.9 L1426.8,2636.8 L1427.5,2639.8 L1428.2,2642.7 L1428.9,2645.6 L1429.6,2648.6 L1430.3,2651.5 L1431,2654.4 L1431.7,2657.4 L1432.4,2660.3 L1433.1,2663.3 L1433.8,2666.2 L1434.5,2669.1 L1435.3,2672.1 L1436,2675 L1436.7,2678 L1437.4,2680.9 L1438.1,2683.8 L1438.8,2686.8 L1439.5,2689.7 L1440.2,2692.7 L1440.9,2695.6 L1441.6,2698.5 L1442.3,2701.4 L1443,2704.4 L1443.8,2707.3 L1444.5,2710.2 L1445.2,2713.2 L1445.9,2716.1 L1446.6,2719 L1447.3,2721.9 L1448.1,2724.8 L1448.8,2727.8 L1449.5,2730.7 L1450.2,2733.6 L1450.9,2736.5 L1451.6,2739.4 L1452.4,2742.3 L1453.1,2745.3 L1453.8,2748.2 L1454.5,2751.1 L1455.3,2754 L1456,2756.9 L1456.7,2759.8 L1457.4,2762.7 L1458.1,2765.6 L1458.9,2768.5 L1459.6,2771.4 L1460.3,2774.3 L1461,2777.2 L1461.8,2780.1 L1462.5,2783.1 L1463.2,2786 L1463.9,2788.9 L1464.6,2791.8 L1465.4,2794.7 L1466.1,2797.6 L1466.8,2800.5 L1467.5,2803.4 L1468.3,2806.3 L1469,2809.2 L1469.7,2812.1 L1470.4,2815 L1471.1,2817.9 L1471.9,2820.7 L1472.6,2823.6 L1473.3,2826.5 L1474,2829.4 L1474.7,2832.3 L1475.4,2835.2 L1476.2,2838.1 L1476.9,2841 L1477.6,2843.9 L1478.3,2846.8 L1479,2849.7 L1479.7,2852.6 L1480.4,2855.5 L1481.1,2858.4 L1481.9,2861.3 L1482.6,2864.2 L1483.3,2867.1 L1484,2870 L1484.7,2872.9 L1485.4,2875.8 L1486.1,2878.7 L1486.8,2881.6 L1487.5,2884.4 L1488.2,2887.3 L1488.9,2890.2 L1489.6,2893.1 L1490.3,2896 L1491,2898.9 L1491.7,2901.8 L1492.4,2904.7 L1493.1,2907.6 L1493.8,2910.5 L1494.5,2913.4 L1495.2,2916.3 L1495.9,2919.2 L1496.6,2922.1 L1497.2,2925 L1497.9,2927.9 L1498.6,2930.8 L1499.3,2933.7 L1500,2936.6 L1500.7,2939.5 L1501.4,2942.4 L1502.1,2945.3 L1502.8,2948.2 L1503.5,2951.1 L1504.2,2954.1 L1504.9,2957 L1505.6,2959.9 L1506.3,2962.8 L1507,2965.7 L1507.7,2968.6 L1508.4,2971.5 L1509.1,2974.4 L1509.8,2977.3 L1510.5,2980.2 L1511.2,2983.2 L1511.9,2986.1 L1512.6,2989 L1513.3,2991.9 L1514,2994.8 L1514.8,2997.8 L1515.5,3000.7 L1516.2,3003.6 L1516.9,3006.5 L1517.6,3009.4 L1518.3,3012.4 L1519,3015.3 L1519.8,3018.2 L1520.5,3021.2 L1521.2,3024.1 L1521.9,3027 L1522.7,3029.9 L1523.4,3032.9 L1524.1,3035.8 L1524.8,3038.8 L1525.6,3041.7 L1526.3,3044.6 L1527,3047.6 L1527.8,3050.5 L1528.5,3053.5 L1529.3,3056.4 L1530,3059.4 L1530.8,3062.3 L1531.5,3065.3 L1532.3,3068.2 L1533,3071.2 L1533.8,3074.1 L1534.6,3077.1 L1535.4,3080 L1536.1,3082.9 L1536.9,3085.9 L1537.7,3088.8 L1538.5,3091.8 L1539.3,3094.7 L1540.2,3097.7 L1541,3100.6 L1541.8,3103.5 L1542.7,3106.4 L1543.5,3109.4 L1544.4,3112.3 L1545.2,3115.2 L1546.1,3118.1 L1547,3121 L1547.9,3123.9 L1548.9,3126.8 L1549.8,3129.7 L1550.7,3132.5 L1551.7,3135.4 L1552.7,3138.3 L1553.6,3141.1 L1554.6,3144 L1555.7,3146.8 L1556.7,3149.6 L1557.7,3152.4 L1558.8,3155.3 L1559.9,3158.1 L1561,3160.8 L1562.1,3163.6 L1563.2,3166.4 L1564.4,3169.2 L1565.6,3171.9 L1566.7,3174.6 L1568,3177.4 L1569.2,3180.1 L1570.4,3182.8 L1571.7,3185.4 L1573,3188.1 L1574.3,3190.8 L1575.6,3193.4 L1577,3196 L1578.4,3198.7 L1579.8,3201.3 L1581.2,3203.8 L1582.7,3206.4 L1584.1,3209 L1585.6,3211.5 L1587.2,3214 L1588.7,3216.5 L1590.3,3219 L1591.9,3221.5 L1593.5,3223.9 L1595.2,3226.4 L1596.9,3228.8 L1598.6,3231.2 L1600.3,3233.6 L1602.1,3235.9 L1603.9,3238.3 L1605.7,3240.6 L1607.6,3242.9 L1609.5,3245.1 L1611.4,3247.4 L1613.4,3249.6 L1615.4,3251.8 L1617.4,3254 L1619.4,3256.2 L1621.5,3258.3 L1623.6,3260.5 L1625.8,3262.6 L1628,3264.6 L1630.2,3266.7 L1632.4,3268.7 L1634.6,3270.7 L1636.9,3272.7 L1639.2,3274.6 L1641.6,3276.5 L1643.9,3278.4 L1646.3,3280.3 L1648.7,3282.1 L1651.2,3283.9 L1653.6,3285.7 L1656.1,3287.5 L1658.6,3289.2 L1661.1,3290.9 L1663.7,3292.5 L1666.3,3294.1 L1668.8,3295.7 L1671.4,3297.3 L1674.1,3298.8 L1676.7,3300.3 L1679.3,3301.8 L1682,3303.2 L1684.7,3304.6 L1687.4,3306 L1690.1,3307.3 L1692.9,3308.6 L1695.6,3309.8 L1698.4,3311 L1701.1,3312.2 L1703.9,3313.4 L1706.7,3314.5 L1709.5,3315.5 L1712.3,3316.6 L1715.1,3317.5 L1717.9,3318.5 L1720.8,3319.4 L1723.6,3320.3 L1726.5,3321.1 L1729.3,3321.9 L1732.2,3322.6 L1735,3323.3 L1737.9,3324 L1740.8,3324.7 L1743.7,3325.3 L1746.5,3325.9 L1749.4,3326.5 L1752.3,3327 L1755.2,3327.6 L1758.1,3328.1 L1761,3328.7 L1763.9,3329.3 L1766.8,3329.8 L1769.7,3330.4 L1772.7,3331 L1775.6,3331.6 L1778.5,3332.2 L1781.4,3332.9 L1784.3,3333.6 L1787.3,3334.3 L1790.2,3335.1 L1793.1,3335.9 L1796.1,3336.8 L1799,3337.7 L1801.9,3338.6 L1804.9,3339.7 L1807.8,3340.7 L1810.7,3341.7 L1813.7,3342.7 L1816.6,3343.7 L1819.6,3344.6 L1822.5,3345.5 L1825.4,3346.3 L1828.4,3347 L1831.3,3347.6 L1834.3,3348 L1837.2,3348.3 L1840.2,3348.5 L1843.1,3348.4 L1846.1,3348.2 L1849,3347.9 L1852,3347.4 L1854.9,3346.9 L1857.9,3346.3 L1860.8,3345.7 L1863.8,3345.2 L1866.7,3344.7 L1869.7,3344.3 L1872.6,3344.1 L1875.6,3344 L1878.5,3344.1 L1881.5,3344.3 L1884.4,3344.7 L1887.4,3345.2 L1890.3,3345.8 L1893.3,3346.4 L1896.2,3347.1 L1899.2,3347.9 L1902.2,3348.6 L1905.1,3349.3 L1908.1,3350 L1911,3350.6 L1914,3351.3 L1916.9,3351.9 L1919.9,3352.6 L1922.8,3353.2 L1925.8,3353.8 L1928.7,3354.4 L1931.7,3354.9 L1934.7,3355.5 L1937.6,3356 L1940.6,3356.6 L1943.5,3357.1 L1946.5,3357.6 L1949.4,3358.1 L1952.4,3358.6 L1955.4,3359.1 L1958.3,3359.6 L1961.3,3360.1 L1964.2,3360.5 L1967.2,3361 L1970.1,3361.4 L1973.1,3361.9 L1976.1,3362.3 L1979,3362.7 L1982,3363.1 L1984.9,3363.5 L1987.9,3363.9 L1990.9,3364.4 L1993.8,3364.7 L1996.8,3365.1 L1999.7,3365.5 L2002.7,3365.9 L2005.7,3366.3 L2008.6,3366.7 L2011.6,3367.1 L2014.6,3367.5 L2017.5,3367.8 L2020.5,3368.2 L2023.5,3368.6 L2026.4,3369 L2029.4,3369.4 L2032.4,3369.7 L2035.3,3370.1 L2038.3,3370.5 L2041.3,3370.9 L2044.2,3371.3 L2047.2,3371.6 L2050.2,3372 L2053.1,3372.4 L2056.1,3372.7 L2059.1,3373.1 L2062.1,3373.5 L2065,3373.8 L2068,3374.2 L2071,3374.5 L2074,3374.9 L2077,3375.2 L2079.9,3375.5 L2082.9,3375.9 L2085.9,3376.2 L2088.9,3376.5 L2091.9,3376.8 L2094.8,3377.1 L2097.8,3377.4 L2100.8,3377.6 L2103.8,3377.9 L2106.8,3378.2 L2109.8,3378.4 L2112.8,3378.6 L2115.7,3378.8 L2118.7,3379 L2121.7,3379.2 L2124.7,3379.4 L2127.7,3379.6 L2130.7,3379.7 L2133.7,3379.9 L2136.7,3380 L2139.7,3380.1 L2142.7,3380.2 L2145.7,3380.3 L2148.7,3380.3 L2151.7,3380.4 L2154.7,3380.4 L2157.7,3380.4 L2160.7,3380.4 L2163.7,3380.4 L2166.7,3380.3 L2169.7,3380.2 L2172.7,3380.1 L2175.7,3380 L2177.8,3379.9" fill="none" stroke="#00f" stroke-width="4.7" stroke-linejoin="round"/>
<path d="M1369.6,2897.3 L1371.7,2911.3 L1373.5,2923.6 L1376.3,2935.9 L1378.1,2952.4 L1383.3,2942.9 L1384.4,2930.6 L1385.4,2918.4 L1386.5,2904.3 L1387.9,2892.1 L1388.9,2878 L1390,2864 L1391,2851.7 L1392.1,2837.7 L1393.5,2823.7 L1394.5,2811.4 L1395.6,2797.4 L1396.7,2783.3 L1398.1,2769.3 L1399.1,2756.3 L1402.3,2730.1 L1403.8,2689.9 L1405.4,2649.7 L1405.9,2617.1 L1406.6,2596.4 L1407.1,2583.7 L1407.9,2558.2 L1408.7,2544.1 L1409.2,2530.1 L1409.7,2517.3 L1409.9,2503.3 L1410.2,2489.3 L1410.5,2476.5 L1410.7,2462.5 L1411,2448.5 L1411.5,2435.7 L1411.7,2423 L1412.2,2410.2 L1412.8,2396.2 L1413,2383.4 L1413.3,2369.4 L1413.5,2356.6 L1413.8,2343.9 L1414,2331.1 L1414.3,2317.1 L1414.8,2304.3 L1415.6,2291.6 L1416.3,2277.6 L1417.3,2264.8 L1418.1,2252 L1418.6,2239.3 L1419.4,2226.5 L1419.9,2213.8 L1420.7,2201 L1421.7,2188.3 L1422.4,2180.6 L1423.7,2194.6 L1425.5,2199.7 L1430.1,2208.7 L1435.2,2224 L1439,2234.2 L1442.3,2259.7 L1443.4,2275 L1444.1,2287.8 L1444.9,2300.5 L1445.4,2313.3 L1445.9,2326 L1446.4,2340.1 L1446.9,2354.1 L1447.4,2366.8 L1448,2387.2 L1449,2412.8 L1449.5,2439.5 L1450,2466.3 L1450.5,2479.1 L1451,2491.8 L1451.3,2505.9 L1451.5,2519.9 L1451.8,2532.7 L1452,2546.7 L1452.3,2560.7 L1452.6,2573.5 L1453.1,2587.5 L1453.3,2600.3 L1453.6,2614.3 L1455.5,2632.5 L1457.4,2659.3 L1458.4,2686.1 L1460.3,2712.9 L1461.2,2739.7 L1462.2,2750 L1464,2771 L1465.7,2795.6 L1467.5,2820.2 L1469.3,2844.7 L1470.3,2869.3 L1471.7,2893.8 L1472.8,2918.4 L1474.2,2942.9 L1475.6,2967.5 L1477,2992 L1478,3016.6 L1479.1,3041.1 L1480.1,3065.7 L1481.5,3086.7 L1482.6,3111.3 L1484,3132.3 L1485.7,3153.4 L1487.5,3167.4 L1489.6,3181.4 L1492.1,3195.5 L1494.5,3207.7 L1497.3,3220 L1500.8,3234 L1505,3248.1 L1509.6,3260.3 L1514.9,3270.9 L1521.9,3279.6 L1528.9,3286.7 L1537.7,3291.9 L1546.4,3294.4 L1553.4,3293.7 L1562.2,3285.6 L1572.7,3284.9 L1578,3276.1 L1583.3,3283.1 L1592,3291.9 L1599,3300.7 L1606.1,3313 L1613.1,3320 L1623.6,3318.2 L1634.1,3311.2 L1641.1,3310.2 L1648.1,3311.2 L1655.2,3320 L1662.2,3330.5 L1669.2,3339.3 L1679.7,3344.5 L1690.2,3346.3 L1700.8,3348 L1711.3,3351.5 L1718.3,3350.5 L1728.8,3353.3 L1739.3,3349.8 L1749.9,3351.5 L1760.4,3348 L1770.9,3339.3 L1781.4,3336.5 L1788.4,3341 L1799,3348 L1809.5,3350.8 L1823.5,3350.5 L1834,3346.3 L1848.1,3347.3 L1858.6,3348.7 L1869.1,3351.5 L1879.6,3356.8 L1890.2,3356.8 L1900,3355.1 L1911.2,3362 L1922.7,3360.2 L1931.6,3364.5 L1941.8,3363.3 L1952,3364.5 L1964.8,3368.4 L1971.2,3366.3 L1980.1,3368.9 L1990.3,3369.6 L2000.5,3367.1 L2008.2,3372.2 L2018.4,3371.4 L2028.6,3369.6 L2038.8,3373.5 L2049,3374.7 L2059.2,3373.5 L2066.8,3376 L2074.5,3375.5 L2082.1,3374.7 L2088.5,3374.7" fill="none" stroke="#000" stroke-width="7" stroke-linecap="round" stroke-linejoin="round" stroke-dasharray="0.01 13.3"/>
<path d="M1343.9,2318.4 L1344.6,2332.4 L1345.4,2346.4 L1345.9,2360.5 L1346.4,2374.5 L1346.9,2387.2 L1347.4,2401.3 L1348.5,2414 L1349.5,2428.1 L1350.5,2440.8 L1351.5,2453.6 L1352.6,2467.6 L1353.6,2480.4 L1354.6,2494.4 L1356.1,2507.1 L1358.2,2517.3 L1361.2,2525 L1363.8,2530.1 L1365.8,2535.2 L1366.8,2525 L1368.9,2517.3 L1372.2,2513.5 L1374.7,2505.9 L1376,2481.6 L1377,2468.9 L1378.3,2454.8 L1379.1,2440.8 L1380.4,2428.1 L1381.1,2415.3 L1382.1,2402.6 L1383.2,2388.5 L1384.2,2374.5 L1385.2,2361.7 L1386.2,2347.7 L1387.2,2333.7 L1388,2323.5 L1386.7,2315.8 L1389.3,2305.6 L1390.1,2292.9 L1391.3,2280.1 L1392.3,2269.9 L1393.9,2257.1 L1395.4,2244.4 L1396.4,2236.7 L1398.2,2231.6 L1397.7,2225.3 L1400.8,2220.2 L1401.5,2209.9 L1403.3,2197.2 L1408.4,2192.1 L1409.2,2185.7 L1411.2,2197.2 L1412.2,2204.8 L1411.7,2211.2 L1412.8,2218.9 L1414.3,2231.6 L1416.1,2244.4 L1417.3,2257.1 L1418.6,2269.9 L1419.9,2283.9 L1421.4,2296.7 L1423,2310.7 L1423.7,2324.7 L1424.2,2338.8 L1425,2351.5 L1426.3,2365.6 L1427.6,2378.3 L1428.3,2391.1 L1429.3,2405.1 L1430.1,2417.9 L1430.9,2431.9 L1431.9,2444.6 L1432.9,2457.4 L1433.9,2471.4 L1434.9,2484.2 L1436,2498.2 L1437,2511 L1438,2525 L1439.3,2537.8 L1440.3,2551.8 L1441.6,2564.5 L1442.9,2578.6 L1444.1,2591.3 L1445.9,2604.1 L1447.4,2617.1 L1445.9,2628.7 L1448.8,2657.4 L1451.7,2684.2 L1452.6,2711 L1454.5,2737.8 L1455.2,2750 L1457,2771 L1458.7,2792.1 L1460.5,2813.1 L1462.2,2834.2 L1464,2855.2 L1465.7,2876.3 L1468.2,2897.3 L1470.3,2918.4 L1472.8,2939.4 L1474.5,2960.5 L1476.3,2981.5 L1478,3002.5 L1480.5,3023.6 L1485,3037.6 L1490.3,3051.6 L1495.6,3062.2 L1500.1,3070.9 L1502.6,3079 L1507.8,3079 L1514.9,3076.2 L1515.6,3088.5 L1518.4,3078 L1525.4,3076.2 L1530.6,3065.7 L1532.4,3055.2 L1534.1,3044.6 L1535.9,3034.1 L1539.4,3023.6 L1542.2,3009.6 L1544.7,2995.5 L1546.4,2981.5 L1549.2,2969.2 L1552.4,2955.2 L1555.2,2965.7 L1560.5,2978 L1563.3,2992 L1565.7,3009.6 L1567.5,3023.6 L1569.2,3037.6 L1571,3051.6 L1572,3065.7 L1573.4,3079.7 L1574.5,3093.7 L1576.2,3109.5 L1578,3123.6 L1579,3135.8 L1580.8,3149.9 L1583.3,3162.1 L1586.8,3170.9 L1590.3,3177.9 L1593.8,3184.9 L1599,3177.9 L1602.5,3163.9 L1606.1,3151.6 L1609.6,3139.3 L1613.1,3130.6 L1618.3,3113 L1621.8,3121.8 L1627.1,3130.6 L1630.6,3142.8 L1633.4,3156.9 L1635.9,3170.9 L1637.6,3184.9 L1639.4,3199 L1641.1,3213 L1642.9,3225.3 L1644.6,3239.3 L1646.4,3251.6 L1648.1,3265.6 L1650.9,3277.9 L1653.4,3291.9 L1656.9,3304.2 L1662.2,3314.7 L1669.2,3321.7 L1676.2,3325.2 L1683.2,3321.7 L1692,3328.7 L1700.8,3328.7 L1714.8,3327 L1723.6,3320 L1728.8,3311.2 L1732.3,3300.7 L1734.8,3286.7 L1735.8,3274.4 L1736.9,3260.3 L1737.9,3248.1 L1739.3,3234 L1741.1,3220 L1742.8,3206 L1745.7,3202.5 L1748.1,3188.4 L1749.9,3174.4 L1752.7,3160.4 L1757.9,3153.4 L1762.1,3167.4 L1765.6,3181.4 L1769.2,3195.5 L1770.9,3206 L1773.4,3220 L1775.1,3232.3 L1776.9,3244.6 L1779.7,3258.6 L1783.2,3272.6 L1786.7,3279.6 L1792,3286.7 L1797.2,3293.7 L1802.5,3291.9 L1806,3297.2 L1813,3302.4 L1820,3311.2 L1827,3318.2 L1834,3328.7 L1841.1,3330.5 L1848.1,3332.3 L1855.1,3335.8 L1862.1,3334 L1869.1,3337.5 L1876.1,3342.8 L1883.1,3339.3 L1893.7,3342.8 L1901,3345.4 L1916.3,3339 L1926.5,3339.8 L1936.7,3342.9 L1952,3342.9 L1964.8,3344.1 L1977.6,3342.9 L1987.8,3339 L1998,3346.7 L2015.8,3350.5 L2028.6,3350.5 L2036.2,3358.2 L2049,3355.6 L2061.7,3363.3 L2079.6,3368.4 L2094.9,3369.6 L2108.9,3365.8 L2117.9,3370.9 L2128.1,3372.2 L2138.3,3376 L2151,3377.3 L2166.3,3373.5 L2176.5,3376" fill="none" stroke="#f00" stroke-width="7" stroke-linecap="round" stroke-linejoin="round" stroke-dasharray="0.01 13.3"/>
<path d="M1362.5,2245.7 L1363.3,2259.7 L1363.8,2273.7 L1364.3,2286.5 L1364.8,2300.5 L1365.3,2313.3 L1365.8,2326 L1366.3,2340.1 L1367.1,2354.1 L1367.9,2366.8 L1368.9,2379.6 L1369.9,2393.6 L1370.9,2406.4 L1371.7,2420.4 L1372.2,2433.2 L1373,2445.9 L1374,2459.9 L1375,2474 L1376,2486.7 L1377.3,2500.8 L1379.6,2512.2 L1382.1,2519.9 L1385.5,2521.2 L1386.7,2517.3 L1388,2505.9 L1389.8,2496.9 L1391.8,2484.2 L1393.1,2471.4 L1394.4,2456.1 L1395.7,2444.6 L1396.9,2431.9 L1398.2,2417.9 L1399,2403.8 L1400,2391.1 L1400.8,2377 L1402,2364.3 L1403.3,2351.5 L1404.6,2338.8 L1405.4,2324.7 L1407.1,2312 L1408.4,2298 L1409.7,2283.9 L1410.5,2269.9 L1411.7,2257.1 L1412.8,2244.4 L1414.3,2231.6 L1416.1,2217.6 L1417.9,2204.8 L1419.9,2197.2 L1421.9,2188.3 L1422.7,2183.2 L1425,2194.6 L1427,2199.7 L1428.8,2204.8 L1430.6,2211.2 L1432.7,2224 L1435.2,2226.5 L1436.5,2238 L1438.3,2252 L1439.8,2264.8 L1441.1,2277.6 L1441.8,2291.6 L1442.9,2304.3 L1444.4,2318.4 L1445.4,2332.4 L1446.2,2346.4 L1446.9,2359.2 L1448,2373.2 L1449,2387.2 L1450,2400 L1450.5,2412.8 L1451.3,2426.8 L1452,2439.5 L1452.6,2453.6 L1453.1,2466.3 L1453.8,2480.4 L1454.8,2493.1 L1455.6,2507.1 L1456.6,2519.9 L1457.7,2532.7 L1458.7,2546.7 L1459.7,2560.7 L1460.7,2573.5 L1462,2587.5 L1463.3,2600.3 L1464.5,2613 L1465.1,2624.9 L1467,2653.6 L1468.9,2680.4 L1470.8,2705.2 L1472.3,2733.9 L1474.5,2750 L1476.3,2767.5 L1478,2785.1 L1479.8,2800.9 L1480.8,2816.6 L1482.6,2834.2 L1484.3,2850 L1486.1,2865.7 L1487.8,2883.3 L1489.2,2899.1 L1491,2916.6 L1492.8,2932.4 L1494.5,2949.9 L1496.6,2965.7 L1498.4,2981.5 L1500.8,2997.3 L1503.6,3011.3 L1506.1,3018.3 L1511.3,3025.3 L1518.4,3032.4 L1521.2,3037.6 L1528.9,3027.1 L1534.1,3020.1 L1541.2,3011.3 L1546.4,3006.1 L1551.7,2999 L1553.4,2992 L1555.2,2981.5 L1558.7,2972.7 L1564,2971 L1573.4,2961.5 L1576.2,2972.7 L1581.5,2986.8 L1583.3,2999 L1585.7,3011.3 L1588.5,3025.3 L1590.3,3037.6 L1592,3051.6 L1594.5,3063.9 L1596.6,3078 L1599,3090.2 L1601.8,3102.5 L1605.3,3114.8 L1609.6,3128.8 L1614.8,3128.8 L1620.1,3127.1 L1627.1,3125.3 L1634.1,3117.6 L1641.1,3127.1 L1644.6,3139.3 L1648.1,3153.4 L1650.9,3165.6 L1653.4,3177.9 L1655.9,3192 L1658,3206 L1660.4,3220 L1662.9,3232.3 L1665,3244.6 L1667.4,3258.6 L1669.9,3270.9 L1672.7,3283.1 L1676.2,3295.4 L1681.5,3307.7 L1685,3316.5 L1690.2,3325.2 L1697.2,3327 L1704.3,3325.2 L1711.3,3334 L1721.8,3332.3 L1728.8,3334 L1735.8,3330.5 L1742.8,3323.5 L1748.1,3313 L1751.6,3298.9 L1755.1,3283.1 L1756.9,3269.1 L1758.6,3255.1 L1760.4,3242.8 L1763.2,3228.8 L1765.6,3214.7 L1768.1,3200.7 L1770.9,3188.4 L1774.4,3179.7 L1780.7,3172.7 L1784.9,3183.2 L1789.1,3195.5 L1792.7,3207.7 L1794.8,3220 L1797.2,3234 L1799,3246.3 L1801.8,3258.6 L1804.2,3272.6 L1807.7,3284.9 L1813,3295.4 L1820,3304.2 L1827,3311.2 L1834,3314.7 L1841.1,3316.5 L1848.1,3320 L1855.1,3325.2 L1862.1,3332.3 L1869.1,3334 L1876.1,3335.1 L1883.1,3337.5 L1890.2,3339.3 L1901,3345.4 L1916.3,3348 L1926.5,3350.5 L1939.3,3346.7 L1952,3348 L1967.3,3348 L1980.1,3351.8 L1989,3345.4 L1998,3350.5 L2008.2,3353.1 L2018.4,3350.5 L2028.6,3353.1 L2037.5,3348 L2046.4,3354.3 L2056.6,3354.3 L2066.8,3358.2 L2079.6,3363.3 L2094.9,3365.8 L2105.1,3370.9 L2117.9,3374.7 L2128.1,3376 L2138.3,3369.6 L2148.5,3376 L2161.2,3376 L2176.5,3377.3" fill="none" stroke="#00f" stroke-width="7" stroke-linecap="round" stroke-linejoin="round" stroke-dasharray="0.01 13.3"/>
<line x1="294.3" y1="3382.6" x2="325.8" y2="3382.6" stroke="#000" stroke-width="6.0" stroke-linecap="butt"/>
<line x1="2148.4" y1="3382.6" x2="2179.9" y2="3382.6" stroke="#000" stroke-width="6.0" stroke-linecap="butt"/>
<text x="278" y="3400" font-size="59" text-anchor="end">0.0</text>
<text x="2210.5" y="3400" font-size="59" text-anchor="start">0.0</text>
<line x1="294.3" y1="2782.5" x2="325.8" y2="2782.5" stroke="#000" stroke-width="6.0" stroke-linecap="butt"/>
<line x1="2148.4" y1="2782.5" x2="2179.9" y2="2782.5" stroke="#000" stroke-width="6.0" stroke-linecap="butt"/>
<text x="278" y="2799.9" font-size="59" text-anchor="end">0.5</text>
<text x="2210.5" y="2799.9" font-size="59" text-anchor="start">0.5</text>
<line x1="294.3" y1="2182.4" x2="325.8" y2="2182.4" stroke="#000" stroke-width="6.0" stroke-linecap="butt"/>
<line x1="2148.4" y1="2182.4" x2="2179.9" y2="2182.4" stroke="#000" stroke-width="6.0" stroke-linecap="butt"/>
<text x="278" y="2199.8" font-size="59" text-anchor="end">1.0</text>
<text x="2210.5" y="2199.8" font-size="59" text-anchor="start">1.0</text>
<line x1="307.8" y1="3082.5" x2="325.8" y2="3082.5" stroke="#000" stroke-width="6.0" stroke-linecap="butt"/>
<line x1="2161.9" y1="3082.5" x2="2179.9" y2="3082.5" stroke="#000" stroke-width="6.0" stroke-linecap="butt"/>
<line x1="307.8" y1="2482.4" x2="325.8" y2="2482.4" stroke="#000" stroke-width="6.0" stroke-linecap="butt"/>
<line x1="2161.9" y1="2482.4" x2="2179.9" y2="2482.4" stroke="#000" stroke-width="6.0" stroke-linecap="butt"/>
<line x1="307.8" y1="1882.3" x2="325.8" y2="1882.3" stroke="#000" stroke-width="6.0" stroke-linecap="butt"/>
<line x1="2161.9" y1="1882.3" x2="2179.9" y2="1882.3" stroke="#000" stroke-width="6.0" stroke-linecap="butt"/>
<line x1="696.6" y1="3382.6" x2="696.6" y2="3414.1" stroke="#000" stroke-width="6.0" stroke-linecap="butt"/>
<text x="696.6" y="3480" font-size="59" text-anchor="middle">400</text>
<line x1="1438.3" y1="3382.6" x2="1438.3" y2="3414.1" stroke="#000" stroke-width="6.0" stroke-linecap="butt"/>
<text x="1438.3" y="3480" font-size="59" text-anchor="middle">600</text>
<line x1="2179.9" y1="3382.6" x2="2179.9" y2="3414.1" stroke="#000" stroke-width="6.0" stroke-linecap="butt"/>
<text x="2179.9" y="3480" font-size="59" text-anchor="middle">800</text>
<line x1="325.8" y1="3382.6" x2="325.8" y2="3400.6" stroke="#000" stroke-width="6.0" stroke-linecap="butt"/>
<line x1="1067.4" y1="3382.6" x2="1067.4" y2="3400.6" stroke="#000" stroke-width="6.0" stroke-linecap="butt"/>
<line x1="1809.1" y1="3382.6" x2="1809.1" y2="3400.6" stroke="#000" stroke-width="6.0" stroke-linecap="butt"/>
<text x="1255.9" y="3591" font-size="71.6" text-anchor="middle">Wavelength (nm)</text>
<text transform="translate(88,2642) rotate(-90)" font-size="71.1" text-anchor="middle">Absorbance</text>
<text transform="translate(2380.4,2681.5) rotate(-90)" font-size="70.5" text-anchor="middle">PL Intensity</text>
<text x="183.4" y="1968" font-size="75.4" text-anchor="start">(b)</text>
<text x="391.3" y="2013" font-size="72" text-anchor="start">Film</text>
<line x1="417.8" y1="3111.4" x2="580.4" y2="3111.4" stroke="#000" stroke-width="5.8" stroke-linecap="butt"/>
<text x="598" y="3135.6" font-size="69" text-anchor="start">P1</text>
<line x1="417.8" y1="3197.9" x2="580.4" y2="3197.9" stroke="#f00" stroke-width="5.8" stroke-linecap="butt"/>
<text x="598" y="3222.1" font-size="69" text-anchor="start">P2</text>
<line x1="417.8" y1="3284.4" x2="580.4" y2="3284.4" stroke="#00f" stroke-width="5.8" stroke-linecap="butt"/>
<text x="598" y="3308.6" font-size="69" text-anchor="start">P3</text>
<line x1="559.8" y1="2244.4" x2="410" y2="2244.4" stroke="#000" stroke-width="2" stroke-linecap="butt"/>
<path d="M378.6,2244.4 L416.4,2234.5 L416.4,2254.3Z" fill="#000"/>
<line x1="1471" y1="2253.1" x2="1680" y2="2253.1" stroke="#000" stroke-width="2" stroke-linecap="butt"/>
<path d="M1711.5,2253.1 L1674.5,2243.3 L1674.5,2262.9Z" fill="#000"/>
</g>
<defs>
<filter id="b1" x="-30%" y="-30%" width="160%" height="160%"><feGaussianBlur stdDeviation="1.2"/></filter>
<filter id="b2" x="-30%" y="-30%" width="160%" height="160%"><feGaussianBlur stdDeviation="2.5"/></filter>
<filter id="b4" x="-40%" y="-40%" width="180%" height="180%"><feGaussianBlur stdDeviation="4.5"/></filter>
<linearGradient id="liq1" x1="0" x2="1" y1="0" y2="0">
<stop offset="0" stop-color="#d21656"/><stop offset="0.22" stop-color="#a70d3c"/><stop offset="0.6" stop-color="#8e0a31"/><stop offset="0.85" stop-color="#b50f42"/><stop offset="1" stop-color="#d8185c"/>
</linearGradient>
<linearGradient id="liq2" x1="0" x2="1" y1="0" y2="0">
<stop offset="0" stop-color="#e02663"/><stop offset="0.25" stop-color="#b5133f"/><stop offset="0.55" stop-color="#930a2e"/><stop offset="0.85" stop-color="#c0163f"/><stop offset="1" stop-color="#e42a68"/>
</linearGradient>
<linearGradient id="liq3" x1="0" x2="0" y1="0" y2="1">
<stop offset="0" stop-color="#4b0b3a"/><stop offset="0.3" stop-color="#7a0c3c"/><stop offset="0.55" stop-color="#b00b45"/><stop offset="0.75" stop-color="#8c0930"/><stop offset="1" stop-color="#9a0b34"/>
</linearGradient>
<linearGradient id="bg2" x1="0" x2="0" y1="0" y2="1">
<stop offset="0" stop-color="#05052b"/><stop offset="0.62" stop-color="#09093c"/><stop offset="0.66" stop-color="#15156f"/><stop offset="1" stop-color="#14146a"/>
</linearGradient>
<clipPath id="c1"><rect x="1732" y="125" width="123" height="279"/></clipPath>
<clipPath id="c2"><rect x="1878.4" y="125" width="160.4" height="279"/></clipPath>
<clipPath id="c3"><rect x="2059.6" y="125" width="151.3" height="279"/></clipPath>
</defs>
<g id="inset" font-family="'Liberation Sans',sans-serif" font-weight="bold">
<!-- vial P1 -->
<g clip-path="url(#c1)">
<rect x="1732" y="125" width="123" height="279" fill="#19142f"/>
<ellipse cx="1789.5" cy="150" rx="38" ry="9" fill="#2a2163" filter="url(#b2)"/>
<rect x="1762" y="159" width="55" height="47" fill="#262428"/>
<rect x="1774" y="159" width="20" height="47" fill="#4a4a50" filter="url(#b2)"/>
<path d="M1749.5,204 H1829.5 V375 Q1829.5,394 1789.5,394 Q1749.5,394 1749.5,375Z" fill="#7c1d5c" filter="url(#b1)"/>
<ellipse cx="1787.5" cy="243" rx="36" ry="14" fill="#f3b4f3" filter="url(#b4)"/>
<ellipse cx="1786" cy="241" rx="24" ry="7" fill="#fff2ff" filter="url(#b2)"/>
<path d="M1751,268 H1829 V375 Q1829,393 1790,393 Q1751,393 1751,375Z" fill="url(#liq1)" filter="url(#b1)"/>
<ellipse cx="1791" cy="266" rx="38" ry="11" fill="#e21f8a" filter="url(#b1)"/>
<ellipse cx="1790" cy="263" rx="26" ry="6" fill="#f04fb2" filter="url(#b2)"/>
<rect x="1751" y="364" width="78" height="5" fill="#d61a5a" opacity="0.7" filter="url(#b1)"/>
<rect x="1782.7" y="210" width="3" height="184" fill="#f3c4d2" filter="url(#b1)"/>
<rect x="1749.5" y="246" width="4.5" height="46" fill="#f4eaff" filter="url(#b1)"/>
<text x="1761" y="203.5" font-size="51" style="fill:#fff">P1</text>
</g>
<!-- vial P2 -->
<g clip-path="url(#c2)">
<rect x="1878.4" y="125" width="160.4" height="279" fill="url(#bg2)"/>
<rect x="1878.4" y="125" width="3" height="279" fill="#b9b6d6"/>
<rect x="2036.3" y="125" width="2.5" height="279" fill="#2d2d8a"/>
<rect x="1911" y="158" width="90" height="55" fill="#04041f" filter="url(#b2)"/>
<ellipse cx="1958" cy="153" rx="21" ry="3" fill="#1c1c7a" filter="url(#b1)"/>
<rect x="1911" y="212" width="90" height="175" rx="8" fill="#0a0a40" filter="url(#b2)"/>
<rect x="1917" y="245" width="74" height="56" rx="9" fill="#5aa0ff" filter="url(#b2)"/>
<rect x="1921" y="249" width="66" height="50" rx="8" fill="#b3e0fb" filter="url(#b2)"/>
<rect x="1911" y="300" width="87" height="87" rx="9" fill="url(#liq2)" filter="url(#b1)"/>
<ellipse cx="1954.7" cy="301" rx="44" ry="9.5" fill="#ef3f93" filter="url(#b1)"/>
<ellipse cx="1954.7" cy="297.5" rx="36" ry="5.5" fill="#e33ab8" filter="url(#b1)"/>
<text x="1918" y="203.5" font-size="51" style="fill:#fff">P2</text>
</g>
<!-- vial P3 -->
<g clip-path="url(#c3)">
<rect x="2059.6" y="125" width="151.3" height="279" fill="#0c0a25"/>
<path d="M2090,206 H2179 V370 Q2179,388 2134.5,388 Q2090,388 2090,370Z" fill="#1c1140" filter="url(#b1)"/>
<rect x="2094" y="236" width="76" height="60" rx="8" fill="#8f9cf5" filter="url(#b2)"/>
<path d="M2100,240 L2128,236 L2160,242 L2168,262 L2166,292 L2130,288 L2112,282 L2104,290Z" fill="#d6dcff" filter="url(#b2)"/>
<g fill="#6a1260" filter="url(#b1)"><circle cx="2107" cy="243" r="4"/><circle cx="2116" cy="247" r="3.5"/><circle cx="2133" cy="254" r="4"/><circle cx="2145" cy="247" r="4.5"/><circle cx="2144" cy="264" r="3.5"/><circle cx="2160" cy="243" r="3.5"/><circle cx="2170" cy="241" r="4"/><circle cx="2165" cy="280" r="3"/><circle cx="2152" cy="257" r="3"/><circle cx="2114" cy="259" r="2.5"/></g>
<path d="M2091,297 Q2134,284 2178,297 V370 Q2178,387.5 2134.5,387.5 Q2091,387.5 2091,370Z" fill="url(#liq3)" filter="url(#b1)"/>
<rect x="2090" y="250" width="5" height="65" fill="#7fb4ff" filter="url(#b1)"/>
<rect x="2133" y="296" width="3" height="88" fill="#c9808f" opacity="0.8" filter="url(#b1)"/>
<rect x="2130" y="211" width="8" height="4.5" fill="#ddd" filter="url(#b1)"/><rect x="2130" y="225" width="8" height="4.5" fill="#ddd" filter="url(#b1)"/>
<rect x="2088" y="138" width="96.5" height="68" rx="11" fill="#16a0ad" filter="url(#b1)"/>
<ellipse cx="2136" cy="147" rx="47" ry="8.5" fill="#1685b4" filter="url(#b1)"/>
<text x="2098.5" y="201.5" font-size="51" style="fill:#fff">P3</text>
</g>
</g>

</svg>
</body></html>
